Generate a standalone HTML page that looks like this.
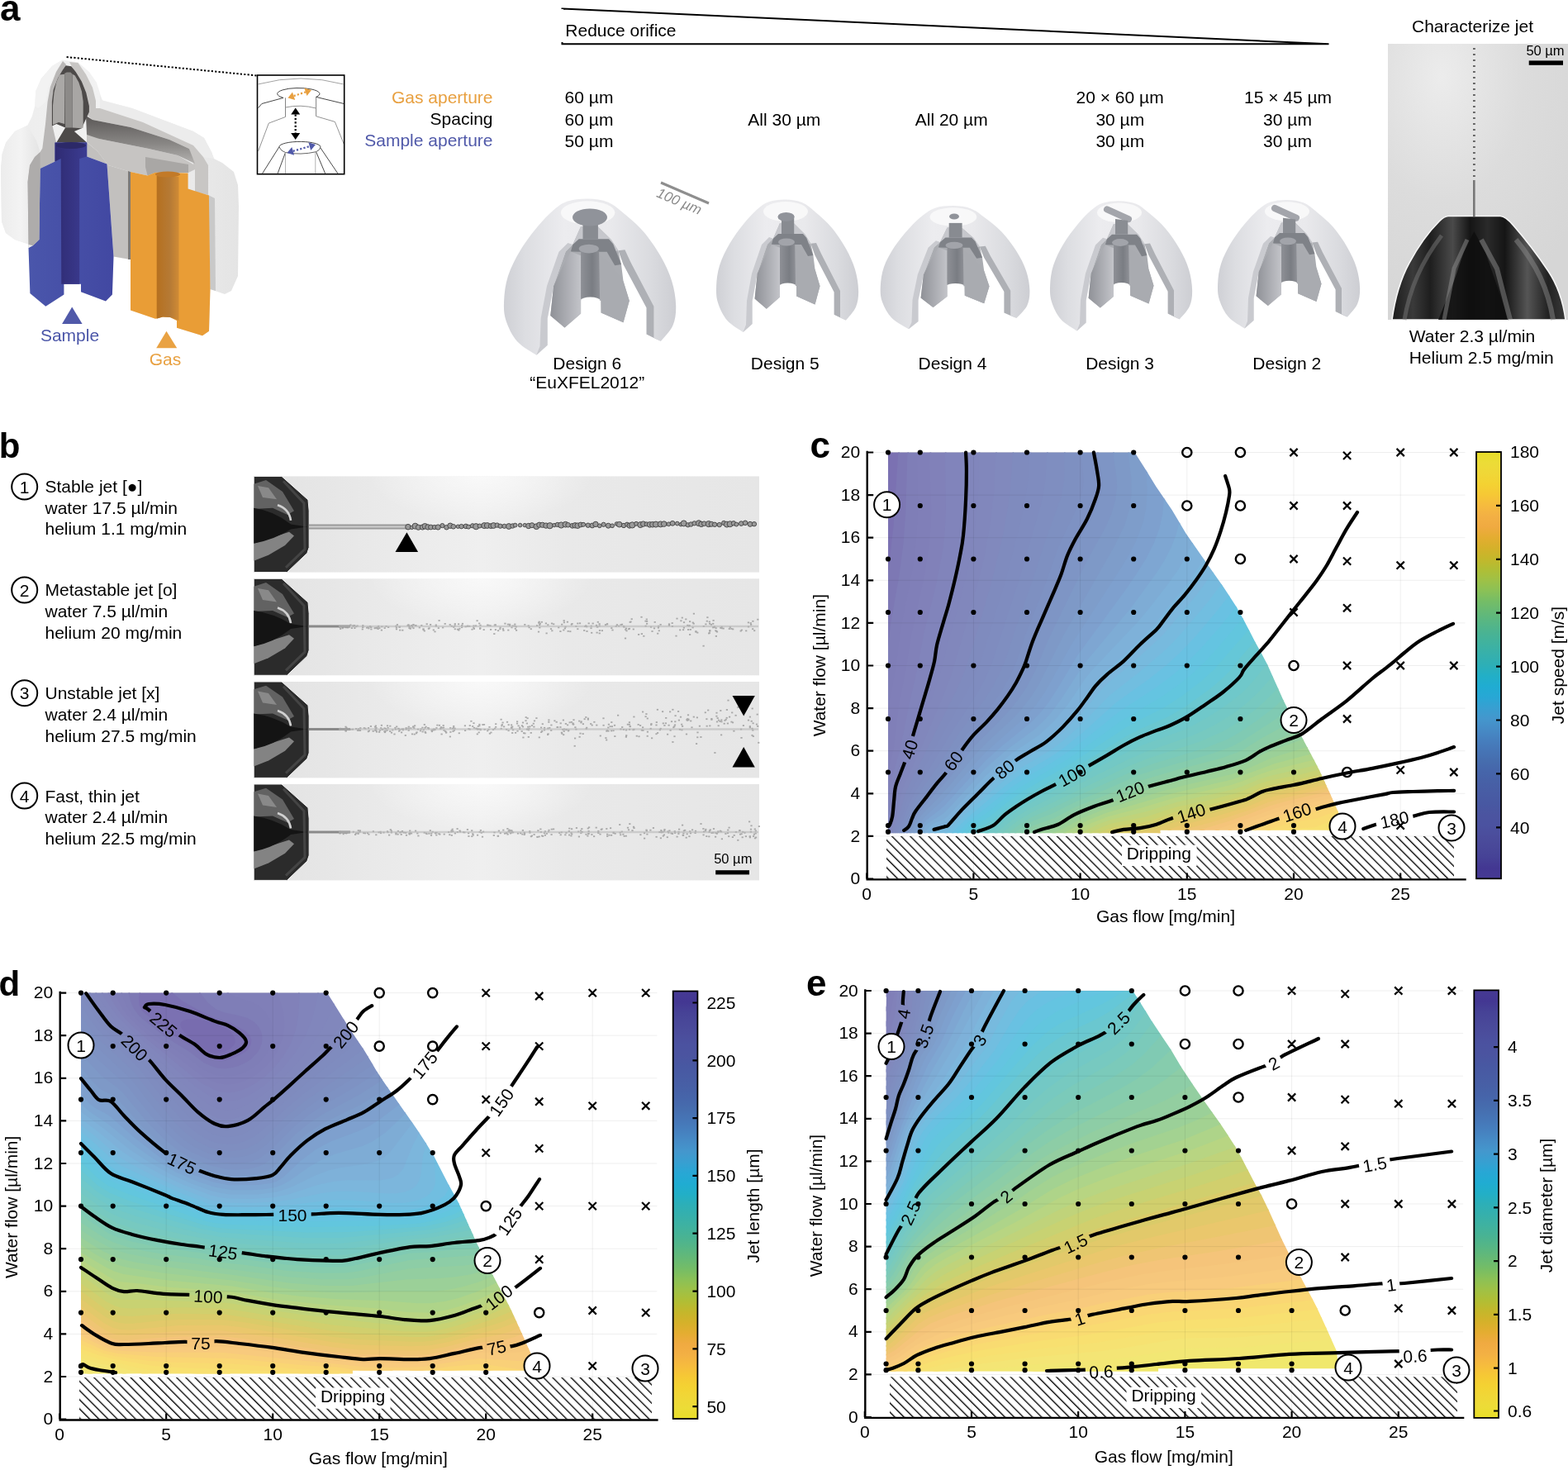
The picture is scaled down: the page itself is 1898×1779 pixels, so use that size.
<!DOCTYPE html><html><head><meta charset="utf-8"><title>Figure</title><style>html,body{margin:0;padding:0;background:#fff;overflow:hidden}svg{display:block}</style></head><body><svg width="1898" height="1779" viewBox="0 0 1898 1779"><defs>
<pattern id="hatch" patternUnits="userSpaceOnUse" width="7.85" height="20" patternTransform="rotate(-45)">
<rect x="0" y="0" width="1.35" height="20" fill="#000"/>
</pattern>
</defs>
<g style="font-family:'Liberation Sans',Arial,sans-serif;font-weight:bold"><text x="0" y="24.5" font-size="44">a</text><text x="-1.2" y="553.9" font-size="42">b</text><text x="980.6" y="554.4" font-size="44">c</text><text x="-1.5" y="1204.5" font-size="42">d</text><text x="976" y="1204.8" font-size="44">e</text></g>
<linearGradient id="shellL" x1="0" y1="0" x2="1" y2="0"><stop offset="0" stop-color="#ececec"/><stop offset="0.5" stop-color="#f3f3f3"/><stop offset="1" stop-color="#e4e4e4"/></linearGradient>
<linearGradient id="gasCav" x1="0" y1="0" x2="0" y2="1"><stop offset="0" stop-color="#5a5756"/><stop offset="0.6" stop-color="#8a8886"/><stop offset="1" stop-color="#b4b2b0"/></linearGradient>
<linearGradient id="blueCol" x1="0" y1="0" x2="1" y2="0"><stop offset="0" stop-color="#2f2b72"/><stop offset="1" stop-color="#3c3c92"/></linearGradient>
<linearGradient id="oraCol" x1="0" y1="0" x2="1" y2="0"><stop offset="0" stop-color="#b5701f"/><stop offset="0.6" stop-color="#b67a35"/><stop offset="1" stop-color="#d08b35"/></linearGradient>
<linearGradient id="blueMain" x1="0" y1="0" x2="1" y2="0"><stop offset="0" stop-color="#4a56ab"/><stop offset="1" stop-color="#4248a2"/></linearGradient>
<polygon points="75.5,72.6 63.0,80.0 50.0,95.0 43.2,110.4 42.3,128.3 38.7,141.0 33.3,151.7 18.0,159.0 7.2,172.4 2.7,186.0 1.0,204.0 2.0,268.0 7.0,282.0 18.0,290.0 36.0,296.0 36.4,355.0 55.3,370.7 77.4,356.5 77.4,343.8 98.0,343.8 98.0,353.3 128.0,364.4 135.9,356.5 137.5,310.6 155.0,314.0 158.0,314.0 158.0,375.4 188.0,385.7 197.0,383.5 206.0,384.0 214.0,388.0 214.0,396.8 245.0,406.3 253.0,400.7 254.5,350.0 272.0,356.0 280.0,352.0 288.0,334.0 289.0,250.0 288.0,224.0 283.0,208.0 269.0,197.0 259.0,192.0 256.0,184.0 247.0,167.0 234.0,159.0 160.0,131.0 124.0,121.5 121.0,121.0 121.4,114.0 117.0,100.0 108.0,87.0 94.4,75.3" fill="url(#shellL)"/>
<polygon points="121.0,114.0 124.0,121.5 160.0,131.0 234.0,159.0 247.0,167.0 256.0,184.0 259.0,192.0 246.0,190.0 234.0,176.0 173.0,148.0 121.0,131.0" fill="#ececec"/>
<polygon points="75.5,72.6 63.0,80.0 50.0,95.0 43.2,110.4 42.3,128.3 46.0,131.0 55.0,124.0 58.0,108.0 65.0,92.0" fill="#f2f2f2"/>
<polygon points="76.0,74.0 80.0,78.0 70.0,95.0 64.0,115.0 63.0,150.0 68.0,172.0 66.5,172.4 66.5,195.5 48.6,204.0 47.4,290.0 40.0,297.0 34.5,300.0 33.5,220.0 36.0,200.0 42.0,190.0 48.6,184.0 51.3,179.6 55.0,150.0 57.6,123.0 61.0,105.0 68.0,87.0" fill="#b9b7b6"/>
<polygon points="84.0,75.0 94.4,76.0 104.0,90.0 112.0,106.0 116.0,122.0 116.0,131.0 121.0,131.0 173.0,148.0 234.0,176.0 246.0,190.0 252.0,200.0 252.0,236.0 236.0,232.0 236.0,205.0 229.0,180.0 205.0,169.0 158.0,154.0 112.0,145.0 106.0,140.0 104.0,120.0 98.0,100.0 90.0,86.0" fill="#c8c6c4"/>
<polygon points="105.0,160.0 120.0,168.0 150.0,174.0 180.0,180.0 215.0,188.0 236.0,200.0 236.0,205.0 228.0,209.0 188.0,208.7 178.6,212.6 158.0,208.0 131.0,200.0 118.0,183.0 105.0,172.0" fill="#c6c4c2"/>
<polygon points="104.0,140.0 112.0,145.0 158.0,154.0 205.0,169.0 229.0,180.0 236.0,198.0 215.0,188.0 180.0,180.0 150.0,174.0 120.0,168.0 105.0,163.0" fill="url(#gasCav)"/>
<polygon points="176.0,190.0 228.0,199.0 228.0,209.0 188.0,208.7 178.6,212.6 176.0,202.0" fill="#a9a7a5"/>
<polygon points="79.5,79.3 86.3,80.2 91.7,87.0 98.9,98.7 104.3,112.2 107.9,128.3 107.9,135.5 98.9,155.3 89.9,158.9 105.2,172.4 68.3,172.4 79.1,154.4 68.3,149.9 62.9,152.6 62.9,123.0 64.7,108.6 70.1,94.2 75.5,85.2" fill="#4d4a49"/>
<polygon points="71.9,90.6 78.2,89.7 78.2,150.0 71.0,148.1 64.0,151.0 64.0,127.4 65.5,112.2 68.3,99.6" fill="#aaa8a6"/>
<polygon points="87.7,89.7 90.8,91.5 95.3,99.6 98.9,110.4 100.7,123.0 100.7,154.4 98.9,155.3 87.7,154.4" fill="#a8a6a4"/>
<polygon points="78.2,88.8 80.9,87.4 85.4,87.4 87.7,89.7 87.7,154.4 79.1,154.4" fill="#8c8a88"/>
<polygon points="105.2,172.4 118.0,183.0 131.0,200.0 158.0,208.0 158.0,314.0 137.5,310.6 129.5,198.5 105.2,189.5" fill="#c2c0be"/>
<polygon points="155.0,207.0 158.0,208.0 158.0,314.0 155.0,314.0" fill="#7d7b79"/>
<polygon points="252.0,236.0 260.0,240.0 261.0,352.0 254.5,350.0" fill="#c9c9c9"/>
<polygon points="48.6,204.0 66.5,195.5 66.5,172.4 105.2,172.4 105.2,189.5 129.5,198.5 137.5,310.6 135.9,356.5 128.0,364.4 98.0,353.3 98.0,343.8 77.4,343.8 77.4,356.5 55.3,370.7 36.4,354.9 34.5,300.0 40.0,297.0 47.4,290.0" fill="url(#blueMain)"/>
<polygon points="66.5,172.4 105.2,172.4 105.2,189.5 96.2,192.0 96.2,343.8 74.3,343.8 73.7,192.0 66.5,195.5" fill="url(#blueCol)"/>
<ellipse cx="86" cy="176" rx="18" ry="4" fill="#2c2968"/>
<polygon points="33.3,151.7 18.0,159.0 7.2,172.4 2.7,186.0 1.0,204.0 2.0,268.0 7.0,282.0 18.0,290.0 36.0,296.0 40.0,297.0 34.5,300.0 33.5,220.0 36.0,200.0 42.0,190.0 48.6,184.0 44.0,170.0 38.0,160.0" fill="url(#shellL)"/>
<polygon points="36.0,200.0 42.0,190.0 48.6,184.0 48.6,204.0 47.4,290.0 40.0,297.0 34.5,296.0 33.5,220.0" fill="#aeacab"/>
<polygon points="158.0,208.0 178.6,212.6 188.0,208.7 227.6,209.5 227.6,228.4 252.9,236.4 254.5,350.0 253.0,400.7 245.0,406.3 214.0,396.8 214.0,388.0 206.0,384.0 197.0,383.5 188.0,385.7 158.0,375.4" fill="#e99d36"/>
<polygon points="189.7,213.0 216.5,214.0 216.5,388.0 206.0,384.0 197.0,383.5 189.7,385.7" fill="url(#oraCol)"/>
<ellipse cx="203" cy="211" rx="15" ry="3.5" fill="#c27a28"/>
<polygon points="75.1,392 87.2,371.5 99.6,392" fill="#5059a9"/>
<text x="84.5" y="412.6" text-anchor="middle" style="font-family:'Liberation Sans',Arial,sans-serif;font-size:21px;fill:#4a55a8">Sample</text>
<polygon points="189.2,421.3 201.5,400.7 214.2,421.3" fill="#e9a243"/>
<text x="200" y="441.8" text-anchor="middle" style="font-family:'Liberation Sans',Arial,sans-serif;font-size:21px;fill:#e8a040">Gas</text>
<line x1="80.6" y1="69" x2="311.5" y2="91.5" stroke="#000" stroke-width="2" stroke-dasharray="2.2 2.2"/>
<g fill="none" stroke="#555" stroke-width="0.9">
<path d="M312.6 101.9Q364 88 415.5 101.9" stroke="#999"/>
<path d="M343 118.4A25.6 7 0 1 1 382.6 117.4" stroke="#333"/>
<path d="M312.6 130.6L316.9 125.5L343 118.4M382.6 117.4L416.3 125.5" stroke="#333"/>
<path d="M345.5 118.4V141.5M382.6 117.4V140.7" stroke="#777"/>
<path d="M345.5 130Q364 126 382.6 131" stroke="#888"/>
<path d="M345.5 141.5L325.3 149.1L312.6 182.9M382.6 140.7L405.4 147.4L416.3 174.4" stroke="#888"/>
<path d="M337.9 177.8A25 6.4 0 1 1 387.7 178.6" stroke="#333"/>
<path d="M337.9 177.8Q340 183 345.5 184.5Q364 188 382.6 183.7Q387 182 387.7 178.6" stroke="#555"/>
<path d="M337.9 177.8L317.7 209.8M387.7 178.6L408.8 209.8M345.5 184.5L336.2 209.8M382.6 183.7L393.6 209.8" stroke="#333"/>
<path d="M345.5 184.5V209.8M381.8 183.7V209.8" stroke="#aaa"/>
</g>
<line x1="355.6" y1="116.1" x2="369.9" y2="111.4" stroke="#e8a040" stroke-width="2.2" stroke-dasharray="2.2 2.2"/><polygon points="377.0,109.0 371.5,116.1 368.3,106.6" fill="#e8a040"/><polygon points="348.5,118.5 357.2,120.9 354.0,111.4" fill="#e8a040"/>
<line x1="357.7" y1="138.5" x2="357.7" y2="161.0" stroke="#000" stroke-width="2.2" stroke-dasharray="2.2 2.2"/><polygon points="357.7,169.0 352.2,161.0 363.2,161.0" fill="#000"/><polygon points="357.7,130.5 352.2,138.5 363.2,138.5" fill="#000"/>
<line x1="354.7" y1="182.9" x2="374.8" y2="177.1" stroke="#5059a9" stroke-width="2.2" stroke-dasharray="2.2 2.2"/><polygon points="382.0,175.0 376.2,181.9 373.4,172.3" fill="#5059a9"/><polygon points="347.5,185.0 356.1,187.7 353.3,178.1" fill="#5059a9"/>
<rect x="311.5" y="91" width="105.2" height="119.7" fill="none" stroke="#000" stroke-width="1.6"/>
<g style="font-family:'Liberation Sans',Arial,sans-serif;font-size:21px" text-anchor="end"><text x="596.5" y="124.7" fill="#e8a040">Gas aperture</text><text x="596.5" y="150.8">Spacing</text><text x="596.5" y="177" fill="#5059a9">Sample aperture</text></g>
<linearGradient id="dgShell" x1="0" y1="0" x2="1" y2="0"><stop offset="0" stop-color="#cfd0d5"/><stop offset="0.12" stop-color="#dcdde1"/><stop offset="0.35" stop-color="#ececef"/><stop offset="0.62" stop-color="#e9e9ec"/><stop offset="0.85" stop-color="#dadbdf"/><stop offset="1" stop-color="#cdced3"/></linearGradient>
<linearGradient id="dgLeg" x1="0" y1="0" x2="1" y2="0"><stop offset="0" stop-color="#8f9197"/><stop offset="1" stop-color="#c3c4c9"/></linearGradient>
<linearGradient id="dgTube" x1="0" y1="0" x2="1" y2="0"><stop offset="0" stop-color="#8e9096"/><stop offset="0.6" stop-color="#7a7d83"/><stop offset="1" stop-color="#8e9096"/></linearGradient>
<path d="M649.3 429.8C645.4 427.0 632.0 420.0 625.9 413.0C619.8 406.0 615.1 396.1 612.5 388.0C609.8 379.8 609.7 373.0 610.1 364.0C610.5 355.1 611.6 344.4 614.9 334.3C618.2 324.2 623.7 313.2 629.7 303.3C635.6 293.3 643.7 282.8 650.5 274.6C657.2 266.4 664.0 259.5 670.1 254.3C676.2 249.1 680.2 245.9 687.1 243.6C694.1 241.3 703.5 240.3 711.7 240.5C719.9 240.7 729.0 241.8 736.1 244.7C743.3 247.6 747.4 251.9 754.5 257.8C761.7 263.8 771.4 271.7 779.0 280.5C786.5 289.2 794.1 300.4 799.8 310.3C805.5 320.3 810.2 330.2 813.2 340.2C816.3 350.1 818.0 361.1 818.2 370.1C818.4 379.0 817.5 386.7 814.4 393.9C811.4 401.0 802.2 409.8 799.8 413.0L782.6 404.6L782.6 372.4L754.5 319.9L748.4 303.3L739.8 290.0L723.9 274.6L703.1 274.0L693.3 296.1L684.7 304.4L670.1 346.2L662.7 385.6L662.7 417.8Z" fill="url(#dgShell)"/>
<polygon points="649.3,429.8 662.7,417.8 662.7,385.6 670.1,346.2 684.7,304.4 693.3,296.1 687.4,294.1 676.5,304.7 662.0,346.0 654.7,384.9 653.5,419.1" fill="#c9cacf"/>
<polygon points="782.6,404.6 799.8,413.0 791.4,408.5 791.4,370.8 763.6,317.7 756.4,302.3 748.4,303.3 754.5,319.9 782.6,372.4" fill="#aeb0b5"/>
<ellipse cx="711.6" cy="257.5" rx="32.7" ry="14.2" fill="#f9f9fa" opacity="0.9"/>
<polygon points="693.3,296.1 703.1,274.0 723.9,274.6 739.8,290.0 748.4,303.3 752.0,319.9 754.5,340.2 761.8,364.0 754.5,390.3 727.6,378.4 727.3,363.7 703.1,363.7 703.1,379.6 683.5,396.4 666.3,382.0 670.1,346.2 684.7,304.4" fill="#aaacb1"/>
<polygon points="693.3,296.1 703.1,274.0 723.9,274.6 739.8,290.0 748.4,303.3 741.8,304.7 734.6,294.1 700.7,294.1" fill="#c6c7cc"/>
<polygon points="693.3,296.1 700.7,289.3 737.0,289.3 742.2,295.2 752.0,319.9 744.2,321.2 734.6,304.7 703.1,304.7 690.9,304.4" fill="#7f8288"/>
<polygon points="690.9,304.4 703.1,309.2 703.1,379.6 683.5,396.4 666.3,382.0 670.1,346.2 681.1,322.3" fill="url(#dgLeg)"/>
<polygon points="723.9,308.0 736.1,316.4 754.5,340.2 761.8,364.0 754.5,390.3 727.6,378.4 727.6,362.9" fill="#a9abb0"/>
<polygon points="703.1,304.4 725.1,304.4 726.1,361.7 703.1,361.7" fill="url(#dgTube)"/>
<ellipse cx="714.6" cy="363.1" rx="11.6" ry="3.5" fill="#fff"/>
<ellipse cx="712.8" cy="301.1" rx="12.1" ry="5.3" fill="#a2a4aa"/>
<polygon points="705.5,266.9 723.9,266.9 723.9,289.3 705.5,289.3" fill="#888b91"/>
<ellipse cx="714.0" cy="263.0" rx="21.0" ry="10.5" fill="#90939a"/>
<path d="M899.5 402.0C896.3 399.6 885.3 393.7 880.2 387.8C875.1 381.9 871.3 373.5 869.1 366.6C866.9 359.7 866.8 353.9 867.1 346.3C867.4 338.7 868.4 329.7 871.1 321.1C873.8 312.5 878.4 303.2 883.3 294.8C888.2 286.4 894.9 277.4 900.5 270.5C906.1 263.6 911.7 257.7 916.7 253.3C921.8 248.9 925.1 246.1 930.8 244.2C936.5 242.2 944.4 241.4 951.1 241.6C957.9 241.8 965.4 242.8 971.3 245.2C977.2 247.6 980.6 251.2 986.5 256.3C992.4 261.4 1000.5 268.1 1006.7 275.5C1012.9 282.9 1019.2 292.4 1023.9 300.8C1028.6 309.2 1032.5 317.7 1035.0 326.1C1037.5 334.5 1038.9 343.8 1039.1 351.4C1039.3 359.0 1038.5 365.5 1036.0 371.6C1033.5 377.7 1025.9 385.1 1023.9 387.8L1009.7 380.7L1009.7 353.4L986.5 308.9L981.4 294.8L974.3 283.6L961.2 270.5L944.0 270.0L935.9 288.7L928.8 295.8L916.7 331.2L910.6 364.6L910.6 391.9Z" fill="url(#dgShell)"/>
<polygon points="899.5,402.0 910.6,391.9 910.6,364.6 916.7,331.2 928.8,295.8 935.9,288.7 931.0,287.0 922.0,296.0 910.0,331.0 904.0,364.0 903.0,393.0" fill="#c9cacf"/>
<polygon points="1009.7,380.7 1023.9,387.8 1017.0,384.0 1017.0,352.0 994.0,307.0 988.0,294.0 981.4,294.8 986.5,308.9 1009.7,353.4" fill="#aeb0b5"/>
<ellipse cx="951.0" cy="256.0" rx="27.0" ry="12.0" fill="#f9f9fa" opacity="0.9"/>
<polygon points="935.9,288.7 944.0,270.0 961.2,270.5 974.3,283.6 981.4,294.8 984.4,308.9 986.5,326.1 992.5,346.3 986.5,368.6 964.2,358.5 964.0,346.0 944.0,346.0 944.0,359.5 927.8,373.7 913.6,361.5 916.7,331.2 928.8,295.8" fill="#aaacb1"/>
<polygon points="935.9,288.7 944.0,270.0 961.2,270.5 974.3,283.6 981.4,294.8 976.0,296.0 970.0,287.0 942.0,287.0" fill="#c6c7cc"/>
<polygon points="935.9,288.7 942.0,283.0 972.0,283.0 976.3,288.0 984.4,308.9 978.0,310.0 970.0,296.0 944.0,296.0 933.9,295.8" fill="#7f8288"/>
<polygon points="933.9,295.8 944.0,299.8 944.0,359.5 927.8,373.7 913.6,361.5 916.7,331.2 925.8,310.9" fill="url(#dgLeg)"/>
<polygon points="961.2,298.8 971.3,305.9 986.5,326.1 992.5,346.3 986.5,368.6 964.2,358.5 964.2,345.3" fill="#a9abb0"/>
<polygon points="944.0,295.8 962.2,295.8 963.0,344.3 944.0,344.3" fill="url(#dgTube)"/>
<ellipse cx="953.5" cy="345.5" rx="9.6" ry="3.0" fill="#fff"/>
<ellipse cx="952.0" cy="293.0" rx="10.0" ry="4.5" fill="#a2a4aa"/>
<polygon points="946.0,264.0 961.2,264.0 961.2,283.0 946.0,283.0" fill="#888b91"/>
<ellipse cx="951.6" cy="262.4" rx="10.1" ry="5.5" fill="#90939a"/>
<path d="M1099.8 398.3C1096.4 396.1 1084.9 390.5 1079.6 385.1C1074.2 379.6 1070.2 371.8 1067.9 365.3C1065.6 358.9 1065.5 353.5 1065.8 346.5C1066.2 339.4 1067.2 331.0 1070.0 323.0C1072.8 315.0 1077.7 306.4 1082.8 298.6C1088.0 290.7 1095.0 282.4 1100.9 276.0C1106.7 269.5 1112.6 264.0 1117.9 260.0C1123.2 255.9 1126.7 253.3 1132.7 251.5C1138.7 249.7 1146.9 248.9 1154.0 249.1C1161.1 249.2 1169.0 250.2 1175.2 252.4C1181.4 254.7 1185.0 258.1 1191.2 262.8C1197.4 267.5 1205.8 273.7 1212.4 280.6C1218.9 287.5 1225.5 296.3 1230.4 304.1C1235.4 312.0 1239.4 319.8 1242.1 327.7C1244.8 335.5 1246.2 344.1 1246.4 351.2C1246.6 358.3 1245.8 364.3 1243.2 370.0C1240.5 375.6 1232.6 382.5 1230.4 385.1L1215.5 378.5L1215.5 353.1L1191.2 311.7L1185.8 298.6L1178.4 288.1L1164.6 276.0L1146.5 275.5L1138.0 292.9L1130.6 299.5L1117.9 332.4L1111.5 363.5L1111.5 388.9Z" fill="url(#dgShell)"/>
<polygon points="1099.8,398.3 1111.5,388.9 1111.5,363.5 1117.9,332.4 1130.6,299.5 1138.0,292.9 1132.9,291.3 1123.5,299.7 1110.8,332.2 1104.5,362.9 1103.5,389.9" fill="#c9cacf"/>
<polygon points="1215.5,378.5 1230.4,385.1 1223.2,381.5 1223.2,351.8 1199.0,309.9 1192.8,297.8 1185.8,298.6 1191.2,311.7 1215.5,353.1" fill="#aeb0b5"/>
<ellipse cx="1153.9" cy="262.5" rx="28.4" ry="11.2" fill="#f9f9fa" opacity="0.9"/>
<polygon points="1138.0,292.9 1146.5,275.5 1164.6,276.0 1178.4,288.1 1185.8,298.6 1189.0,311.7 1191.2,327.7 1197.5,346.5 1191.2,367.2 1167.8,357.8 1167.5,346.2 1146.5,346.2 1146.5,358.7 1129.5,371.9 1114.6,360.6 1117.9,332.4 1130.6,299.5" fill="#aaacb1"/>
<polygon points="1138.0,292.9 1146.5,275.5 1164.6,276.0 1178.4,288.1 1185.8,298.6 1180.2,299.7 1173.8,291.3 1144.5,291.3" fill="#c6c7cc"/>
<polygon points="1138.0,292.9 1144.5,287.6 1176.0,287.6 1180.5,292.2 1189.0,311.7 1182.2,312.7 1173.8,299.7 1146.5,299.7 1135.9,299.5" fill="#7f8288"/>
<polygon points="1135.9,299.5 1146.5,303.2 1146.5,358.7 1129.5,371.9 1114.6,360.6 1117.9,332.4 1127.4,313.5" fill="url(#dgLeg)"/>
<polygon points="1164.6,302.3 1175.2,308.9 1191.2,327.7 1197.5,346.5 1191.2,367.2 1167.8,357.8 1167.8,345.5" fill="#a9abb0"/>
<polygon points="1146.5,299.5 1165.7,299.5 1166.5,344.6 1146.5,344.6" fill="url(#dgTube)"/>
<ellipse cx="1156.5" cy="345.7" rx="10.1" ry="2.8" fill="#fff"/>
<ellipse cx="1155.0" cy="296.9" rx="10.5" ry="4.2" fill="#a2a4aa"/>
<polygon points="1148.7,269.9 1164.6,269.9 1164.6,287.6 1148.7,287.6" fill="#888b91"/>
<ellipse cx="1155.0" cy="262.0" rx="6.0" ry="3.5" fill="#90939a"/>
<path d="M1303.5 400.4C1300.3 398.0 1289.3 392.2 1284.2 386.4C1279.1 380.7 1275.3 372.4 1273.1 365.7C1270.9 358.9 1270.8 353.2 1271.1 345.8C1271.4 338.3 1272.4 329.5 1275.1 321.1C1277.8 312.7 1282.4 303.6 1287.3 295.3C1292.2 287.0 1298.9 278.3 1304.5 271.5C1310.1 264.7 1315.7 258.9 1320.7 254.6C1325.8 250.3 1329.1 247.6 1334.8 245.7C1340.5 243.8 1348.3 243.0 1355.1 243.2C1361.8 243.3 1369.4 244.3 1375.3 246.7C1381.2 249.1 1384.6 252.6 1390.5 257.6C1396.4 262.5 1404.5 269.1 1410.7 276.4C1416.9 283.7 1423.2 292.9 1427.9 301.2C1432.6 309.4 1436.5 317.7 1439.0 326.0C1441.5 334.2 1442.9 343.3 1443.1 350.8C1443.3 358.2 1442.5 364.6 1440.0 370.6C1437.5 376.5 1429.9 383.8 1427.9 386.4L1413.7 379.5L1413.7 352.7L1390.5 309.1L1385.4 295.3L1378.3 284.3L1365.2 271.5L1348.0 271.0L1339.9 289.3L1332.8 296.3L1320.7 331.0L1314.6 363.7L1314.6 390.5Z" fill="url(#dgShell)"/>
<polygon points="1303.5,400.4 1314.6,390.5 1314.6,363.7 1320.7,331.0 1332.8,296.3 1339.9,289.3 1335.0,287.7 1326.0,296.5 1314.0,330.8 1308.0,363.1 1307.0,391.5" fill="#c9cacf"/>
<polygon points="1413.7,379.5 1427.9,386.4 1421.0,382.7 1421.0,351.4 1398.0,307.3 1392.0,294.5 1385.4,295.3 1390.5,309.1 1413.7,352.7" fill="#aeb0b5"/>
<ellipse cx="1355.0" cy="257.3" rx="27.0" ry="11.8" fill="#f9f9fa" opacity="0.9"/>
<polygon points="1339.9,289.3 1348.0,271.0 1365.2,271.5 1378.3,284.3 1385.4,295.3 1388.4,309.1 1390.5,326.0 1396.5,345.8 1390.5,367.6 1368.2,357.7 1368.0,345.5 1348.0,345.5 1348.0,358.7 1331.8,372.6 1317.6,360.7 1320.7,331.0 1332.8,296.3" fill="#aaacb1"/>
<polygon points="1339.9,289.3 1348.0,271.0 1365.2,271.5 1378.3,284.3 1385.4,295.3 1380.0,296.5 1374.0,287.7 1346.0,287.7" fill="#c6c7cc"/>
<polygon points="1339.9,289.3 1346.0,283.7 1376.0,283.7 1380.3,288.6 1388.4,309.1 1382.0,310.2 1374.0,296.5 1348.0,296.5 1337.9,296.3" fill="#7f8288"/>
<polygon points="1337.9,296.3 1348.0,300.2 1348.0,358.7 1331.8,372.6 1317.6,360.7 1320.7,331.0 1329.8,311.1" fill="url(#dgLeg)"/>
<polygon points="1365.2,299.2 1375.3,306.2 1390.5,326.0 1396.5,345.8 1390.5,367.6 1368.2,357.7 1368.2,344.8" fill="#a9abb0"/>
<polygon points="1348.0,296.3 1366.2,296.3 1367.0,343.8 1348.0,343.8" fill="url(#dgTube)"/>
<ellipse cx="1357.5" cy="345.0" rx="9.6" ry="2.9" fill="#fff"/>
<ellipse cx="1356.0" cy="293.5" rx="10.0" ry="4.4" fill="#a2a4aa"/>
<path d="M1340.0 253.4L1366.0 265.1" stroke="#a3a5ab" stroke-width="8.0" stroke-linecap="round"/>
<polygon points="1350.0,265.1 1365.2,267.1 1365.2,283.7 1350.0,283.7" fill="#8a8d93"/>
<path d="M1506.5 397.5C1503.3 395.2 1492.3 389.5 1487.2 383.8C1482.1 378.0 1478.3 369.9 1476.1 363.2C1473.9 356.5 1473.8 350.9 1474.1 343.5C1474.4 336.2 1475.4 327.4 1478.1 319.1C1480.8 310.7 1485.4 301.7 1490.3 293.6C1495.2 285.4 1501.9 276.7 1507.5 270.0C1513.1 263.3 1518.7 257.6 1523.7 253.3C1528.8 249.0 1532.1 246.4 1537.8 244.5C1543.5 242.6 1551.3 241.8 1558.1 242.0C1564.8 242.1 1572.4 243.1 1578.3 245.4C1584.2 247.8 1587.6 251.3 1593.5 256.2C1599.4 261.1 1607.5 267.6 1613.7 274.8C1619.9 282.0 1626.2 291.2 1630.9 299.4C1635.6 307.6 1639.5 315.7 1642.0 323.9C1644.5 332.1 1645.9 341.1 1646.1 348.5C1646.3 355.8 1645.5 362.2 1643.0 368.1C1640.5 373.9 1632.9 381.1 1630.9 383.8L1616.7 376.9L1616.7 350.4L1593.5 307.2L1588.4 293.6L1581.3 282.7L1568.2 270.0L1551.0 269.5L1542.9 287.6L1535.8 294.5L1523.7 328.9L1517.6 361.3L1517.6 387.7Z" fill="url(#dgShell)"/>
<polygon points="1506.5,397.5 1517.6,387.7 1517.6,361.3 1523.7,328.9 1535.8,294.5 1542.9,287.6 1538.0,286.0 1529.0,294.7 1517.0,328.7 1511.0,360.7 1510.0,388.8" fill="#c9cacf"/>
<polygon points="1616.7,376.9 1630.9,383.8 1624.0,380.1 1624.0,349.0 1601.0,305.4 1595.0,292.8 1588.4,293.6 1593.5,307.2 1616.7,350.4" fill="#aeb0b5"/>
<ellipse cx="1558.0" cy="255.9" rx="27.0" ry="11.6" fill="#f9f9fa" opacity="0.9"/>
<polygon points="1542.9,287.6 1551.0,269.5 1568.2,270.0 1581.3,282.7 1588.4,293.6 1591.4,307.2 1593.5,323.9 1599.5,343.5 1593.5,365.1 1571.2,355.3 1571.0,343.2 1551.0,343.2 1551.0,356.3 1534.8,370.1 1520.6,358.3 1523.7,328.9 1535.8,294.5" fill="#aaacb1"/>
<polygon points="1542.9,287.6 1551.0,269.5 1568.2,270.0 1581.3,282.7 1588.4,293.6 1583.0,294.7 1577.0,286.0 1549.0,286.0" fill="#c6c7cc"/>
<polygon points="1542.9,287.6 1549.0,282.1 1579.0,282.1 1583.3,287.0 1591.4,307.2 1585.0,308.3 1577.0,294.7 1551.0,294.7 1540.9,294.5" fill="#7f8288"/>
<polygon points="1540.9,294.5 1551.0,298.4 1551.0,356.3 1534.8,370.1 1520.6,358.3 1523.7,328.9 1532.8,309.2" fill="url(#dgLeg)"/>
<polygon points="1568.2,297.4 1578.3,304.3 1593.5,323.9 1599.5,343.5 1593.5,365.1 1571.2,355.3 1571.2,342.5" fill="#a9abb0"/>
<polygon points="1551.0,294.5 1569.2,294.5 1570.0,341.6 1551.0,341.6" fill="url(#dgTube)"/>
<ellipse cx="1560.5" cy="342.7" rx="9.6" ry="2.9" fill="#fff"/>
<ellipse cx="1559.0" cy="291.8" rx="10.0" ry="4.4" fill="#a2a4aa"/>
<path d="M1543.0 252.0L1569.0 263.7" stroke="#a3a5ab" stroke-width="8.0" stroke-linecap="round"/>
<polygon points="1553.0,263.7 1568.2,265.6 1568.2,282.1 1553.0,282.1" fill="#8a8d93"/>
<line x1="800" y1="221" x2="858" y2="246" stroke="#8e8e8e" stroke-width="3"/>
<text transform="translate(820,249) rotate(23)" text-anchor="middle" style="font-family:'Liberation Sans',Arial,sans-serif;font-size:17px;font-style:italic;fill:#8a8a8a">100 µm</text>
<polygon points="680.5,10.5 1608.5,53.3 680.5,53.3" fill="none" stroke="#000" stroke-width="2"/>
<rect x="679" y="11" width="3" height="40" fill="#fff"/>
<g style="font-family:'Liberation Sans',Arial,sans-serif;font-size:21px"><text x="684.3" y="43.8" text-anchor="start">Reduce orifice</text><text x="683.6" y="125.4" text-anchor="start">60 µm</text><text x="683.6" y="151.7" text-anchor="start">60 µm</text><text x="683.6" y="177.7" text-anchor="start">50 µm</text><text x="949.3" y="151.7" text-anchor="middle">All 30 µm</text><text x="1151.7" y="151.7" text-anchor="middle">All 20 µm</text><text x="1355.6" y="124.8" text-anchor="middle">20 × 60 µm</text><text x="1355.8" y="151.5" text-anchor="middle">30 µm</text><text x="1355.8" y="177.5" text-anchor="middle">30 µm</text><text x="1559" y="124.8" text-anchor="middle">15 × 45 µm</text><text x="1558.5" y="151.5" text-anchor="middle">30 µm</text><text x="1558.5" y="177.5" text-anchor="middle">30 µm</text><text x="710.8" y="446.7" text-anchor="middle">Design 6</text><text x="710.7" y="470.3" text-anchor="middle">“EuXFEL2012”</text><text x="950.3" y="446.7" text-anchor="middle">Design 5</text><text x="1153" y="446.7" text-anchor="middle">Design 4</text><text x="1355.6" y="446.7" text-anchor="middle">Design 3</text><text x="1557.8" y="446.7" text-anchor="middle">Design 2</text><text x="1782.5" y="38.8" text-anchor="middle">Characterize jet</text><text x="1705.7" y="414.3" text-anchor="start">Water 2.3 µl/min</text><text x="1705.7" y="439.7" text-anchor="start">Helium 2.5 mg/min</text></g>
<radialGradient id="jbg" cx="0.3" cy="0.12" r="0.9"><stop offset="0" stop-color="#ececec"/><stop offset="0.5" stop-color="#dcdcdc"/><stop offset="1" stop-color="#d6d6d6"/></radialGradient>
<linearGradient id="jnoz" x1="0" y1="0" x2="1" y2="0"><stop offset="0" stop-color="#1c1c1c"/><stop offset="0.12" stop-color="#3a3a3a"/><stop offset="0.22" stop-color="#1e1e1e"/><stop offset="0.35" stop-color="#4a4a4a"/><stop offset="0.45" stop-color="#151515"/><stop offset="0.55" stop-color="#2a2a2a"/><stop offset="0.65" stop-color="#151515"/><stop offset="0.78" stop-color="#555"/><stop offset="0.9" stop-color="#222"/><stop offset="1" stop-color="#3a3a3a"/></linearGradient>
<rect x="1680" y="53" width="218" height="334" fill="url(#jbg)"/>
<path d="M1685 387 C1688 365 1694 340 1706 318 C1718 296 1732 278 1742 268 C1746 264 1749 261.5 1753 261.5 L1816 261.5 C1821 261.5 1826 266 1832 273 C1846 289 1862 310 1874 328 C1886 346 1892 364 1895 387 Z" fill="url(#jnoz)" stroke="#f6f6f6" stroke-width="1.6"/>
<path d="M1784.3 280 L1772 305 L1760 340 L1741 387 L1826 387 L1810 340 L1798 305 Z" fill="#0e0e0e" opacity="0.85"/>
<path d="M1776 290 L1760 325 L1748 387" stroke="#9a9a9a" stroke-width="5" fill="none" opacity="0.45"/>
<path d="M1793 290 L1812 325 L1828 387" stroke="#9a9a9a" stroke-width="6" fill="none" opacity="0.45"/>
<path d="M1700 387 C1706 350 1722 315 1745 285" stroke="#777" stroke-width="5" fill="none" opacity="0.5"/>
<path d="M1880 387 C1874 350 1860 320 1835 290" stroke="#8a8a8a" stroke-width="6" fill="none" opacity="0.5"/>
<rect x="1783" y="218" width="2.6" height="44" fill="#777"/>
<rect x="1783" y="58" width="2.8" height="2" fill="#666"/><rect x="1783" y="65" width="2.8" height="2" fill="#666"/><rect x="1783" y="72" width="2.8" height="2" fill="#666"/><rect x="1783" y="79" width="2.8" height="2" fill="#666"/><rect x="1783" y="86" width="2.8" height="2" fill="#666"/><rect x="1783" y="93" width="2.8" height="2" fill="#666"/><rect x="1783" y="100" width="2.8" height="2" fill="#666"/><rect x="1783" y="107" width="2.8" height="2" fill="#666"/><rect x="1783" y="114" width="2.8" height="2" fill="#666"/><rect x="1783" y="121" width="2.8" height="2" fill="#666"/><rect x="1783" y="128" width="2.8" height="2" fill="#666"/><rect x="1783" y="135" width="2.8" height="2" fill="#666"/><rect x="1783" y="142" width="2.8" height="2" fill="#666"/><rect x="1783" y="149" width="2.8" height="2" fill="#666"/><rect x="1783" y="156" width="2.8" height="2" fill="#666"/><rect x="1783" y="163" width="2.8" height="2" fill="#666"/><rect x="1783" y="170" width="2.8" height="2" fill="#666"/><rect x="1783" y="177" width="2.8" height="2" fill="#666"/><rect x="1783" y="184" width="2.8" height="2" fill="#666"/><rect x="1783" y="191" width="2.8" height="2" fill="#666"/><rect x="1783" y="198" width="2.8" height="2" fill="#666"/><rect x="1783" y="205" width="2.8" height="2" fill="#666"/><rect x="1783" y="212" width="2.8" height="2" fill="#666"/>
<rect x="1850.7" y="73.4" width="41.3" height="5.4" fill="#000"/>
<text x="1870.5" y="67.3" text-anchor="middle" style="font-family:'Liberation Sans',Arial,sans-serif;font-size:16.5px">50 µm</text>
<linearGradient id="sbgL" x1="0" y1="0" x2="1" y2="0"><stop offset="0" stop-color="#e2e2e2"/><stop offset="0.3" stop-color="#ebebeb"/><stop offset="0.45" stop-color="#efefef"/><stop offset="0.62" stop-color="#e9e9e9"/><stop offset="1" stop-color="#e6e6e6"/></linearGradient>
<radialGradient id="sbgR" cx="0.45" cy="0.0" r="0.22" gradientTransform="translate(0.45,0) scale(1,2.2) translate(-0.45,0)"><stop offset="0" stop-color="#fafafa" stop-opacity="0.9"/><stop offset="1" stop-color="#fafafa" stop-opacity="0"/></radialGradient>
<linearGradient id="snoz" x1="0" y1="0" x2="1" y2="0"><stop offset="0" stop-color="#2a2a2a"/><stop offset="0.4" stop-color="#3c3c3c"/><stop offset="0.7" stop-color="#252525"/><stop offset="1" stop-color="#4a4a4a"/></linearGradient>
<rect x="307.2" y="576.4" width="611.8" height="116.2" fill="url(#sbgL)"/>
<rect x="307.2" y="576.4" width="611.8" height="116.2" fill="url(#sbgR)"/>
<polygon points="307.2,576.4 341.0,576.4 373.0,604.9 374.2,618.2 374.2,662.4 371.9,669.4 347.5,692.6 307.2,692.6" fill="#2b2b2b" stroke="#f4f4f4" stroke-width="1"/>
<polygon points="307.2,585.7 322.0,581.0 342.0,595.0 356.0,618.2 348.0,622.9 330.0,614.7 307.2,615.9" fill="#6c6c6c" opacity="0.85"/>
<polygon points="312.0,588.0 325.0,590.3 335.0,604.3 318.0,602.0" fill="#9a9a9a" opacity="0.7"/>
<path d="M336 611.3 Q350 615.9 352 629.9" stroke="#d0d0d0" stroke-width="2.6" fill="none"/>
<polygon points="307.2,657.7 328.0,650.8 350.0,643.8 356.0,648.4 345.0,660.1 325.0,671.7 307.2,678.7" fill="#8d8d8d" opacity="0.9"/>
<path d="M307.2 614.7 Q332 618.2 352 634.5 L372 637.5 L352 640.5 Q332 653.1 307.2 657.7 Z" fill="#141414"/>
<path d="M343 582.2 L368 608.9 L369 664.7 L346 686.8" stroke="#555" stroke-width="3" fill="none" opacity="0.6"/>
<rect x="374" y="634.5" width="120" height="6" fill="#9a9a9a"/>
<rect x="374" y="636.5" width="120" height="2" fill="#cfcfcf"/>
<g fill="#9a9a9a" stroke="#4a4a4a" stroke-width="1"><circle cx="494.0" cy="637.7" r="3.3"/><circle cx="498.5" cy="638.4" r="2.2"/><circle cx="502.6" cy="636.7" r="3.5"/><circle cx="506.4" cy="638.2" r="3.1"/><circle cx="511.4" cy="638.0" r="3.1"/><circle cx="514.4" cy="636.8" r="3.3"/><circle cx="518.0" cy="637.9" r="3.2"/><circle cx="521.5" cy="638.0" r="2.9"/><circle cx="525.9" cy="638.0" r="2.6"/><circle cx="530.2" cy="638.0" r="3.1"/><circle cx="535.4" cy="636.1" r="2.6"/><circle cx="540.5" cy="638.2" r="2.8"/><circle cx="545.0" cy="636.2" r="3.2"/><circle cx="548.8" cy="637.3" r="2.8"/><circle cx="554.4" cy="637.2" r="2.2"/><circle cx="558.5" cy="637.1" r="2.7"/><circle cx="563.9" cy="636.9" r="2.8"/><circle cx="567.1" cy="637.6" r="2.5"/><circle cx="572.0" cy="636.3" r="2.6"/><circle cx="576.2" cy="637.2" r="3.6"/><circle cx="580.6" cy="636.5" r="2.5"/><circle cx="586.2" cy="636.1" r="3.5"/><circle cx="589.8" cy="636.0" r="3.4"/><circle cx="594.3" cy="636.6" r="3.0"/><circle cx="597.4" cy="636.0" r="3.4"/><circle cx="601.8" cy="635.6" r="2.7"/><circle cx="605.6" cy="636.7" r="2.6"/><circle cx="610.5" cy="636.8" r="2.6"/><circle cx="615.9" cy="637.0" r="3.4"/><circle cx="620.4" cy="636.5" r="2.7"/><circle cx="623.6" cy="635.6" r="2.4"/><circle cx="629.6" cy="635.6" r="2.3"/><circle cx="635.2" cy="635.6" r="2.2"/><circle cx="639.8" cy="636.5" r="3.2"/><circle cx="643.9" cy="635.7" r="3.0"/><circle cx="649.3" cy="637.2" r="3.4"/><circle cx="652.8" cy="635.2" r="3.1"/><circle cx="656.6" cy="635.3" r="3.1"/><circle cx="660.9" cy="636.1" r="3.2"/><circle cx="665.6" cy="636.2" r="3.6"/><circle cx="670.9" cy="635.6" r="2.2"/><circle cx="674.8" cy="634.9" r="2.6"/><circle cx="679.3" cy="635.5" r="3.6"/><circle cx="684.5" cy="634.7" r="3.4"/><circle cx="687.6" cy="635.3" r="2.8"/><circle cx="692.9" cy="636.3" r="2.9"/><circle cx="696.1" cy="635.8" r="3.2"/><circle cx="699.2" cy="636.2" r="3.3"/><circle cx="702.9" cy="635.0" r="2.9"/><circle cx="706.1" cy="634.8" r="2.5"/><circle cx="711.8" cy="635.7" r="2.7"/><circle cx="716.9" cy="636.0" r="2.9"/><circle cx="721.0" cy="634.4" r="3.2"/><circle cx="725.8" cy="636.3" r="2.4"/><circle cx="730.6" cy="634.8" r="2.6"/><circle cx="736.3" cy="636.2" r="3.0"/><circle cx="741.1" cy="636.3" r="2.4"/><circle cx="746.5" cy="634.0" r="2.3"/><circle cx="749.7" cy="634.7" r="3.3"/><circle cx="755.0" cy="636.0" r="2.7"/><circle cx="759.0" cy="634.6" r="2.5"/><circle cx="762.1" cy="636.1" r="3.1"/><circle cx="765.3" cy="635.4" r="3.6"/><circle cx="770.1" cy="633.8" r="2.5"/><circle cx="775.2" cy="635.1" r="3.5"/><circle cx="778.7" cy="634.1" r="3.2"/><circle cx="782.6" cy="634.3" r="2.5"/><circle cx="786.5" cy="634.9" r="3.3"/><circle cx="789.9" cy="634.8" r="3.3"/><circle cx="793.9" cy="634.6" r="3.5"/><circle cx="799.6" cy="634.4" r="3.5"/><circle cx="803.7" cy="634.1" r="3.3"/><circle cx="809.4" cy="634.3" r="2.4"/><circle cx="814.1" cy="633.3" r="2.9"/><circle cx="819.8" cy="633.6" r="2.4"/><circle cx="824.2" cy="634.7" r="2.2"/><circle cx="827.7" cy="633.4" r="3.5"/><circle cx="832.7" cy="635.3" r="2.6"/><circle cx="836.4" cy="634.5" r="2.7"/><circle cx="840.5" cy="633.3" r="2.6"/><circle cx="845.8" cy="633.2" r="3.5"/><circle cx="848.9" cy="634.4" r="3.2"/><circle cx="852.3" cy="633.7" r="2.8"/><circle cx="857.8" cy="634.1" r="3.6"/><circle cx="861.2" cy="634.3" r="3.0"/><circle cx="865.1" cy="634.8" r="2.7"/><circle cx="870.8" cy="635.1" r="2.7"/><circle cx="876.2" cy="632.9" r="2.6"/><circle cx="879.9" cy="634.6" r="3.5"/><circle cx="883.7" cy="634.2" r="3.5"/><circle cx="888.0" cy="633.3" r="2.7"/><circle cx="891.4" cy="634.6" r="2.4"/><circle cx="897.2" cy="633.6" r="2.8"/><circle cx="902.1" cy="632.8" r="2.8"/><circle cx="908.0" cy="634.3" r="3.0"/><circle cx="912.9" cy="634.2" r="2.7"/></g>
<rect x="307.2" y="700.3" width="611.8" height="117.0" fill="url(#sbgL)"/>
<rect x="307.2" y="700.3" width="611.8" height="117.0" fill="url(#sbgR)"/>
<polygon points="307.2,700.3 341.0,700.3 373.0,729.0 374.2,742.4 374.2,786.9 371.9,793.9 347.5,817.3 307.2,817.3" fill="#2b2b2b" stroke="#f4f4f4" stroke-width="1"/>
<polygon points="307.2,709.7 322.0,705.0 342.0,719.0 356.0,742.4 348.0,747.1 330.0,738.9 307.2,740.1" fill="#6c6c6c" opacity="0.85"/>
<polygon points="312.0,712.0 325.0,714.3 335.0,728.4 318.0,726.0" fill="#9a9a9a" opacity="0.7"/>
<path d="M336 735.4 Q350 740.1 352 754.1" stroke="#d0d0d0" stroke-width="2.6" fill="none"/>
<polygon points="307.2,782.2 328.0,775.2 350.0,768.2 356.0,772.8 345.0,784.5 325.0,796.2 307.2,803.3" fill="#8d8d8d" opacity="0.9"/>
<path d="M307.2 738.9 Q332 742.4 352 755.0 L372 758.0 L352 761.0 Q332 777.5 307.2 782.2 Z" fill="#141414"/>
<path d="M343 706.1 L368 733.1 L369 789.2 L346 811.4" stroke="#555" stroke-width="3" fill="none" opacity="0.6"/>
<rect x="374" y="756.5" width="50" height="3" fill="#8a8a8a"/>
<g fill="#8e8e8e" opacity="0.7"><rect x="494.4" y="759.2" width="2.2" height="1.8"/><rect x="834.0" y="767.1" width="2.2" height="1.8"/><rect x="722.2" y="757.8" width="2.2" height="1.8"/><rect x="837.5" y="758.6" width="2.2" height="1.8"/><rect x="454.9" y="758.7" width="2.2" height="1.8"/><rect x="580.0" y="760.0" width="2.2" height="1.8"/><rect x="831.2" y="755.9" width="2.2" height="1.8"/><rect x="721.5" y="764.7" width="2.2" height="1.8"/><rect x="574.9" y="756.4" width="2.2" height="1.8"/><rect x="455.4" y="759.5" width="2.2" height="1.8"/><rect x="677.3" y="763.2" width="2.2" height="1.8"/><rect x="834.7" y="761.0" width="2.2" height="1.8"/><rect x="857.7" y="751.6" width="2.2" height="1.8"/><rect x="649.0" y="756.2" width="2.2" height="1.8"/><rect x="714.4" y="759.3" width="2.2" height="1.8"/><rect x="853.3" y="754.5" width="2.2" height="1.8"/><rect x="854.7" y="750.8" width="2.2" height="1.8"/><rect x="624.0" y="761.9" width="2.2" height="1.8"/><rect x="765.7" y="760.6" width="2.2" height="1.8"/><rect x="589.0" y="755.6" width="2.2" height="1.8"/><rect x="700.9" y="753.4" width="2.2" height="1.8"/><rect x="659.8" y="753.5" width="2.2" height="1.8"/><rect x="493.3" y="755.3" width="2.2" height="1.8"/><rect x="502.4" y="756.2" width="2.2" height="1.8"/><rect x="486.2" y="761.8" width="2.2" height="1.8"/><rect x="638.6" y="756.4" width="2.2" height="1.8"/><rect x="411.0" y="760.1" width="2.2" height="1.8"/><rect x="865.3" y="762.3" width="2.2" height="1.8"/><rect x="545.7" y="756.8" width="2.2" height="1.8"/><rect x="681.8" y="752.4" width="2.2" height="1.8"/><rect x="904.8" y="752.5" width="2.2" height="1.8"/><rect x="782.0" y="751.0" width="2.2" height="1.8"/><rect x="795.8" y="758.8" width="2.2" height="1.8"/><rect x="511.4" y="760.3" width="2.2" height="1.8"/><rect x="884.3" y="760.0" width="2.2" height="1.8"/><rect x="428.1" y="756.0" width="2.2" height="1.8"/><rect x="823.3" y="750.4" width="2.2" height="1.8"/><rect x="740.4" y="761.6" width="2.2" height="1.8"/><rect x="445.2" y="759.5" width="2.2" height="1.8"/><rect x="494.7" y="757.3" width="2.2" height="1.8"/><rect x="592.4" y="756.3" width="2.2" height="1.8"/><rect x="418.8" y="758.4" width="2.2" height="1.8"/><rect x="616.0" y="754.8" width="2.2" height="1.8"/><rect x="423.4" y="755.5" width="2.2" height="1.8"/><rect x="837.7" y="752.6" width="2.2" height="1.8"/><rect x="478.9" y="760.5" width="2.2" height="1.8"/><rect x="549.7" y="754.2" width="2.2" height="1.8"/><rect x="866.9" y="763.7" width="2.2" height="1.8"/><rect x="593.0" y="761.0" width="2.2" height="1.8"/><rect x="716.6" y="753.6" width="2.2" height="1.8"/><rect x="660.5" y="765.5" width="2.2" height="1.8"/><rect x="530.5" y="750.1" width="2.2" height="1.8"/><rect x="795.1" y="765.8" width="2.2" height="1.8"/><rect x="537.6" y="754.0" width="2.2" height="1.8"/><rect x="683.5" y="757.8" width="2.2" height="1.8"/><rect x="458.3" y="759.2" width="2.2" height="1.8"/><rect x="667.2" y="762.4" width="2.2" height="1.8"/><rect x="529.7" y="759.2" width="2.2" height="1.8"/><rect x="607.9" y="760.2" width="2.2" height="1.8"/><rect x="841.4" y="763.9" width="2.2" height="1.8"/><rect x="707.2" y="757.2" width="2.2" height="1.8"/><rect x="763.6" y="748.3" width="2.2" height="1.8"/><rect x="426.4" y="756.2" width="2.2" height="1.8"/><rect x="798.5" y="755.0" width="2.2" height="1.8"/><rect x="448.2" y="758.1" width="2.2" height="1.8"/><rect x="762.4" y="751.6" width="2.2" height="1.8"/><rect x="650.9" y="763.7" width="2.2" height="1.8"/><rect x="622.1" y="756.6" width="2.2" height="1.8"/><rect x="452.5" y="759.4" width="2.2" height="1.8"/><rect x="662.2" y="755.3" width="2.2" height="1.8"/><rect x="857.0" y="765.6" width="2.2" height="1.8"/><rect x="426.3" y="756.9" width="2.2" height="1.8"/><rect x="744.6" y="757.0" width="2.2" height="1.8"/><rect x="780.5" y="756.7" width="2.2" height="1.8"/><rect x="608.3" y="762.1" width="2.2" height="1.8"/><rect x="410.0" y="757.8" width="2.2" height="1.8"/><rect x="907.6" y="753.1" width="2.2" height="1.8"/><rect x="822.1" y="761.5" width="2.2" height="1.8"/><rect x="523.7" y="761.5" width="2.2" height="1.8"/><rect x="724.6" y="765.5" width="2.2" height="1.8"/><rect x="751.9" y="754.8" width="2.2" height="1.8"/><rect x="865.5" y="759.2" width="2.2" height="1.8"/><rect x="461.2" y="757.5" width="2.2" height="1.8"/><rect x="641.7" y="760.3" width="2.2" height="1.8"/><rect x="858.0" y="753.9" width="2.2" height="1.8"/><rect x="910.3" y="750.9" width="2.2" height="1.8"/><rect x="469.0" y="758.2" width="2.2" height="1.8"/><rect x="615.9" y="756.2" width="2.2" height="1.8"/><rect x="517.8" y="759.9" width="2.2" height="1.8"/><rect x="724.9" y="762.1" width="2.2" height="1.8"/><rect x="881.7" y="760.1" width="2.2" height="1.8"/><rect x="841.3" y="763.2" width="2.2" height="1.8"/><rect x="761.6" y="752.0" width="2.2" height="1.8"/><rect x="838.8" y="741.8" width="2.2" height="1.8"/><rect x="902.1" y="762.5" width="2.2" height="1.8"/><rect x="447.0" y="757.0" width="2.2" height="1.8"/><rect x="604.2" y="760.3" width="2.2" height="1.8"/><rect x="509.2" y="756.0" width="2.2" height="1.8"/><rect x="438.2" y="756.1" width="2.2" height="1.8"/><rect x="496.9" y="756.1" width="2.2" height="1.8"/><rect x="709.4" y="763.1" width="2.2" height="1.8"/><rect x="526.7" y="756.8" width="2.2" height="1.8"/><rect x="754.3" y="757.9" width="2.2" height="1.8"/><rect x="721.5" y="757.4" width="2.2" height="1.8"/><rect x="579.1" y="753.6" width="2.2" height="1.8"/><rect x="427.3" y="756.8" width="2.2" height="1.8"/><rect x="709.1" y="757.5" width="2.2" height="1.8"/><rect x="654.7" y="751.9" width="2.2" height="1.8"/><rect x="580.4" y="755.8" width="2.2" height="1.8"/><rect x="720.8" y="755.9" width="2.2" height="1.8"/><rect x="652.2" y="758.6" width="2.2" height="1.8"/><rect x="478.8" y="758.5" width="2.2" height="1.8"/><rect x="759.9" y="760.4" width="2.2" height="1.8"/><rect x="447.6" y="758.2" width="2.2" height="1.8"/><rect x="502.0" y="756.1" width="2.2" height="1.8"/><rect x="698.2" y="760.3" width="2.2" height="1.8"/><rect x="639.5" y="758.4" width="2.2" height="1.8"/><rect x="482.7" y="757.7" width="2.2" height="1.8"/><rect x="570.4" y="760.8" width="2.2" height="1.8"/><rect x="622.7" y="760.0" width="2.2" height="1.8"/><rect x="652.1" y="755.2" width="2.2" height="1.8"/><rect x="669.1" y="754.4" width="2.2" height="1.8"/><rect x="492.5" y="756.1" width="2.2" height="1.8"/><rect x="602.0" y="762.3" width="2.2" height="1.8"/><rect x="682.8" y="759.6" width="2.2" height="1.8"/><rect x="910.1" y="760.3" width="2.2" height="1.8"/><rect x="424.8" y="759.2" width="2.2" height="1.8"/><rect x="666.9" y="753.6" width="2.2" height="1.8"/><rect x="499.4" y="759.3" width="2.2" height="1.8"/><rect x="558.0" y="758.3" width="2.2" height="1.8"/><rect x="724.6" y="756.4" width="2.2" height="1.8"/><rect x="580.2" y="759.2" width="2.2" height="1.8"/><rect x="916.2" y="748.8" width="2.2" height="1.8"/><rect x="781.7" y="748.6" width="2.2" height="1.8"/><rect x="543.6" y="755.1" width="2.2" height="1.8"/><rect x="453.3" y="759.1" width="2.2" height="1.8"/><rect x="778.2" y="768.9" width="2.2" height="1.8"/><rect x="706.1" y="762.1" width="2.2" height="1.8"/><rect x="518.5" y="759.3" width="2.2" height="1.8"/><rect x="818.4" y="747.7" width="2.2" height="1.8"/><rect x="438.2" y="757.7" width="2.2" height="1.8"/><rect x="858.2" y="762.1" width="2.2" height="1.8"/><rect x="696.2" y="757.1" width="2.2" height="1.8"/><rect x="558.1" y="756.0" width="2.2" height="1.8"/><rect x="782.0" y="753.9" width="2.2" height="1.8"/><rect x="598.8" y="755.4" width="2.2" height="1.8"/><rect x="838.6" y="753.8" width="2.2" height="1.8"/><rect x="460.8" y="761.7" width="2.2" height="1.8"/><rect x="414.0" y="758.6" width="2.2" height="1.8"/><rect x="597.2" y="766.2" width="2.2" height="1.8"/><rect x="826.8" y="758.8" width="2.2" height="1.8"/><rect x="895.6" y="762.7" width="2.2" height="1.8"/><rect x="772.0" y="767.0" width="2.2" height="1.8"/><rect x="679.1" y="754.8" width="2.2" height="1.8"/><rect x="622.2" y="754.6" width="2.2" height="1.8"/><rect x="829.2" y="748.5" width="2.2" height="1.8"/><rect x="430.1" y="757.4" width="2.2" height="1.8"/><rect x="610.3" y="753.7" width="2.2" height="1.8"/><rect x="812.6" y="753.2" width="2.2" height="1.8"/><rect x="882.7" y="758.1" width="2.2" height="1.8"/><rect x="444.5" y="758.1" width="2.2" height="1.8"/><rect x="482.4" y="758.1" width="2.2" height="1.8"/><rect x="512.7" y="762.6" width="2.2" height="1.8"/><rect x="681.2" y="761.6" width="2.2" height="1.8"/><rect x="526.7" y="755.5" width="2.2" height="1.8"/><rect x="652.7" y="753.8" width="2.2" height="1.8"/><rect x="576.5" y="750.3" width="2.2" height="1.8"/><rect x="756.2" y="761.1" width="2.2" height="1.8"/><rect x="872.5" y="757.8" width="2.2" height="1.8"/><rect x="826.0" y="761.3" width="2.2" height="1.8"/><rect x="858.1" y="762.9" width="2.2" height="1.8"/><rect x="691.4" y="754.0" width="2.2" height="1.8"/><rect x="466.4" y="757.0" width="2.2" height="1.8"/><rect x="549.5" y="756.3" width="2.2" height="1.8"/><rect x="850.7" y="757.0" width="2.2" height="1.8"/><rect x="483.1" y="761.7" width="2.2" height="1.8"/><rect x="724.5" y="754.2" width="2.2" height="1.8"/><rect x="413.5" y="759.4" width="2.2" height="1.8"/><rect x="788.4" y="763.1" width="2.2" height="1.8"/><rect x="775.8" y="766.2" width="2.2" height="1.8"/><rect x="456.7" y="757.9" width="2.2" height="1.8"/><rect x="786.9" y="757.9" width="2.2" height="1.8"/><rect x="796.1" y="756.9" width="2.2" height="1.8"/><rect x="431.5" y="756.5" width="2.2" height="1.8"/><rect x="714.6" y="756.7" width="2.2" height="1.8"/><rect x="886.1" y="760.5" width="2.2" height="1.8"/><rect x="756.8" y="759.6" width="2.2" height="1.8"/><rect x="871.2" y="759.0" width="2.2" height="1.8"/><rect x="722.7" y="751.9" width="2.2" height="1.8"/><rect x="874.6" y="759.7" width="2.2" height="1.8"/><rect x="750.5" y="755.2" width="2.2" height="1.8"/><rect x="497.5" y="756.3" width="2.2" height="1.8"/><rect x="896.7" y="761.6" width="2.2" height="1.8"/><rect x="565.1" y="756.7" width="2.2" height="1.8"/><rect x="634.2" y="755.0" width="2.2" height="1.8"/><rect x="420.1" y="758.6" width="2.2" height="1.8"/><rect x="748.0" y="756.7" width="2.2" height="1.8"/><rect x="437.7" y="760.6" width="2.2" height="1.8"/><rect x="733.9" y="754.2" width="2.2" height="1.8"/><rect x="520.0" y="755.0" width="2.2" height="1.8"/><rect x="572.2" y="758.7" width="2.2" height="1.8"/><rect x="698.2" y="753.6" width="2.2" height="1.8"/><rect x="497.9" y="757.7" width="2.2" height="1.8"/><rect x="834.0" y="751.3" width="2.2" height="1.8"/><rect x="859.8" y="754.9" width="2.2" height="1.8"/><rect x="554.2" y="761.7" width="2.2" height="1.8"/><rect x="857.7" y="765.2" width="2.2" height="1.8"/><rect x="863.2" y="758.2" width="2.2" height="1.8"/><rect x="708.1" y="756.4" width="2.2" height="1.8"/><rect x="572.8" y="760.0" width="2.2" height="1.8"/><rect x="554.0" y="754.4" width="2.2" height="1.8"/><rect x="675.1" y="758.5" width="2.2" height="1.8"/><rect x="558.8" y="753.9" width="2.2" height="1.8"/><rect x="494.1" y="756.8" width="2.2" height="1.8"/><rect x="457.1" y="756.9" width="2.2" height="1.8"/><rect x="572.4" y="756.5" width="2.2" height="1.8"/><rect x="760.8" y="759.9" width="2.2" height="1.8"/><rect x="584.6" y="761.2" width="2.2" height="1.8"/><rect x="796.7" y="762.4" width="2.2" height="1.8"/><rect x="619.6" y="756.5" width="2.2" height="1.8"/><rect x="438.0" y="758.2" width="2.2" height="1.8"/><rect x="549.7" y="760.4" width="2.2" height="1.8"/><rect x="553.9" y="761.2" width="2.2" height="1.8"/><rect x="739.2" y="759.2" width="2.2" height="1.8"/><rect x="499.2" y="755.2" width="2.2" height="1.8"/><rect x="681.6" y="750.2" width="2.2" height="1.8"/><rect x="651.6" y="751.7" width="2.2" height="1.8"/><rect x="731.9" y="755.2" width="2.2" height="1.8"/><rect x="506.7" y="758.6" width="2.2" height="1.8"/><rect x="912.1" y="762.3" width="2.2" height="1.8"/><rect x="757.4" y="762.5" width="2.2" height="1.8"/><rect x="479.8" y="755.1" width="2.2" height="1.8"/><rect x="817.4" y="768.7" width="2.2" height="1.8"/><rect x="850.5" y="780.8" width="2.2" height="1.8"/><rect x="689.2" y="763.3" width="2.2" height="1.8"/><rect x="511.5" y="761.3" width="2.2" height="1.8"/><rect x="843.2" y="764.7" width="2.2" height="1.8"/><rect x="567.1" y="756.9" width="2.2" height="1.8"/><rect x="862.5" y="750.0" width="2.2" height="1.8"/><rect x="618.4" y="758.5" width="2.2" height="1.8"/><rect x="495.6" y="759.7" width="2.2" height="1.8"/><rect x="464.6" y="759.2" width="2.2" height="1.8"/><rect x="562.5" y="757.5" width="2.2" height="1.8"/><rect x="855.3" y="746.3" width="2.2" height="1.8"/><rect x="775.4" y="745.9" width="2.2" height="1.8"/><rect x="832.8" y="756.6" width="2.2" height="1.8"/><rect x="665.9" y="760.2" width="2.2" height="1.8"/><rect x="495.6" y="759.6" width="2.2" height="1.8"/><rect x="448.3" y="760.6" width="2.2" height="1.8"/><rect x="833.6" y="756.2" width="2.2" height="1.8"/><rect x="711.6" y="753.5" width="2.2" height="1.8"/><rect x="493.8" y="756.1" width="2.2" height="1.8"/><rect x="872.7" y="759.4" width="2.2" height="1.8"/><rect x="791.6" y="752.0" width="2.2" height="1.8"/><rect x="790.9" y="759.5" width="2.2" height="1.8"/><rect x="499.5" y="755.4" width="2.2" height="1.8"/><rect x="598.8" y="761.2" width="2.2" height="1.8"/><rect x="443.0" y="758.8" width="2.2" height="1.8"/><rect x="613.8" y="754.7" width="2.2" height="1.8"/><rect x="745.8" y="755.3" width="2.2" height="1.8"/><rect x="623.7" y="757.7" width="2.2" height="1.8"/><rect x="733.9" y="754.6" width="2.2" height="1.8"/><rect x="604.5" y="758.6" width="2.2" height="1.8"/><rect x="515.6" y="754.3" width="2.2" height="1.8"/><rect x="456.6" y="760.2" width="2.2" height="1.8"/><rect x="826.9" y="752.3" width="2.2" height="1.8"/><rect x="590.4" y="755.8" width="2.2" height="1.8"/><rect x="753.9" y="757.0" width="2.2" height="1.8"/><rect x="866.2" y="763.1" width="2.2" height="1.8"/><rect x="808.9" y="755.9" width="2.2" height="1.8"/><rect x="832.0" y="761.1" width="2.2" height="1.8"/><rect x="863.8" y="757.5" width="2.2" height="1.8"/><rect x="552.8" y="760.7" width="2.2" height="1.8"/><rect x="651.1" y="752.9" width="2.2" height="1.8"/><rect x="478.3" y="756.8" width="2.2" height="1.8"/><rect x="597.8" y="755.5" width="2.2" height="1.8"/><rect x="812.8" y="757.2" width="2.2" height="1.8"/><rect x="428.3" y="759.2" width="2.2" height="1.8"/><rect x="755.9" y="771.6" width="2.2" height="1.8"/><rect x="614.2" y="761.7" width="2.2" height="1.8"/><rect x="862.1" y="753.9" width="2.2" height="1.8"/><rect x="780.4" y="750.8" width="2.2" height="1.8"/><rect x="904.9" y="757.6" width="2.2" height="1.8"/><rect x="727.8" y="762.3" width="2.2" height="1.8"/><rect x="808.9" y="754.4" width="2.2" height="1.8"/><rect x="685.8" y="751.8" width="2.2" height="1.8"/><rect x="865.8" y="769.0" width="2.2" height="1.8"/><rect x="686.6" y="763.0" width="2.2" height="1.8"/><rect x="862.1" y="758.5" width="2.2" height="1.8"/><rect x="535.0" y="758.6" width="2.2" height="1.8"/><rect x="548.1" y="758.0" width="2.2" height="1.8"/><rect x="690.7" y="754.9" width="2.2" height="1.8"/><rect x="715.1" y="764.9" width="2.2" height="1.8"/><rect x="708.2" y="757.2" width="2.2" height="1.8"/><rect x="555.3" y="759.8" width="2.2" height="1.8"/><rect x="525.4" y="763.5" width="2.2" height="1.8"/><rect x="417.3" y="758.4" width="2.2" height="1.8"/><rect x="908.0" y="755.0" width="2.2" height="1.8"/><rect x="824.7" y="746.7" width="2.2" height="1.8"/><rect x="564.7" y="756.9" width="2.2" height="1.8"/></g>
<rect x="410" y="756.8" width="508" height="2.4" fill="#b8b8b8" opacity="0.6"/>
<rect x="307.2" y="825.0" width="611.8" height="116.4" fill="url(#sbgL)"/>
<rect x="307.2" y="825.0" width="611.8" height="116.4" fill="url(#sbgR)"/>
<polygon points="307.2,825.0 341.0,825.0 373.0,853.5 374.2,866.9 374.2,911.1 371.9,918.1 347.5,941.4 307.2,941.4" fill="#2b2b2b" stroke="#f4f4f4" stroke-width="1"/>
<polygon points="307.2,834.3 322.0,829.7 342.0,843.6 356.0,866.9 348.0,871.6 330.0,863.4 307.2,864.6" fill="#6c6c6c" opacity="0.85"/>
<polygon points="312.0,836.6 325.0,839.0 335.0,852.9 318.0,850.6" fill="#9a9a9a" opacity="0.7"/>
<path d="M336 859.9 Q350 864.6 352 878.5" stroke="#d0d0d0" stroke-width="2.6" fill="none"/>
<polygon points="307.2,906.5 328.0,899.5 350.0,892.5 356.0,897.2 345.0,908.8 325.0,920.4 307.2,927.4" fill="#8d8d8d" opacity="0.9"/>
<path d="M307.2 863.4 Q332 866.9 352 879.5 L372 882.5 L352 885.5 Q332 901.8 307.2 906.5 Z" fill="#141414"/>
<path d="M343 830.8 L368 857.6 L369 913.5 L346 935.6" stroke="#555" stroke-width="3" fill="none" opacity="0.6"/>
<rect x="374" y="881.0" width="50" height="3" fill="#8a8a8a"/>
<g fill="#8e8e8e" opacity="0.7"><rect x="547.4" y="884.2" width="2.2" height="1.8"/><rect x="815.9" y="876.5" width="2.2" height="1.8"/><rect x="467.5" y="882.9" width="2.2" height="1.8"/><rect x="714.1" y="875.1" width="2.2" height="1.8"/><rect x="815.4" y="890.3" width="2.2" height="1.8"/><rect x="708.6" y="880.9" width="2.2" height="1.8"/><rect x="804.8" y="874.4" width="2.2" height="1.8"/><rect x="561.8" y="877.4" width="2.2" height="1.8"/><rect x="914.9" y="875.7" width="2.2" height="1.8"/><rect x="444.8" y="884.4" width="2.2" height="1.8"/><rect x="517.1" y="880.0" width="2.2" height="1.8"/><rect x="634.3" y="886.6" width="2.2" height="1.8"/><rect x="417.1" y="881.2" width="2.2" height="1.8"/><rect x="454.2" y="883.2" width="2.2" height="1.8"/><rect x="567.6" y="881.7" width="2.2" height="1.8"/><rect x="877.6" y="869.9" width="2.2" height="1.8"/><rect x="805.1" y="868.0" width="2.2" height="1.8"/><rect x="454.4" y="880.0" width="2.2" height="1.8"/><rect x="831.9" y="864.4" width="2.2" height="1.8"/><rect x="485.3" y="881.6" width="2.2" height="1.8"/><rect x="619.1" y="878.6" width="2.2" height="1.8"/><rect x="872.3" y="872.5" width="2.2" height="1.8"/><rect x="741.4" y="883.3" width="2.2" height="1.8"/><rect x="856.1" y="858.6" width="2.2" height="1.8"/><rect x="829.9" y="887.6" width="2.2" height="1.8"/><rect x="605.6" y="880.8" width="2.2" height="1.8"/><rect x="836.4" y="879.4" width="2.2" height="1.8"/><rect x="549.5" y="880.7" width="2.2" height="1.8"/><rect x="838.7" y="866.7" width="2.2" height="1.8"/><rect x="576.3" y="880.8" width="2.2" height="1.8"/><rect x="593.3" y="885.6" width="2.2" height="1.8"/><rect x="885.9" y="873.5" width="2.2" height="1.8"/><rect x="782.8" y="884.8" width="2.2" height="1.8"/><rect x="482.1" y="883.9" width="2.2" height="1.8"/><rect x="872.2" y="870.5" width="2.2" height="1.8"/><rect x="739.0" y="883.5" width="2.2" height="1.8"/><rect x="729.4" y="868.4" width="2.2" height="1.8"/><rect x="447.8" y="878.1" width="2.2" height="1.8"/><rect x="854.3" y="869.3" width="2.2" height="1.8"/><rect x="486.9" y="881.3" width="2.2" height="1.8"/><rect x="793.7" y="873.2" width="2.2" height="1.8"/><rect x="514.5" y="878.7" width="2.2" height="1.8"/><rect x="434.7" y="883.2" width="2.2" height="1.8"/><rect x="885.1" y="861.5" width="2.2" height="1.8"/><rect x="532.1" y="880.9" width="2.2" height="1.8"/><rect x="618.0" y="879.5" width="2.2" height="1.8"/><rect x="625.0" y="872.4" width="2.2" height="1.8"/><rect x="638.7" y="891.0" width="2.2" height="1.8"/><rect x="884.4" y="872.7" width="2.2" height="1.8"/><rect x="787.3" y="875.1" width="2.2" height="1.8"/><rect x="517.9" y="880.9" width="2.2" height="1.8"/><rect x="813.3" y="857.9" width="2.2" height="1.8"/><rect x="696.3" y="881.7" width="2.2" height="1.8"/><rect x="580.3" y="881.6" width="2.2" height="1.8"/><rect x="464.9" y="885.3" width="2.2" height="1.8"/><rect x="781.3" y="863.2" width="2.2" height="1.8"/><rect x="795.0" y="886.1" width="2.2" height="1.8"/><rect x="843.4" y="885.5" width="2.2" height="1.8"/><rect x="906.8" y="866.7" width="2.2" height="1.8"/><rect x="721.2" y="876.7" width="2.2" height="1.8"/><rect x="597.9" y="880.7" width="2.2" height="1.8"/><rect x="504.9" y="881.7" width="2.2" height="1.8"/><rect x="906.8" y="878.2" width="2.2" height="1.8"/><rect x="554.7" y="886.4" width="2.2" height="1.8"/><rect x="700.1" y="871.7" width="2.2" height="1.8"/><rect x="876.4" y="871.0" width="2.2" height="1.8"/><rect x="432.9" y="881.3" width="2.2" height="1.8"/><rect x="417.1" y="882.1" width="2.2" height="1.8"/><rect x="824.3" y="882.5" width="2.2" height="1.8"/><rect x="609.0" y="878.5" width="2.2" height="1.8"/><rect x="513.4" y="880.0" width="2.2" height="1.8"/><rect x="798.6" y="880.9" width="2.2" height="1.8"/><rect x="655.7" y="875.3" width="2.2" height="1.8"/><rect x="825.0" y="878.0" width="2.2" height="1.8"/><rect x="774.0" y="877.1" width="2.2" height="1.8"/><rect x="816.5" y="865.3" width="2.2" height="1.8"/><rect x="820.8" y="870.7" width="2.2" height="1.8"/><rect x="578.6" y="885.5" width="2.2" height="1.8"/><rect x="821.8" y="881.9" width="2.2" height="1.8"/><rect x="474.2" y="882.6" width="2.2" height="1.8"/><rect x="648.3" y="868.2" width="2.2" height="1.8"/><rect x="842.8" y="867.5" width="2.2" height="1.8"/><rect x="677.3" y="879.1" width="2.2" height="1.8"/><rect x="513.6" y="884.9" width="2.2" height="1.8"/><rect x="868.9" y="870.7" width="2.2" height="1.8"/><rect x="606.7" y="876.1" width="2.2" height="1.8"/><rect x="860.3" y="869.0" width="2.2" height="1.8"/><rect x="662.2" y="880.5" width="2.2" height="1.8"/><rect x="431.9" y="882.8" width="2.2" height="1.8"/><rect x="760.8" y="875.8" width="2.2" height="1.8"/><rect x="417.4" y="878.7" width="2.2" height="1.8"/><rect x="471.2" y="877.8" width="2.2" height="1.8"/><rect x="866.3" y="865.8" width="2.2" height="1.8"/><rect x="815.2" y="878.3" width="2.2" height="1.8"/><rect x="618.4" y="880.4" width="2.2" height="1.8"/><rect x="467.9" y="877.4" width="2.2" height="1.8"/><rect x="808.5" y="876.8" width="2.2" height="1.8"/><rect x="761.6" y="878.2" width="2.2" height="1.8"/><rect x="631.9" y="878.6" width="2.2" height="1.8"/><rect x="787.1" y="876.3" width="2.2" height="1.8"/><rect x="710.8" y="868.6" width="2.2" height="1.8"/><rect x="569.3" y="871.9" width="2.2" height="1.8"/><rect x="733.8" y="883.1" width="2.2" height="1.8"/><rect x="585.6" y="881.9" width="2.2" height="1.8"/><rect x="606.3" y="877.5" width="2.2" height="1.8"/><rect x="735.8" y="875.8" width="2.2" height="1.8"/><rect x="680.1" y="882.1" width="2.2" height="1.8"/><rect x="645.9" y="871.5" width="2.2" height="1.8"/><rect x="522.5" y="882.7" width="2.2" height="1.8"/><rect x="684.4" y="881.9" width="2.2" height="1.8"/><rect x="704.6" y="887.2" width="2.2" height="1.8"/><rect x="618.0" y="876.5" width="2.2" height="1.8"/><rect x="681.8" y="881.6" width="2.2" height="1.8"/><rect x="769.7" y="889.8" width="2.2" height="1.8"/><rect x="674.0" y="879.2" width="2.2" height="1.8"/><rect x="624.9" y="874.7" width="2.2" height="1.8"/><rect x="575.2" y="880.7" width="2.2" height="1.8"/><rect x="631.9" y="873.6" width="2.2" height="1.8"/><rect x="417.6" y="883.9" width="2.2" height="1.8"/><rect x="536.4" y="883.0" width="2.2" height="1.8"/><rect x="658.0" y="879.9" width="2.2" height="1.8"/><rect x="434.9" y="882.7" width="2.2" height="1.8"/><rect x="830.4" y="870.1" width="2.2" height="1.8"/><rect x="700.5" y="890.9" width="2.2" height="1.8"/><rect x="814.2" y="879.4" width="2.2" height="1.8"/><rect x="761.7" y="878.4" width="2.2" height="1.8"/><rect x="521.8" y="884.3" width="2.2" height="1.8"/><rect x="889.5" y="864.9" width="2.2" height="1.8"/><rect x="872.0" y="888.5" width="2.2" height="1.8"/><rect x="864.3" y="910.1" width="2.2" height="1.8"/><rect x="576.7" y="887.5" width="2.2" height="1.8"/><rect x="538.0" y="884.2" width="2.2" height="1.8"/><rect x="525.0" y="882.4" width="2.2" height="1.8"/><rect x="572.4" y="874.3" width="2.2" height="1.8"/><rect x="579.2" y="877.4" width="2.2" height="1.8"/><rect x="489.7" y="889.1" width="2.2" height="1.8"/><rect x="655.1" y="884.0" width="2.2" height="1.8"/><rect x="614.5" y="883.3" width="2.2" height="1.8"/><rect x="642.9" y="877.1" width="2.2" height="1.8"/><rect x="694.6" y="901.9" width="2.2" height="1.8"/><rect x="688.6" y="873.4" width="2.2" height="1.8"/><rect x="410.6" y="880.9" width="2.2" height="1.8"/><rect x="614.6" y="876.3" width="2.2" height="1.8"/><rect x="628.1" y="881.3" width="2.2" height="1.8"/><rect x="757.1" y="889.2" width="2.2" height="1.8"/><rect x="766.3" y="866.6" width="2.2" height="1.8"/><rect x="481.7" y="880.9" width="2.2" height="1.8"/><rect x="813.3" y="897.1" width="2.2" height="1.8"/><rect x="771.6" y="876.0" width="2.2" height="1.8"/><rect x="577.1" y="881.8" width="2.2" height="1.8"/><rect x="635.4" y="871.3" width="2.2" height="1.8"/><rect x="517.4" y="880.1" width="2.2" height="1.8"/><rect x="910.5" y="874.4" width="2.2" height="1.8"/><rect x="832.2" y="869.5" width="2.2" height="1.8"/><rect x="810.5" y="882.9" width="2.2" height="1.8"/><rect x="605.5" y="869.8" width="2.2" height="1.8"/><rect x="706.6" y="869.3" width="2.2" height="1.8"/><rect x="462.2" y="881.7" width="2.2" height="1.8"/><rect x="718.3" y="872.9" width="2.2" height="1.8"/><rect x="417.3" y="882.3" width="2.2" height="1.8"/><rect x="684.4" y="882.4" width="2.2" height="1.8"/><rect x="580.6" y="882.4" width="2.2" height="1.8"/><rect x="662.4" y="887.3" width="2.2" height="1.8"/><rect x="591.4" y="879.0" width="2.2" height="1.8"/><rect x="508.5" y="881.5" width="2.2" height="1.8"/><rect x="583.3" y="876.1" width="2.2" height="1.8"/><rect x="566.3" y="881.1" width="2.2" height="1.8"/><rect x="510.5" y="884.6" width="2.2" height="1.8"/><rect x="793.4" y="876.6" width="2.2" height="1.8"/><rect x="567.7" y="877.2" width="2.2" height="1.8"/><rect x="464.5" y="880.4" width="2.2" height="1.8"/><rect x="775.8" y="882.8" width="2.2" height="1.8"/><rect x="591.8" y="886.8" width="2.2" height="1.8"/><rect x="866.4" y="861.8" width="2.2" height="1.8"/><rect x="645.3" y="878.7" width="2.2" height="1.8"/><rect x="527.3" y="880.1" width="2.2" height="1.8"/><rect x="507.8" y="883.5" width="2.2" height="1.8"/><rect x="620.0" y="882.5" width="2.2" height="1.8"/><rect x="623.0" y="885.9" width="2.2" height="1.8"/><rect x="490.5" y="881.7" width="2.2" height="1.8"/><rect x="860.3" y="870.0" width="2.2" height="1.8"/><rect x="708.2" y="867.1" width="2.2" height="1.8"/><rect x="906.8" y="879.6" width="2.2" height="1.8"/><rect x="525.4" y="881.9" width="2.2" height="1.8"/><rect x="752.1" y="879.1" width="2.2" height="1.8"/><rect x="777.0" y="879.4" width="2.2" height="1.8"/><rect x="916.1" y="878.0" width="2.2" height="1.8"/><rect x="590.3" y="881.9" width="2.2" height="1.8"/><rect x="786.6" y="880.9" width="2.2" height="1.8"/><rect x="843.2" y="891.4" width="2.2" height="1.8"/><rect x="672.6" y="872.9" width="2.2" height="1.8"/><rect x="782.6" y="889.9" width="2.2" height="1.8"/><rect x="867.6" y="868.2" width="2.2" height="1.8"/><rect x="704.8" y="875.3" width="2.2" height="1.8"/><rect x="735.2" y="879.6" width="2.2" height="1.8"/><rect x="743.2" y="890.2" width="2.2" height="1.8"/><rect x="514.1" y="886.0" width="2.2" height="1.8"/><rect x="485.0" y="885.5" width="2.2" height="1.8"/><rect x="875.6" y="874.8" width="2.2" height="1.8"/><rect x="737.6" y="878.3" width="2.2" height="1.8"/><rect x="654.0" y="879.6" width="2.2" height="1.8"/><rect x="635.6" y="867.2" width="2.2" height="1.8"/><rect x="822.9" y="866.8" width="2.2" height="1.8"/><rect x="579.3" y="875.9" width="2.2" height="1.8"/><rect x="465.7" y="881.0" width="2.2" height="1.8"/><rect x="636.8" y="874.6" width="2.2" height="1.8"/><rect x="410.1" y="882.3" width="2.2" height="1.8"/><rect x="441.2" y="880.7" width="2.2" height="1.8"/><rect x="589.1" y="883.5" width="2.2" height="1.8"/><rect x="501.0" y="877.4" width="2.2" height="1.8"/><rect x="453.2" y="883.0" width="2.2" height="1.8"/><rect x="750.3" y="881.5" width="2.2" height="1.8"/><rect x="909.4" y="880.8" width="2.2" height="1.8"/><rect x="638.1" y="878.8" width="2.2" height="1.8"/><rect x="847.3" y="891.1" width="2.2" height="1.8"/><rect x="472.9" y="885.8" width="2.2" height="1.8"/><rect x="500.2" y="880.2" width="2.2" height="1.8"/><rect x="909.6" y="856.6" width="2.2" height="1.8"/><rect x="493.7" y="880.7" width="2.2" height="1.8"/><rect x="681.1" y="888.3" width="2.2" height="1.8"/><rect x="410.9" y="880.9" width="2.2" height="1.8"/><rect x="595.9" y="882.2" width="2.2" height="1.8"/><rect x="880.4" y="846.7" width="2.2" height="1.8"/><rect x="766.3" y="881.9" width="2.2" height="1.8"/><rect x="692.5" y="874.5" width="2.2" height="1.8"/><rect x="780.5" y="866.3" width="2.2" height="1.8"/><rect x="496.2" y="880.3" width="2.2" height="1.8"/><rect x="824.1" y="875.8" width="2.2" height="1.8"/><rect x="807.0" y="887.8" width="2.2" height="1.8"/><rect x="835.1" y="871.6" width="2.2" height="1.8"/><rect x="423.4" y="881.9" width="2.2" height="1.8"/><rect x="465.5" y="883.9" width="2.2" height="1.8"/><rect x="679.2" y="886.9" width="2.2" height="1.8"/><rect x="715.6" y="876.7" width="2.2" height="1.8"/><rect x="695.0" y="892.6" width="2.2" height="1.8"/><rect x="733.1" y="894.6" width="2.2" height="1.8"/><rect x="453.8" y="877.6" width="2.2" height="1.8"/><rect x="852.7" y="861.4" width="2.2" height="1.8"/><rect x="732.3" y="892.2" width="2.2" height="1.8"/><rect x="607.5" y="873.6" width="2.2" height="1.8"/><rect x="735.4" y="883.8" width="2.2" height="1.8"/><rect x="894.1" y="846.6" width="2.2" height="1.8"/><rect x="445.8" y="883.5" width="2.2" height="1.8"/><rect x="898.8" y="877.2" width="2.2" height="1.8"/><rect x="641.7" y="886.0" width="2.2" height="1.8"/><rect x="599.1" y="878.9" width="2.2" height="1.8"/><rect x="739.8" y="878.3" width="2.2" height="1.8"/><rect x="644.7" y="874.8" width="2.2" height="1.8"/><rect x="858.2" y="877.5" width="2.2" height="1.8"/><rect x="797.8" y="882.4" width="2.2" height="1.8"/><rect x="458.7" y="883.0" width="2.2" height="1.8"/><rect x="511.7" y="882.4" width="2.2" height="1.8"/><rect x="444.9" y="880.1" width="2.2" height="1.8"/><rect x="651.7" y="891.5" width="2.2" height="1.8"/><rect x="915.6" y="863.7" width="2.2" height="1.8"/><rect x="532.8" y="879.2" width="2.2" height="1.8"/><rect x="742.9" y="876.9" width="2.2" height="1.8"/><rect x="882.0" y="866.7" width="2.2" height="1.8"/><rect x="733.3" y="883.9" width="2.2" height="1.8"/><rect x="546.8" y="880.7" width="2.2" height="1.8"/><rect x="628.1" y="879.6" width="2.2" height="1.8"/><rect x="493.7" y="878.7" width="2.2" height="1.8"/><rect x="729.5" y="876.9" width="2.2" height="1.8"/><rect x="693.1" y="875.8" width="2.2" height="1.8"/><rect x="477.3" y="879.9" width="2.2" height="1.8"/><rect x="425.9" y="881.8" width="2.2" height="1.8"/><rect x="683.8" y="875.0" width="2.2" height="1.8"/><rect x="535.9" y="879.7" width="2.2" height="1.8"/><rect x="503.5" y="885.4" width="2.2" height="1.8"/><rect x="548.0" y="879.8" width="2.2" height="1.8"/><rect x="686.0" y="876.5" width="2.2" height="1.8"/><rect x="548.7" y="883.0" width="2.2" height="1.8"/><rect x="638.8" y="882.5" width="2.2" height="1.8"/><rect x="854.6" y="877.8" width="2.2" height="1.8"/><rect x="765.4" y="882.4" width="2.2" height="1.8"/><rect x="673.4" y="879.2" width="2.2" height="1.8"/><rect x="500.6" y="887.7" width="2.2" height="1.8"/><rect x="486.9" y="882.5" width="2.2" height="1.8"/><rect x="640.3" y="878.4" width="2.2" height="1.8"/><rect x="572.8" y="879.9" width="2.2" height="1.8"/><rect x="626.5" y="877.5" width="2.2" height="1.8"/><rect x="632.3" y="891.6" width="2.2" height="1.8"/><rect x="524.2" y="881.5" width="2.2" height="1.8"/><rect x="528.3" y="876.7" width="2.2" height="1.8"/><rect x="678.8" y="885.7" width="2.2" height="1.8"/><rect x="904.9" y="870.7" width="2.2" height="1.8"/><rect x="794.8" y="857.9" width="2.2" height="1.8"/><rect x="702.3" y="873.6" width="2.2" height="1.8"/><rect x="439.7" y="880.2" width="2.2" height="1.8"/><rect x="680.8" y="870.6" width="2.2" height="1.8"/><rect x="747.0" y="864.8" width="2.2" height="1.8"/><rect x="866.9" y="872.6" width="2.2" height="1.8"/><rect x="521.5" y="883.0" width="2.2" height="1.8"/><rect x="782.7" y="868.6" width="2.2" height="1.8"/><rect x="612.1" y="881.9" width="2.2" height="1.8"/><rect x="619.1" y="886.1" width="2.2" height="1.8"/><rect x="801.0" y="860.3" width="2.2" height="1.8"/><rect x="657.9" y="882.6" width="2.2" height="1.8"/><rect x="633.0" y="886.3" width="2.2" height="1.8"/><rect x="523.3" y="882.5" width="2.2" height="1.8"/><rect x="497.9" y="887.5" width="2.2" height="1.8"/><rect x="584.9" y="876.0" width="2.2" height="1.8"/><rect x="701.4" y="886.7" width="2.2" height="1.8"/><rect x="477.8" y="881.6" width="2.2" height="1.8"/><rect x="842.0" y="899.2" width="2.2" height="1.8"/><rect x="777.3" y="883.0" width="2.2" height="1.8"/><rect x="756.9" y="882.6" width="2.2" height="1.8"/><rect x="702.5" y="872.4" width="2.2" height="1.8"/><rect x="761.0" y="881.9" width="2.2" height="1.8"/><rect x="871.2" y="859.1" width="2.2" height="1.8"/><rect x="502.8" y="886.5" width="2.2" height="1.8"/><rect x="510.3" y="879.7" width="2.2" height="1.8"/><rect x="760.8" y="873.3" width="2.2" height="1.8"/><rect x="666.3" y="876.6" width="2.2" height="1.8"/><rect x="868.6" y="877.4" width="2.2" height="1.8"/><rect x="637.6" y="881.5" width="2.2" height="1.8"/><rect x="830.8" y="870.9" width="2.2" height="1.8"/><rect x="533.5" y="887.6" width="2.2" height="1.8"/><rect x="793.4" y="887.3" width="2.2" height="1.8"/><rect x="910.7" y="890.2" width="2.2" height="1.8"/><rect x="471.1" y="884.2" width="2.2" height="1.8"/><rect x="468.5" y="879.9" width="2.2" height="1.8"/><rect x="788.0" y="892.4" width="2.2" height="1.8"/><rect x="636.8" y="881.7" width="2.2" height="1.8"/><rect x="476.4" y="887.6" width="2.2" height="1.8"/><rect x="811.9" y="872.3" width="2.2" height="1.8"/><rect x="681.6" y="884.1" width="2.2" height="1.8"/><rect x="677.6" y="874.4" width="2.2" height="1.8"/><rect x="739.2" y="873.2" width="2.2" height="1.8"/><rect x="887.3" y="883.8" width="2.2" height="1.8"/><rect x="692.5" y="875.4" width="2.2" height="1.8"/><rect x="870.5" y="872.1" width="2.2" height="1.8"/><rect x="816.2" y="872.4" width="2.2" height="1.8"/><rect x="458.0" y="885.0" width="2.2" height="1.8"/><rect x="599.1" y="875.3" width="2.2" height="1.8"/><rect x="578.3" y="881.4" width="2.2" height="1.8"/><rect x="710.8" y="869.8" width="2.2" height="1.8"/><rect x="482.8" y="882.5" width="2.2" height="1.8"/><rect x="725.7" y="889.6" width="2.2" height="1.8"/><rect x="810.0" y="860.5" width="2.2" height="1.8"/><rect x="499.3" y="878.4" width="2.2" height="1.8"/><rect x="663.3" y="870.5" width="2.2" height="1.8"/><rect x="612.9" y="872.9" width="2.2" height="1.8"/><rect x="832.3" y="870.5" width="2.2" height="1.8"/><rect x="435.2" y="880.2" width="2.2" height="1.8"/><rect x="410.9" y="881.8" width="2.2" height="1.8"/><rect x="709.1" y="879.8" width="2.2" height="1.8"/><rect x="460.1" y="880.2" width="2.2" height="1.8"/><rect x="756.8" y="890.9" width="2.2" height="1.8"/><rect x="695.3" y="879.3" width="2.2" height="1.8"/><rect x="512.7" y="876.0" width="2.2" height="1.8"/><rect x="910.2" y="882.8" width="2.2" height="1.8"/><rect x="479.1" y="878.5" width="2.2" height="1.8"/><rect x="758.8" y="875.8" width="2.2" height="1.8"/><rect x="801.7" y="874.5" width="2.2" height="1.8"/><rect x="753.8" y="882.0" width="2.2" height="1.8"/><rect x="571.1" y="878.1" width="2.2" height="1.8"/><rect x="664.2" y="880.0" width="2.2" height="1.8"/><rect x="417.5" y="883.1" width="2.2" height="1.8"/><rect x="534.3" y="879.9" width="2.2" height="1.8"/><rect x="548.1" y="878.0" width="2.2" height="1.8"/><rect x="535.6" y="877.1" width="2.2" height="1.8"/><rect x="830.9" y="869.3" width="2.2" height="1.8"/><rect x="625.4" y="883.8" width="2.2" height="1.8"/><rect x="539.0" y="885.8" width="2.2" height="1.8"/><rect x="772.4" y="890.4" width="2.2" height="1.8"/><rect x="803.3" y="877.1" width="2.2" height="1.8"/><rect x="630.6" y="884.2" width="2.2" height="1.8"/><rect x="530.8" y="876.9" width="2.2" height="1.8"/><rect x="493.6" y="883.0" width="2.2" height="1.8"/><rect x="430.0" y="881.0" width="2.2" height="1.8"/><rect x="543.8" y="890.6" width="2.2" height="1.8"/><rect x="878.6" y="867.9" width="2.2" height="1.8"/><rect x="666.1" y="883.0" width="2.2" height="1.8"/><rect x="544.3" y="885.0" width="2.2" height="1.8"/><rect x="538.9" y="885.2" width="2.2" height="1.8"/><rect x="617.9" y="879.9" width="2.2" height="1.8"/><rect x="686.9" y="883.6" width="2.2" height="1.8"/><rect x="892.3" y="855.1" width="2.2" height="1.8"/><rect x="917.2" y="897.9" width="2.2" height="1.8"/><rect x="908.6" y="871.9" width="2.2" height="1.8"/><rect x="893.2" y="853.0" width="2.2" height="1.8"/><rect x="909.4" y="889.0" width="2.2" height="1.8"/><rect x="433.8" y="883.0" width="2.2" height="1.8"/><rect x="577.7" y="878.0" width="2.2" height="1.8"/><rect x="450.6" y="884.0" width="2.2" height="1.8"/><rect x="630.8" y="877.3" width="2.2" height="1.8"/><rect x="490.4" y="880.3" width="2.2" height="1.8"/><rect x="687.3" y="882.6" width="2.2" height="1.8"/><rect x="878.8" y="858.1" width="2.2" height="1.8"/><rect x="693.4" y="870.3" width="2.2" height="1.8"/><rect x="820.0" y="860.1" width="2.2" height="1.8"/><rect x="491.3" y="880.6" width="2.2" height="1.8"/><rect x="662.0" y="888.2" width="2.2" height="1.8"/><rect x="461.4" y="882.2" width="2.2" height="1.8"/><rect x="654.1" y="885.2" width="2.2" height="1.8"/><rect x="460.8" y="876.9" width="2.2" height="1.8"/><rect x="454.9" y="884.8" width="2.2" height="1.8"/><rect x="845.8" y="877.8" width="2.2" height="1.8"/><rect x="420.5" y="881.0" width="2.2" height="1.8"/><rect x="896.4" y="892.0" width="2.2" height="1.8"/><rect x="499.0" y="878.9" width="2.2" height="1.8"/><rect x="898.5" y="855.1" width="2.2" height="1.8"/><rect x="639.4" y="880.7" width="2.2" height="1.8"/><rect x="663.2" y="872.9" width="2.2" height="1.8"/><rect x="453.0" y="878.8" width="2.2" height="1.8"/><rect x="418.3" y="879.8" width="2.2" height="1.8"/><rect x="480.9" y="880.9" width="2.2" height="1.8"/><rect x="670.3" y="871.4" width="2.2" height="1.8"/><rect x="432.2" y="883.0" width="2.2" height="1.8"/><rect x="879.8" y="874.6" width="2.2" height="1.8"/><rect x="532.4" y="880.6" width="2.2" height="1.8"/><rect x="562.0" y="883.2" width="2.2" height="1.8"/><rect x="896.0" y="881.7" width="2.2" height="1.8"/><rect x="464.4" y="884.3" width="2.2" height="1.8"/><rect x="690.7" y="873.0" width="2.2" height="1.8"/><rect x="637.5" y="868.3" width="2.2" height="1.8"/><rect x="777.0" y="860.6" width="2.2" height="1.8"/><rect x="544.1" y="880.1" width="2.2" height="1.8"/><rect x="453.6" y="881.2" width="2.2" height="1.8"/></g>
<rect x="410" y="881.3" width="508" height="2.4" fill="#b8b8b8" opacity="0.6"/>
<rect x="307.2" y="949.0" width="611.8" height="116.4" fill="url(#sbgL)"/>
<rect x="307.2" y="949.0" width="611.8" height="116.4" fill="url(#sbgR)"/>
<polygon points="307.2,949.0 341.0,949.0 373.0,977.5 374.2,990.9 374.2,1035.1 371.9,1042.1 347.5,1065.4 307.2,1065.4" fill="#2b2b2b" stroke="#f4f4f4" stroke-width="1"/>
<polygon points="307.2,958.3 322.0,953.7 342.0,967.6 356.0,990.9 348.0,995.6 330.0,987.4 307.2,988.6" fill="#6c6c6c" opacity="0.85"/>
<polygon points="312.0,960.6 325.0,963.0 335.0,976.9 318.0,974.6" fill="#9a9a9a" opacity="0.7"/>
<path d="M336 983.9 Q350 988.6 352 1002.5" stroke="#d0d0d0" stroke-width="2.6" fill="none"/>
<polygon points="307.2,1030.5 328.0,1023.5 350.0,1016.5 356.0,1021.2 345.0,1032.8 325.0,1044.4 307.2,1051.4" fill="#8d8d8d" opacity="0.9"/>
<path d="M307.2 987.4 Q332 990.9 352 1004.0 L372 1007.0 L352 1010.0 Q332 1025.8 307.2 1030.5 Z" fill="#141414"/>
<path d="M343 954.8 L368 981.6 L369 1037.5 L346 1059.6" stroke="#555" stroke-width="3" fill="none" opacity="0.6"/>
<rect x="374" y="1005.5" width="50" height="3" fill="#8a8a8a"/>
<g fill="#8e8e8e" opacity="0.7"><rect x="580.8" y="1004.0" width="2.2" height="1.8"/><rect x="545.7" y="1010.0" width="2.2" height="1.8"/><rect x="546.6" y="1002.7" width="2.2" height="1.8"/><rect x="911.8" y="1008.8" width="2.2" height="1.8"/><rect x="416.7" y="1007.2" width="2.2" height="1.8"/><rect x="604.7" y="1007.4" width="2.2" height="1.8"/><rect x="521.1" y="1007.8" width="2.2" height="1.8"/><rect x="826.0" y="1010.1" width="2.2" height="1.8"/><rect x="736.4" y="1009.8" width="2.2" height="1.8"/><rect x="530.3" y="1008.2" width="2.2" height="1.8"/><rect x="691.0" y="1002.3" width="2.2" height="1.8"/><rect x="571.6" y="1009.7" width="2.2" height="1.8"/><rect x="870.9" y="1004.7" width="2.2" height="1.8"/><rect x="439.2" y="1007.3" width="2.2" height="1.8"/><rect x="690.3" y="1010.6" width="2.2" height="1.8"/><rect x="432.5" y="1008.1" width="2.2" height="1.8"/><rect x="754.6" y="1011.0" width="2.2" height="1.8"/><rect x="865.0" y="1011.8" width="2.2" height="1.8"/><rect x="687.7" y="1005.0" width="2.2" height="1.8"/><rect x="608.2" y="1003.7" width="2.2" height="1.8"/><rect x="801.7" y="1010.8" width="2.2" height="1.8"/><rect x="811.5" y="1007.6" width="2.2" height="1.8"/><rect x="596.7" y="1010.1" width="2.2" height="1.8"/><rect x="545.6" y="1004.2" width="2.2" height="1.8"/><rect x="799.7" y="1006.5" width="2.2" height="1.8"/><rect x="798.8" y="1013.4" width="2.2" height="1.8"/><rect x="906.0" y="993.5" width="2.2" height="1.8"/><rect x="629.1" y="1007.5" width="2.2" height="1.8"/><rect x="818.5" y="1011.7" width="2.2" height="1.8"/><rect x="649.4" y="1012.0" width="2.2" height="1.8"/><rect x="825.6" y="1009.8" width="2.2" height="1.8"/><rect x="454.2" y="1009.4" width="2.2" height="1.8"/><rect x="896.5" y="1008.3" width="2.2" height="1.8"/><rect x="720.6" y="1000.7" width="2.2" height="1.8"/><rect x="801.4" y="1006.0" width="2.2" height="1.8"/><rect x="483.3" y="1006.7" width="2.2" height="1.8"/><rect x="531.2" y="1008.8" width="2.2" height="1.8"/><rect x="826.3" y="1007.6" width="2.2" height="1.8"/><rect x="914.0" y="1012.6" width="2.2" height="1.8"/><rect x="750.1" y="1009.4" width="2.2" height="1.8"/><rect x="858.7" y="1003.4" width="2.2" height="1.8"/><rect x="611.9" y="1007.4" width="2.2" height="1.8"/><rect x="830.6" y="1008.4" width="2.2" height="1.8"/><rect x="663.4" y="1003.8" width="2.2" height="1.8"/><rect x="683.2" y="1009.4" width="2.2" height="1.8"/><rect x="505.3" y="1010.6" width="2.2" height="1.8"/><rect x="566.3" y="1011.1" width="2.2" height="1.8"/><rect x="656.0" y="1011.0" width="2.2" height="1.8"/><rect x="655.0" y="1010.6" width="2.2" height="1.8"/><rect x="463.4" y="1006.6" width="2.2" height="1.8"/><rect x="549.8" y="1007.6" width="2.2" height="1.8"/><rect x="840.5" y="1007.2" width="2.2" height="1.8"/><rect x="602.8" y="1004.6" width="2.2" height="1.8"/><rect x="570.2" y="1011.3" width="2.2" height="1.8"/><rect x="834.1" y="1005.2" width="2.2" height="1.8"/><rect x="912.9" y="1013.5" width="2.2" height="1.8"/><rect x="781.4" y="1003.6" width="2.2" height="1.8"/><rect x="662.9" y="1005.5" width="2.2" height="1.8"/><rect x="829.6" y="1012.8" width="2.2" height="1.8"/><rect x="789.8" y="1001.1" width="2.2" height="1.8"/><rect x="741.6" y="1007.3" width="2.2" height="1.8"/><rect x="653.8" y="1006.0" width="2.2" height="1.8"/><rect x="640.3" y="1006.8" width="2.2" height="1.8"/><rect x="723.0" y="1006.4" width="2.2" height="1.8"/><rect x="612.3" y="1007.2" width="2.2" height="1.8"/><rect x="850.5" y="1009.5" width="2.2" height="1.8"/><rect x="702.2" y="1007.3" width="2.2" height="1.8"/><rect x="660.7" y="1008.0" width="2.2" height="1.8"/><rect x="734.1" y="1011.1" width="2.2" height="1.8"/><rect x="429.0" y="1009.1" width="2.2" height="1.8"/><rect x="825.0" y="997.7" width="2.2" height="1.8"/><rect x="734.0" y="1008.8" width="2.2" height="1.8"/><rect x="913.6" y="1007.6" width="2.2" height="1.8"/><rect x="518.3" y="1007.9" width="2.2" height="1.8"/><rect x="543.2" y="1009.3" width="2.2" height="1.8"/><rect x="862.3" y="1006.9" width="2.2" height="1.8"/><rect x="443.8" y="1007.3" width="2.2" height="1.8"/><rect x="472.7" y="1004.7" width="2.2" height="1.8"/><rect x="815.7" y="1005.2" width="2.2" height="1.8"/><rect x="765.9" y="999.8" width="2.2" height="1.8"/><rect x="860.5" y="1007.1" width="2.2" height="1.8"/><rect x="809.3" y="1004.4" width="2.2" height="1.8"/><rect x="894.3" y="1004.4" width="2.2" height="1.8"/><rect x="410.5" y="1005.7" width="2.2" height="1.8"/><rect x="480.5" y="1008.8" width="2.2" height="1.8"/><rect x="912.7" y="1002.5" width="2.2" height="1.8"/><rect x="495.1" y="1004.5" width="2.2" height="1.8"/><rect x="753.3" y="1008.8" width="2.2" height="1.8"/><rect x="445.3" y="1008.8" width="2.2" height="1.8"/><rect x="807.4" y="1005.4" width="2.2" height="1.8"/><rect x="781.7" y="1004.6" width="2.2" height="1.8"/><rect x="649.6" y="1011.9" width="2.2" height="1.8"/><rect x="733.2" y="1002.1" width="2.2" height="1.8"/><rect x="564.8" y="1003.0" width="2.2" height="1.8"/><rect x="470.0" y="1009.7" width="2.2" height="1.8"/><rect x="520.9" y="1010.1" width="2.2" height="1.8"/><rect x="892.2" y="1015.9" width="2.2" height="1.8"/><rect x="566.0" y="1007.5" width="2.2" height="1.8"/><rect x="618.2" y="1004.2" width="2.2" height="1.8"/><rect x="615.3" y="1003.5" width="2.2" height="1.8"/><rect x="723.3" y="1007.2" width="2.2" height="1.8"/><rect x="471.7" y="1003.2" width="2.2" height="1.8"/><rect x="618.1" y="1006.8" width="2.2" height="1.8"/><rect x="430.0" y="1007.6" width="2.2" height="1.8"/><rect x="906.7" y="1011.2" width="2.2" height="1.8"/><rect x="816.0" y="1007.1" width="2.2" height="1.8"/><rect x="485.9" y="1005.0" width="2.2" height="1.8"/><rect x="613.5" y="1008.8" width="2.2" height="1.8"/><rect x="710.7" y="1001.6" width="2.2" height="1.8"/><rect x="666.7" y="1002.7" width="2.2" height="1.8"/><rect x="526.1" y="1007.6" width="2.2" height="1.8"/><rect x="897.6" y="1012.4" width="2.2" height="1.8"/><rect x="862.9" y="1002.1" width="2.2" height="1.8"/><rect x="799.2" y="1004.1" width="2.2" height="1.8"/><rect x="865.4" y="1007.1" width="2.2" height="1.8"/><rect x="519.7" y="1004.2" width="2.2" height="1.8"/><rect x="641.8" y="1011.4" width="2.2" height="1.8"/><rect x="676.1" y="1007.1" width="2.2" height="1.8"/><rect x="847.4" y="996.1" width="2.2" height="1.8"/><rect x="467.9" y="1005.3" width="2.2" height="1.8"/><rect x="778.9" y="1007.4" width="2.2" height="1.8"/><rect x="468.4" y="1006.3" width="2.2" height="1.8"/><rect x="582.9" y="1011.8" width="2.2" height="1.8"/><rect x="866.7" y="1007.9" width="2.2" height="1.8"/><rect x="601.9" y="1010.8" width="2.2" height="1.8"/><rect x="718.0" y="1011.3" width="2.2" height="1.8"/><rect x="803.4" y="1003.0" width="2.2" height="1.8"/><rect x="691.1" y="1008.6" width="2.2" height="1.8"/><rect x="857.5" y="1006.1" width="2.2" height="1.8"/><rect x="616.5" y="1004.2" width="2.2" height="1.8"/><rect x="833.3" y="1011.3" width="2.2" height="1.8"/><rect x="711.1" y="1008.4" width="2.2" height="1.8"/><rect x="877.3" y="1008.1" width="2.2" height="1.8"/><rect x="432.7" y="1004.2" width="2.2" height="1.8"/><rect x="710.3" y="1010.7" width="2.2" height="1.8"/><rect x="758.9" y="1000.8" width="2.2" height="1.8"/><rect x="708.4" y="1008.9" width="2.2" height="1.8"/><rect x="601.7" y="1010.9" width="2.2" height="1.8"/><rect x="512.6" y="1006.8" width="2.2" height="1.8"/><rect x="907.8" y="1005.8" width="2.2" height="1.8"/><rect x="868.3" y="1005.3" width="2.2" height="1.8"/><rect x="887.6" y="1010.0" width="2.2" height="1.8"/><rect x="459.9" y="1007.3" width="2.2" height="1.8"/><rect x="450.8" y="1005.3" width="2.2" height="1.8"/><rect x="494.4" y="1008.0" width="2.2" height="1.8"/><rect x="826.8" y="1004.5" width="2.2" height="1.8"/><rect x="631.8" y="1004.0" width="2.2" height="1.8"/><rect x="743.5" y="1007.9" width="2.2" height="1.8"/><rect x="690.4" y="1007.0" width="2.2" height="1.8"/><rect x="459.5" y="1005.8" width="2.2" height="1.8"/><rect x="440.8" y="1007.5" width="2.2" height="1.8"/><rect x="712.0" y="1000.4" width="2.2" height="1.8"/><rect x="726.7" y="1003.0" width="2.2" height="1.8"/><rect x="547.1" y="1005.0" width="2.2" height="1.8"/><rect x="908.4" y="998.4" width="2.2" height="1.8"/><rect x="514.7" y="1007.5" width="2.2" height="1.8"/><rect x="522.6" y="1005.8" width="2.2" height="1.8"/><rect x="669.0" y="1002.5" width="2.2" height="1.8"/><rect x="457.5" y="1006.4" width="2.2" height="1.8"/><rect x="480.8" y="1004.9" width="2.2" height="1.8"/><rect x="749.6" y="1006.9" width="2.2" height="1.8"/><rect x="871.9" y="1005.5" width="2.2" height="1.8"/><rect x="618.8" y="1005.6" width="2.2" height="1.8"/><rect x="774.3" y="1009.3" width="2.2" height="1.8"/><rect x="799.9" y="1005.4" width="2.2" height="1.8"/><rect x="751.7" y="1005.6" width="2.2" height="1.8"/><rect x="851.0" y="1005.6" width="2.2" height="1.8"/><rect x="738.0" y="1001.3" width="2.2" height="1.8"/><rect x="418.0" y="1007.6" width="2.2" height="1.8"/><rect x="786.3" y="1003.8" width="2.2" height="1.8"/><rect x="761.2" y="996.2" width="2.2" height="1.8"/><rect x="696.8" y="1001.1" width="2.2" height="1.8"/><rect x="808.2" y="1006.8" width="2.2" height="1.8"/><rect x="597.4" y="1006.6" width="2.2" height="1.8"/><rect x="577.0" y="1009.8" width="2.2" height="1.8"/><rect x="837.0" y="1003.4" width="2.2" height="1.8"/><rect x="658.8" y="1009.9" width="2.2" height="1.8"/><rect x="739.0" y="1009.9" width="2.2" height="1.8"/><rect x="749.1" y="997.1" width="2.2" height="1.8"/><rect x="820.3" y="1008.1" width="2.2" height="1.8"/><rect x="723.2" y="1004.9" width="2.2" height="1.8"/><rect x="579.6" y="1006.0" width="2.2" height="1.8"/><rect x="615.5" y="1005.9" width="2.2" height="1.8"/><rect x="782.3" y="1008.7" width="2.2" height="1.8"/><rect x="502.0" y="1004.6" width="2.2" height="1.8"/><rect x="657.9" y="1007.4" width="2.2" height="1.8"/><rect x="872.8" y="1014.4" width="2.2" height="1.8"/><rect x="485.7" y="1005.9" width="2.2" height="1.8"/><rect x="581.7" y="1006.9" width="2.2" height="1.8"/><rect x="658.8" y="1005.3" width="2.2" height="1.8"/><rect x="797.3" y="1006.2" width="2.2" height="1.8"/><rect x="432.3" y="1007.1" width="2.2" height="1.8"/><rect x="494.7" y="1008.7" width="2.2" height="1.8"/><rect x="828.1" y="1003.9" width="2.2" height="1.8"/><rect x="725.4" y="1008.7" width="2.2" height="1.8"/><rect x="625.9" y="1007.8" width="2.2" height="1.8"/><rect x="917.8" y="999.2" width="2.2" height="1.8"/><rect x="703.2" y="1002.2" width="2.2" height="1.8"/><rect x="803.1" y="1004.6" width="2.2" height="1.8"/><rect x="911.0" y="1011.1" width="2.2" height="1.8"/><rect x="711.5" y="1007.7" width="2.2" height="1.8"/><rect x="766.4" y="1001.2" width="2.2" height="1.8"/><rect x="840.9" y="1004.8" width="2.2" height="1.8"/><rect x="688.2" y="1001.7" width="2.2" height="1.8"/><rect x="419.6" y="1006.7" width="2.2" height="1.8"/><rect x="555.5" y="1004.5" width="2.2" height="1.8"/><rect x="584.0" y="1005.7" width="2.2" height="1.8"/><rect x="483.6" y="1006.0" width="2.2" height="1.8"/><rect x="741.6" y="1006.6" width="2.2" height="1.8"/><rect x="495.3" y="1007.2" width="2.2" height="1.8"/><rect x="684.3" y="1007.0" width="2.2" height="1.8"/><rect x="881.5" y="1000.7" width="2.2" height="1.8"/><rect x="812.9" y="1008.1" width="2.2" height="1.8"/><rect x="472.8" y="1006.6" width="2.2" height="1.8"/><rect x="616.9" y="1007.6" width="2.2" height="1.8"/><rect x="702.0" y="1004.5" width="2.2" height="1.8"/><rect x="834.9" y="1007.5" width="2.2" height="1.8"/><rect x="677.6" y="1009.4" width="2.2" height="1.8"/><rect x="764.4" y="1004.2" width="2.2" height="1.8"/><rect x="857.2" y="1011.5" width="2.2" height="1.8"/><rect x="727.5" y="1002.4" width="2.2" height="1.8"/><rect x="570.1" y="1004.3" width="2.2" height="1.8"/><rect x="645.5" y="1009.1" width="2.2" height="1.8"/><rect x="633.6" y="1009.2" width="2.2" height="1.8"/><rect x="793.5" y="1011.9" width="2.2" height="1.8"/><rect x="525.8" y="1007.1" width="2.2" height="1.8"/><rect x="651.6" y="1011.6" width="2.2" height="1.8"/><rect x="894.3" y="1004.1" width="2.2" height="1.8"/><rect x="633.6" y="1006.8" width="2.2" height="1.8"/><rect x="857.9" y="1004.5" width="2.2" height="1.8"/><rect x="854.2" y="1011.2" width="2.2" height="1.8"/><rect x="614.5" y="1004.9" width="2.2" height="1.8"/><rect x="906.8" y="1012.5" width="2.2" height="1.8"/><rect x="504.2" y="1007.6" width="2.2" height="1.8"/><rect x="868.1" y="1006.3" width="2.2" height="1.8"/><rect x="434.4" y="1005.9" width="2.2" height="1.8"/><rect x="879.8" y="1007.3" width="2.2" height="1.8"/><rect x="410.5" y="1007.7" width="2.2" height="1.8"/><rect x="901.8" y="1011.3" width="2.2" height="1.8"/><rect x="852.9" y="1004.4" width="2.2" height="1.8"/><rect x="895.0" y="1008.8" width="2.2" height="1.8"/><rect x="889.8" y="1006.0" width="2.2" height="1.8"/><rect x="571.2" y="1008.3" width="2.2" height="1.8"/><rect x="536.6" y="1008.7" width="2.2" height="1.8"/><rect x="678.7" y="1006.4" width="2.2" height="1.8"/><rect x="703.6" y="1005.9" width="2.2" height="1.8"/><rect x="653.3" y="1002.5" width="2.2" height="1.8"/><rect x="759.9" y="1003.4" width="2.2" height="1.8"/><rect x="666.5" y="1009.1" width="2.2" height="1.8"/><rect x="797.7" y="1006.1" width="2.2" height="1.8"/><rect x="542.0" y="1006.2" width="2.2" height="1.8"/><rect x="640.1" y="1005.2" width="2.2" height="1.8"/><rect x="552.7" y="1006.1" width="2.2" height="1.8"/><rect x="618.7" y="1006.0" width="2.2" height="1.8"/><rect x="907.9" y="1002.7" width="2.2" height="1.8"/><rect x="650.3" y="1004.3" width="2.2" height="1.8"/><rect x="634.0" y="1007.8" width="2.2" height="1.8"/><rect x="478.3" y="1007.2" width="2.2" height="1.8"/><rect x="711.5" y="1005.0" width="2.2" height="1.8"/><rect x="559.9" y="1006.3" width="2.2" height="1.8"/><rect x="620.0" y="1006.5" width="2.2" height="1.8"/><rect x="613.3" y="1002.0" width="2.2" height="1.8"/><rect x="490.1" y="1007.0" width="2.2" height="1.8"/><rect x="496.9" y="1007.7" width="2.2" height="1.8"/><rect x="490.9" y="1009.9" width="2.2" height="1.8"/><rect x="561.2" y="1006.5" width="2.2" height="1.8"/><rect x="756.7" y="1010.8" width="2.2" height="1.8"/><rect x="881.1" y="1011.3" width="2.2" height="1.8"/><rect x="779.0" y="1013.7" width="2.2" height="1.8"/><rect x="885.8" y="1012.2" width="2.2" height="1.8"/><rect x="545.2" y="1005.6" width="2.2" height="1.8"/><rect x="631.2" y="1008.7" width="2.2" height="1.8"/><rect x="527.2" y="1009.7" width="2.2" height="1.8"/><rect x="414.6" y="1008.4" width="2.2" height="1.8"/><rect x="820.5" y="1005.9" width="2.2" height="1.8"/><rect x="806.7" y="1012.3" width="2.2" height="1.8"/><rect x="802.8" y="1009.5" width="2.2" height="1.8"/><rect x="853.2" y="1002.9" width="2.2" height="1.8"/><rect x="556.0" y="1005.6" width="2.2" height="1.8"/><rect x="478.3" y="1008.6" width="2.2" height="1.8"/><rect x="417.4" y="1006.6" width="2.2" height="1.8"/><rect x="552.5" y="1002.1" width="2.2" height="1.8"/><rect x="610.0" y="1007.8" width="2.2" height="1.8"/><rect x="900.4" y="1006.9" width="2.2" height="1.8"/><rect x="821.0" y="1002.7" width="2.2" height="1.8"/><rect x="913.7" y="1004.5" width="2.2" height="1.8"/><rect x="527.4" y="1006.9" width="2.2" height="1.8"/><rect x="880.1" y="1003.6" width="2.2" height="1.8"/><rect x="426.7" y="1005.8" width="2.2" height="1.8"/><rect x="642.8" y="1010.6" width="2.2" height="1.8"/><rect x="699.8" y="1011.6" width="2.2" height="1.8"/><rect x="699.1" y="1005.5" width="2.2" height="1.8"/><rect x="487.8" y="1006.7" width="2.2" height="1.8"/><rect x="434.8" y="1004.4" width="2.2" height="1.8"/><rect x="898.1" y="1005.9" width="2.2" height="1.8"/><rect x="515.5" y="1008.3" width="2.2" height="1.8"/><rect x="484.6" y="1009.0" width="2.2" height="1.8"/><rect x="715.3" y="1009.1" width="2.2" height="1.8"/><rect x="850.3" y="1002.1" width="2.2" height="1.8"/><rect x="688.0" y="1009.6" width="2.2" height="1.8"/></g>
<rect x="410" y="1005.8" width="508" height="2.4" fill="#b8b8b8" opacity="0.6"/>
<polygon points="478.5,668 492.4,644.2 506.1,668" fill="#000"/>
<polygon points="886.5,842 913.8,842 900.2,866.5" fill="#000"/>
<polygon points="886.5,928.4 913.8,928.4 900.2,904" fill="#000"/>
<rect x="866.2" y="1053.2" width="40.8" height="5.2" fill="#000"/>
<text x="887.3" y="1044.7" text-anchor="middle" style="font-family:'Liberation Sans',Arial,sans-serif;font-size:16.5px">50 µm</text>
<circle cx="29.7" cy="589.1" r="15.5" fill="#fff" stroke="#000" stroke-width="2"/><text x="29.7" y="596.6" text-anchor="middle" style="font-family:'Liberation Sans',Arial,sans-serif;font-size:21px">1</text>
<text x="54.5" y="595.6" style="font-family:'Liberation Sans',Arial,sans-serif;font-size:21px">Stable jet [●]</text>
<text x="54.5" y="621.5" style="font-family:'Liberation Sans',Arial,sans-serif;font-size:21px">water 17.5 µl/min</text>
<text x="54.5" y="647.4" style="font-family:'Liberation Sans',Arial,sans-serif;font-size:21px">helium 1.1 mg/min</text>
<circle cx="29.7" cy="714.0" r="15.5" fill="#fff" stroke="#000" stroke-width="2"/><text x="29.7" y="721.5" text-anchor="middle" style="font-family:'Liberation Sans',Arial,sans-serif;font-size:21px">2</text>
<text x="54.5" y="721.4" style="font-family:'Liberation Sans',Arial,sans-serif;font-size:21px">Metastable jet [o]</text>
<text x="54.5" y="747.3" style="font-family:'Liberation Sans',Arial,sans-serif;font-size:21px">water 7.5 µl/min</text>
<text x="54.5" y="773.2" style="font-family:'Liberation Sans',Arial,sans-serif;font-size:21px">helium 20 mg/min</text>
<circle cx="29.7" cy="838.8" r="15.5" fill="#fff" stroke="#000" stroke-width="2"/><text x="29.7" y="846.3" text-anchor="middle" style="font-family:'Liberation Sans',Arial,sans-serif;font-size:21px">3</text>
<text x="54.5" y="845.7" style="font-family:'Liberation Sans',Arial,sans-serif;font-size:21px">Unstable jet [x]</text>
<text x="54.5" y="871.6" style="font-family:'Liberation Sans',Arial,sans-serif;font-size:21px">water 2.4 µl/min</text>
<text x="54.5" y="897.5" style="font-family:'Liberation Sans',Arial,sans-serif;font-size:21px">helium 27.5 mg/min</text>
<circle cx="29.7" cy="963.0" r="15.5" fill="#fff" stroke="#000" stroke-width="2"/><text x="29.7" y="970.5" text-anchor="middle" style="font-family:'Liberation Sans',Arial,sans-serif;font-size:21px">4</text>
<text x="54.5" y="970.5" style="font-family:'Liberation Sans',Arial,sans-serif;font-size:21px">Fast, thin jet</text>
<text x="54.5" y="996.4" style="font-family:'Liberation Sans',Arial,sans-serif;font-size:21px">water 2.4 µl/min</text>
<text x="54.5" y="1022.3" style="font-family:'Liberation Sans',Arial,sans-serif;font-size:21px">helium 22.5 mg/min</text>
<g><path fill="#786caf" d="M1078.1 547.5 1075.4 570.9 1075.0 570.9 1075.0 547.5 1078.1 547.5Z"/>
<path fill="#7b71b2" d="M1088.9 547.5 1082.5 643.0 1079.1 676.6 1075.0 704.8 1075.0 559.8 1076.5 547.5 1088.9 547.5Z"/>
<path fill="#7d78b4" d="M1100.0 547.5 1097.9 619.8 1095.0 658.5 1090.3 694.7 1079.8 754.0 1075.0 793.9 1075.0 695.6 1081.4 637.7 1087.3 547.5 1100.0 547.5Z"/>
<path fill="#7f7eb7" d="M1112.1 547.5 1112.7 614.6 1110.4 655.9 1105.0 694.7 1092.3 759.2 1085.5 808.2 1078.7 849.5 1077.7 859.7 1076.8 890.7 1075.0 906.3 1075.0 782.6 1078.3 753.8 1088.8 694.4 1093.7 655.8 1096.3 619.7 1098.5 547.5 1112.1 547.5Z"/>
<path fill="#807fb8" d="M1127.2 547.5 1128.8 619.8 1127.8 643.0 1125.4 666.3 1119.2 702.5 1105.0 766.9 1098.3 808.2 1089.3 854.6 1083.2 906.2 1075.0 942.5 1075.0 893.6 1076.8 851.8 1084.0 808.0 1091.2 756.3 1104.8 686.7 1109.3 650.6 1111.2 614.6 1110.2 560.4 1110.6 547.5 1127.2 547.5Z"/>
<path fill="#8181b9" d="M1145.5 547.5 1146.6 596.5 1146.4 619.8 1145.1 645.6 1141.8 671.5 1134.1 710.2 1119.2 769.5 1112.2 808.2 1101.5 854.7 1091.2 906.3 1079.0 950.1 1076.9 983.6 1075.0 992.4 1075.0 936.0 1081.7 906.0 1087.7 854.4 1096.8 807.9 1103.4 766.7 1118.8 697.0 1124.9 658.4 1126.6 637.8 1127.3 617.2 1125.2 560.4 1125.6 547.5 1145.5 547.5Z"/>
<path fill="#8184bb" d="M1165.7 547.5 1166.4 573.3 1165.8 606.9 1163.0 648.2 1158.9 674.1 1146.5 728.3 1132.6 777.3 1128.7 800.5 1124.2 818.6 1096.3 916.7 1084.4 950.2 1080.5 986.2 1075.0 1002.3 1075.0 985.8 1077.5 949.8 1090.3 903.4 1100.0 854.4 1110.7 807.9 1117.7 769.2 1133.2 707.3 1141.1 666.1 1143.8 642.9 1145.0 617.1 1143.9 547.5 1165.7 547.5Z"/>
<path fill="#8186bc" d="M1186.4 547.5 1185.5 596.6 1181.6 640.5 1177.2 668.9 1169.7 702.5 1160.9 736.1 1148.7 777.3 1142.8 803.1 1138.4 818.6 1103.8 916.7 1089.3 952.8 1083.3 988.9 1078.7 1001.8 1077.7 1008.3 1075.0 1008.3 1075.0 997.7 1078.9 986.0 1082.2 952.4 1094.8 916.2 1122.7 818.2 1127.2 800.2 1131.1 776.9 1145.0 727.9 1157.4 673.8 1161.5 648.0 1164.2 606.8 1164.8 570.7 1164.2 547.5 1186.4 547.5Z"/>
<path fill="#8187bc" d="M1206.8 547.5 1204.4 599.2 1198.4 645.7 1190.0 687.0 1176.3 738.6 1156.8 805.7 1150.6 823.8 1113.6 911.6 1095.0 952.8 1091.9 963.1 1086.4 988.9 1081.7 1001.8 1080.2 1008.3 1076.1 1008.3 1077.2 1001.4 1082.4 986.0 1087.8 952.3 1102.4 916.2 1136.1 820.7 1141.3 802.7 1147.3 776.9 1160.1 733.1 1169.4 697.0 1176.6 663.5 1180.6 635.1 1184.2 591.3 1184.8 547.5 1206.8 547.5Z"/>
<path fill="#8189bd" d="M1227.2 547.5 1225.4 581.1 1223.3 601.8 1219.3 627.6 1213.7 656.0 1199.6 712.8 1175.0 795.4 1167.7 816.1 1158.8 836.8 1099.6 955.4 1095.1 968.3 1089.5 988.9 1084.3 1001.8 1082.6 1008.3 1078.7 1008.3 1080.2 1001.3 1084.9 988.5 1090.4 962.7 1093.5 952.3 1113.3 908.4 1142.0 841.3 1151.0 818.1 1179.2 722.7 1191.4 673.8 1198.5 635.1 1203.3 593.9 1205.3 547.5 1227.2 547.5Z"/>
<path fill="#7f8bbe" d="M1247.8 547.5 1246.3 575.9 1244.2 594.0 1240.6 614.7 1235.4 638.0 1217.8 705.1 1196.9 774.8 1188.3 800.6 1179.9 821.3 1170.9 839.4 1146.8 880.7 1104.2 957.7 1099.0 969.5 1092.7 988.9 1086.9 1001.9 1084.9 1008.3 1081.0 1008.3 1082.9 1001.3 1088.0 988.4 1093.6 967.8 1098.2 954.8 1158.6 833.6 1167.3 813.0 1176.0 787.2 1200.2 704.7 1213.3 650.5 1218.7 622.2 1222.1 599.0 1224.3 575.8 1225.7 547.5 1247.8 547.5Z"/>
<path fill="#7f8cbf" d="M1268.7 547.5 1268.0 570.8 1266.4 586.3 1260.5 614.8 1234.1 705.1 1208.6 785.1 1201.2 805.8 1193.0 823.9 1183.0 842.0 1155.8 882.8 1109.3 958.7 1101.6 973.9 1094.9 991.6 1089.4 1001.9 1087.2 1008.3 1083.4 1008.3 1085.4 1001.3 1091.2 988.4 1097.6 969.0 1102.8 957.0 1145.5 879.9 1170.9 836.1 1179.6 818.1 1187.8 797.5 1217.1 702.1 1235.1 632.5 1243.0 591.3 1244.9 573.2 1246.3 547.5 1268.7 547.5Z"/>
<path fill="#7f8ec0" d="M1092.1 1002.0 1089.6 1008.3 1085.7 1008.3 1088.0 1001.2 1093.5 991.0 1100.2 973.2 1108.0 958.0 1154.5 881.9 1181.7 841.2 1191.6 823.2 1200.7 802.6 1233.4 702.1 1259.7 611.8 1263.2 596.4 1265.5 581.0 1267.1 547.5 1289.6 547.5 1290.2 568.1 1289.7 581.1 1288.3 591.5 1285.2 604.5 1266.4 656.1 1250.6 705.1 1214.7 808.4 1205.9 826.5 1195.1 844.6 1186.0 857.6 1163.5 886.5 1139.0 924.6 1114.5 960.1 1104.2 977.4 1097.2 994.2 1092.1 1002.0Z"/>
<path fill="#7e90c1" d="M1094.4 996.0 1102.8 976.7 1113.1 959.2 1137.7 923.8 1162.3 885.6 1192.1 846.3 1201.7 830.9 1209.8 815.5 1218.3 794.9 1230.0 758.8 1250.9 699.5 1264.1 658.2 1283.7 604.0 1286.7 591.2 1288.1 581.0 1288.6 568.1 1288.0 547.5 1310.0 547.5 1313.3 581.0 1312.4 591.5 1309.7 601.9 1302.7 620.1 1282.1 663.9 1268.7 702.6 1243.4 767.1 1231.2 803.2 1225.5 816.2 1215.5 834.3 1203.3 852.4 1190.9 867.9 1171.3 890.0 1143.8 929.8 1129.9 947.5 1111.9 972.8 1106.3 981.3 1099.6 996.8 1093.8 1003.9 1092.1 1008.3 1088.0 1008.3 1089.9 1002.8 1094.4 996.0Z"/>
<path fill="#7e92c3" d="M1329.7 547.5 1333.9 570.6 1335.7 586.2 1334.8 594.1 1331.2 607.1 1321.3 630.4 1306.4 656.2 1297.4 674.2 1288.0 700.0 1256.2 772.3 1244.1 805.8 1235.4 823.9 1224.2 842.1 1212.6 857.6 1196.6 875.7 1179.0 893.4 1166.1 909.9 1148.4 935.0 1111.8 980.0 1107.8 986.5 1101.5 1000.2 1096.3 1005.4 1095.0 1008.3 1090.5 1008.3 1092.5 1003.0 1098.2 996.0 1105.4 979.7 1115.7 964.5 1142.6 928.9 1170.0 889.1 1189.7 866.9 1202.0 851.5 1212.6 836.0 1221.5 820.6 1230.7 800.1 1241.0 769.1 1267.3 702.0 1280.6 663.3 1301.3 619.4 1308.2 601.4 1310.8 591.2 1311.8 581.0 1308.4 547.5 1329.7 547.5Z"/>
<path fill="#7e95c5" d="M1348.8 547.5 1353.0 575.8 1353.6 591.4 1351.5 607.0 1346.8 622.6 1339.3 639.5 1317.1 679.4 1276.5 762.0 1267.0 782.4 1255.1 811.0 1247.4 826.5 1237.7 842.1 1225.8 857.6 1211.6 873.1 1181.6 902.9 1152.4 940.2 1114.4 983.5 1104.1 1001.9 1098.8 1008.3 1093.3 1008.3 1095.1 1004.5 1100.7 998.6 1106.4 985.7 1110.6 979.0 1147.1 934.0 1164.9 909.0 1177.8 892.4 1195.5 874.6 1211.4 856.6 1222.9 841.2 1232.7 825.8 1241.6 807.8 1253.7 774.2 1286.6 699.4 1296.6 672.4 1305.0 655.5 1319.9 629.7 1330.1 605.5 1333.3 593.8 1334.2 586.2 1332.4 570.8 1328.2 547.5 1348.8 547.5Z"/>
<path fill="#7e99c7" d="M1119.6 984.1 1114.4 990.4 1107.8 1002.0 1103.2 1008.3 1097.0 1008.3 1102.8 1001.1 1109.3 988.3 1113.2 982.5 1151.2 939.2 1180.4 901.9 1210.5 872.0 1222.4 859.2 1232.8 846.3 1243.1 830.9 1252.6 812.9 1266.6 779.4 1275.9 759.7 1315.7 678.7 1337.9 638.8 1345.3 622.0 1350.5 604.1 1352.1 588.8 1351.4 576.0 1347.2 547.5 1367.1 547.5 1370.9 578.4 1371.4 596.6 1369.1 614.7 1363.0 635.5 1350.6 661.4 1287.6 771.6 1259.0 829.1 1247.3 847.2 1234.7 862.8 1221.9 875.7 1186.7 908.6 1151.7 950.5 1135.2 968.6 1119.6 984.1Z"/>
<path fill="#7e9dca" d="M1389.1 572.0 1390.3 596.5 1388.6 617.3 1384.4 635.4 1376.3 656.2 1368.2 671.7 1357.3 689.8 1297.9 781.5 1263.9 842.0 1254.6 855.0 1243.2 868.0 1194.4 911.3 1181.6 924.9 1143.5 968.6 1119.5 990.5 1107.5 1008.3 1101.3 1008.3 1115.8 986.0 1134.1 967.5 1150.5 949.5 1183.0 910.4 1193.4 899.7 1223.5 872.0 1235.8 859.2 1247.9 843.8 1257.6 828.3 1286.2 770.9 1349.3 660.6 1361.6 634.9 1367.6 614.4 1369.8 596.5 1369.4 578.5 1365.5 547.5 1373.5 547.5 1389.1 572.0Z"/>
<path fill="#7ea0ce" d="M1410.4 605.0 1408.3 625.0 1403.8 643.2 1397.9 658.8 1388.6 676.9 1377.4 695.0 1363.2 715.6 1306.3 793.0 1278.3 839.5 1267.6 855.0 1259.0 865.4 1248.7 875.9 1212.5 905.0 1194.4 921.3 1145.4 975.2 1138.3 981.5 1122.1 993.8 1111.6 1008.3 1105.6 1008.3 1118.4 989.4 1142.3 967.5 1180.4 923.9 1193.4 910.2 1242.1 866.9 1253.4 854.0 1264.3 838.6 1296.6 780.7 1357.6 686.4 1368.3 668.4 1376.0 653.0 1383.6 632.4 1387.4 614.5 1388.8 593.9 1387.2 568.9 1399.3 588.8 1410.4 605.0Z"/>
<path fill="#7ea6d2" d="M1428.8 634.2 1423.0 653.6 1417.5 666.5 1409.1 682.1 1399.0 697.6 1370.4 736.3 1314.3 803.4 1305.3 816.2 1285.8 847.2 1272.0 865.3 1262.4 875.7 1253.9 883.5 1220.2 908.2 1199.6 925.8 1189.3 936.0 1145.3 983.5 1140.1 987.6 1124.7 997.1 1115.9 1008.3 1109.8 1008.3 1121.0 992.7 1137.3 980.3 1144.3 974.1 1193.4 920.2 1211.5 903.9 1247.8 874.6 1257.9 864.3 1268.3 851.5 1278.5 836.1 1304.4 793.0 1361.9 714.8 1376.1 694.1 1387.3 676.1 1396.5 658.1 1403.2 640.2 1407.2 622.2 1409.0 602.9 1418.7 617.2 1428.8 634.2Z"/>
<path fill="#7eacd5" d="M1444.3 658.3 1435.6 676.9 1426.1 692.4 1390.9 738.9 1377.7 754.4 1321.1 814.3 1313.4 824.4 1294.7 852.4 1277.2 873.7 1259.0 890.7 1223.7 914.5 1199.6 934.8 1145.3 991.6 1128.3 999.6 1124.7 1002.7 1120.4 1008.3 1114.1 1008.3 1118.9 1001.1 1123.6 995.9 1140.5 985.5 1146.8 979.9 1188.2 934.9 1198.5 924.7 1219.3 907.0 1252.9 882.3 1263.8 872.0 1273.0 861.8 1284.5 846.3 1312.1 803.7 1369.2 735.4 1399.5 694.1 1409.3 678.7 1417.3 663.3 1423.4 647.9 1427.6 632.3 1435.5 645.5 1444.3 658.3Z"/>
<path fill="#7eb1d9" d="M1321.8 831.8 1299.1 862.8 1284.9 878.8 1266.8 895.4 1227.9 919.9 1202.9 940.2 1166.0 977.3 1147.8 997.3 1142.5 999.9 1132.2 1002.7 1128.9 1004.7 1125.6 1008.3 1118.6 1008.3 1126.2 999.2 1131.6 996.0 1141.9 992.0 1146.9 988.2 1190.8 941.3 1203.7 929.1 1224.5 912.0 1258.0 889.5 1276.6 872.1 1293.4 851.5 1312.1 823.5 1319.9 813.3 1376.5 753.4 1391.7 735.4 1415.6 704.4 1426.5 689.0 1435.6 673.6 1443.3 656.7 1457.8 677.6 1445.2 698.1 1432.0 715.7 1416.5 733.7 1396.3 759.6 1377.9 776.9 1357.2 798.0 1336.6 815.6 1321.8 831.8Z"/>
<path fill="#7cb6dc" d="M1469.2 693.8 1449.7 720.8 1408.9 769.4 1369.1 806.1 1346.9 823.7 1336.6 833.0 1309.4 865.4 1289.5 886.1 1269.3 903.0 1233.1 924.8 1207.3 944.8 1168.6 981.7 1150.4 1001.2 1145.1 1004.2 1133.3 1008.3 1123.7 1008.3 1127.8 1003.6 1131.6 1001.2 1142.0 998.4 1147.1 995.8 1164.9 976.2 1201.9 939.1 1227.0 918.7 1264.5 895.2 1283.8 877.7 1302.2 856.6 1325.1 825.2 1338.1 812.0 1358.5 794.6 1397.5 756.0 1415.3 732.8 1428.6 717.3 1440.6 701.8 1450.9 686.4 1456.8 676.2 1469.2 693.8Z"/>
<path fill="#77bade" d="M1479.4 708.2 1455.7 738.9 1419.3 780.4 1387.5 808.7 1344.3 842.5 1312.1 875.7 1292.6 893.8 1274.4 908.0 1237.8 930.0 1215.1 946.6 1173.8 983.4 1155.7 1002.1 1150.4 1006.3 1146.8 1008.3 1130.6 1008.3 1134.1 1006.1 1144.5 1002.8 1149.5 1000.0 1167.5 980.7 1206.3 943.6 1232.2 923.6 1268.4 901.7 1289.0 884.4 1308.3 864.3 1335.5 831.9 1345.9 822.5 1368.1 804.9 1407.8 768.3 1448.5 719.9 1468.3 692.5 1479.4 708.2Z"/>
<path fill="#71bee0" d="M1488.6 722.1 1467.1 749.2 1442.4 777.6 1427.0 793.4 1408.9 809.4 1389.9 824.2 1352.0 851.4 1310.6 888.6 1288.2 906.7 1273.0 917.1 1238.3 937.5 1217.6 952.3 1173.7 989.4 1154.4 1008.3 1143.3 1008.3 1149.6 1005.0 1154.6 1001.0 1170.1 984.6 1214.1 945.4 1236.9 928.7 1271.6 908.1 1288.5 895.2 1308.4 877.2 1343.3 841.4 1380.2 812.6 1407.4 789.4 1420.8 776.6 1434.7 761.1 1462.0 728.8 1478.5 706.8 1488.6 722.1Z"/>
<path fill="#69c1e2" d="M1497.3 735.5 1473.6 764.6 1452.9 788.1 1434.7 805.9 1416.6 821.2 1398.4 834.5 1354.6 863.4 1313.8 896.4 1293.0 911.9 1277.0 922.4 1243.4 941.8 1225.4 954.0 1191.8 981.4 1176.3 992.9 1160.4 1008.3 1151.9 1008.3 1172.7 988.3 1216.7 951.1 1237.4 936.2 1272.2 915.8 1287.3 905.5 1309.6 887.5 1351.0 850.2 1392.5 820.4 1413.0 803.9 1428.9 789.5 1446.0 771.4 1470.2 743.1 1487.7 720.7 1497.3 735.5Z"/>
<path fill="#64c4e1" d="M1505.1 749.4 1476.1 783.9 1460.7 800.9 1444.3 816.4 1424.3 832.5 1403.6 846.6 1359.7 872.5 1316.3 904.2 1293.8 919.7 1248.6 946.0 1233.1 955.8 1217.6 967.0 1194.4 986.1 1178.9 996.2 1165.9 1008.3 1158.1 1008.3 1175.3 991.7 1190.8 980.1 1224.5 952.8 1242.6 940.5 1276.2 921.1 1292.1 910.6 1312.8 895.2 1353.7 862.1 1400.2 831.4 1420.8 815.9 1438.9 800.0 1454.2 784.3 1476.7 758.6 1496.4 734.1 1505.1 749.4Z"/>
<path fill="#62c6de" d="M1198.6 980.8 1216.7 965.8 1234.8 952.8 1292.9 918.4 1315.4 902.9 1356.3 872.9 1405.4 843.7 1426.0 829.3 1443.3 815.2 1459.6 799.8 1475.9 781.8 1504.3 747.9 1512.4 763.4 1473.5 808.6 1459.8 821.6 1440.6 837.1 1416.5 853.7 1364.8 881.0 1298.1 924.8 1240.8 957.8 1220.2 972.0 1199.2 989.3 1178.9 1001.3 1171.3 1008.3 1163.7 1008.3 1176.8 995.8 1198.6 980.8Z"/>
<path fill="#65c7d8" d="M1519.6 777.4 1502.0 797.4 1489.1 813.7 1478.7 824.1 1462.9 837.1 1434.0 857.7 1413.9 869.2 1377.7 885.1 1359.7 894.8 1302.5 930.0 1240.8 964.6 1217.6 980.6 1199.5 995.9 1184.0 1002.9 1177.0 1008.3 1169.1 1008.3 1177.9 1000.1 1198.3 988.1 1219.3 970.8 1240.0 956.5 1297.3 923.5 1361.5 881.2 1377.0 872.4 1408.8 856.4 1431.2 842.1 1452.7 825.5 1469.8 810.1 1511.6 761.9 1519.6 777.4Z"/>
<path fill="#6ac7d0" d="M1527.1 790.9 1509.8 810.8 1502.9 821.5 1499.3 825.1 1479.4 842.2 1439.8 868.8 1419.0 879.5 1382.8 893.4 1359.7 904.8 1311.5 932.6 1243.4 969.6 1218.1 986.7 1202.0 1000.7 1183.8 1008.3 1174.8 1008.3 1183.2 1001.5 1200.8 993.2 1216.7 979.4 1245.2 960.1 1297.3 931.3 1364.1 890.5 1379.6 882.5 1413.2 867.8 1433.8 856.1 1465.3 833.3 1480.2 820.5 1487.9 812.7 1500.8 796.4 1518.8 775.9 1527.1 790.9Z"/>
<path fill="#6fc8ca" d="M1534.5 805.1 1512.3 831.7 1501.3 842.2 1483.8 855.8 1455.9 873.3 1430.1 886.2 1385.4 902.5 1362.2 913.2 1246.0 974.4 1226.7 986.7 1208.2 1002.2 1202.0 1006.0 1196.4 1008.3 1181.3 1008.3 1185.8 1005.3 1202.9 998.4 1219.3 983.9 1245.2 966.7 1282.9 946.7 1361.5 902.1 1382.2 891.9 1418.4 878.1 1440.2 866.8 1478.5 841.0 1498.3 824.0 1501.6 820.5 1510.4 807.6 1526.3 789.5 1534.5 805.1Z"/>
<path fill="#73c8c5" d="M1541.2 820.0 1523.6 839.6 1509.5 852.5 1491.5 866.1 1470.8 878.8 1456.2 886.2 1439.7 893.3 1388.0 911.1 1364.8 921.1 1246.0 980.5 1230.5 990.1 1207.3 1008.3 1192.1 1008.3 1201.3 1004.6 1206.4 1001.6 1224.5 986.4 1245.2 973.1 1361.5 911.8 1384.8 901.1 1431.3 884.0 1445.8 877.1 1463.9 866.8 1485.4 852.7 1503.5 838.2 1513.3 828.2 1533.8 803.5 1541.2 820.0Z"/>
<path fill="#77c9c0" d="M1547.6 834.3 1529.1 852.5 1513.3 865.5 1494.9 878.4 1478.5 887.8 1450.0 899.9 1393.1 918.3 1372.5 926.2 1248.5 985.0 1233.1 994.3 1215.2 1008.3 1204.1 1008.3 1211.4 1003.5 1229.6 988.9 1245.2 979.2 1364.1 919.7 1387.4 909.7 1441.7 890.8 1457.1 884.0 1472.6 876.0 1491.6 864.2 1508.7 851.2 1522.5 838.5 1540.5 818.5 1547.6 834.3Z"/>
<path fill="#7bcaba" d="M1553.7 847.9 1536.5 862.9 1518.9 875.8 1499.6 888.7 1485.4 896.5 1458.9 906.9 1395.7 926.0 1375.1 933.4 1305.3 964.3 1274.3 979.5 1248.5 990.8 1235.7 998.4 1222.8 1008.3 1212.6 1008.3 1232.2 993.1 1247.8 983.7 1366.7 927.1 1390.0 917.7 1451.7 897.7 1480.4 885.1 1498.0 874.5 1515.7 861.7 1530.9 848.8 1546.9 832.8 1553.7 847.9Z"/>
<path fill="#80cab3" d="M1560.0 860.6 1543.0 873.2 1507.0 896.4 1488.8 906.0 1465.4 914.2 1398.3 933.2 1380.2 939.1 1341.8 955.9 1307.9 969.5 1274.3 986.0 1251.1 995.1 1240.8 1000.8 1230.4 1008.3 1220.3 1008.3 1234.8 997.2 1247.8 989.4 1273.7 978.1 1304.7 962.9 1371.9 933.0 1395.2 924.5 1458.4 905.4 1485.6 894.7 1501.0 886.0 1521.6 871.9 1538.7 859.1 1553.0 846.4 1560.0 860.6Z"/>
<path fill="#86ccad" d="M1566.2 872.9 1527.6 894.9 1504.4 909.3 1496.5 912.9 1476.4 919.8 1429.3 932.1 1382.8 945.5 1345.8 961.0 1302.7 977.8 1276.9 991.4 1251.1 1000.6 1238.5 1008.3 1227.9 1008.3 1240.0 999.5 1250.4 993.7 1273.7 984.6 1302.1 970.3 1341.2 954.4 1377.1 938.6 1397.8 931.7 1467.6 911.9 1490.7 903.5 1503.6 896.7 1538.2 874.5 1559.3 859.2 1566.2 872.9Z"/>
<path fill="#8dcda6" d="M1572.3 885.1 1532.8 902.7 1504.3 919.1 1480.9 926.8 1429.2 939.4 1385.4 951.6 1349.0 966.2 1323.4 975.1 1302.7 983.6 1278.3 997.1 1256.2 1004.0 1247.5 1008.3 1235.9 1008.3 1250.4 999.2 1276.3 989.9 1302.1 976.4 1345.2 959.6 1379.7 945.0 1426.3 931.3 1476.0 918.3 1498.0 910.6 1506.2 906.4 1526.9 893.5 1555.3 878.1 1565.5 871.5 1572.3 885.1Z"/>
<path fill="#93cea0" d="M1578.0 896.0 1537.9 910.4 1527.6 915.1 1512.1 923.8 1504.2 927.0 1483.5 933.6 1431.8 945.7 1387.9 957.7 1323.4 980.7 1302.8 989.5 1279.4 1002.5 1260.3 1008.3 1244.6 1008.3 1255.6 1002.5 1278.9 995.3 1299.5 983.4 1320.2 974.7 1348.4 964.7 1384.9 950.1 1428.8 937.9 1480.5 925.3 1503.7 917.7 1532.1 901.4 1571.6 883.7 1578.0 896.0Z"/>
<path fill="#9bd098" d="M1540.4 918.5 1506.8 933.1 1488.7 939.2 1431.8 952.4 1403.4 960.0 1333.7 982.3 1307.9 992.9 1287.3 1004.4 1278.2 1008.3 1255.8 1008.3 1281.4 1000.0 1302.1 988.1 1322.8 979.2 1384.9 957.1 1431.4 944.2 1490.8 929.8 1508.9 923.7 1526.9 913.7 1537.3 908.9 1577.3 894.7 1583.0 905.5 1540.4 918.5Z"/>
<path fill="#a3d291" d="M1508.9 930.7 1539.9 917.0 1582.3 904.1 1587.4 913.8 1537.8 927.3 1504.3 940.7 1489.5 945.6 1418.9 962.0 1341.4 984.8 1316.3 994.5 1290.5 1008.3 1273.3 1008.3 1285.7 1003.5 1309.3 990.6 1333.2 980.8 1403.0 958.5 1431.4 950.9 1490.8 936.9 1508.9 930.7Z"/>
<path fill="#aed489" d="M1591.3 921.0 1535.2 935.0 1501.7 948.0 1488.7 952.0 1424.1 966.7 1382.2 979.1 1344.0 988.9 1323.4 996.7 1300.8 1008.3 1287.1 1008.3 1315.0 993.4 1338.4 984.1 1418.5 960.5 1490.8 943.6 1542.5 924.2 1586.7 912.4 1591.3 921.0Z"/>
<path fill="#b8d582" d="M1594.7 927.4 1532.6 941.9 1503.9 953.3 1488.7 958.0 1424.1 972.6 1385.9 984.3 1346.6 993.1 1331.2 998.5 1311.2 1008.3 1297.7 1008.3 1320.2 996.4 1341.0 988.3 1382.3 977.5 1421.1 965.8 1490.9 949.8 1503.7 945.6 1527.0 936.2 1540.0 932.0 1590.5 919.6 1594.7 927.4Z"/>
<path fill="#c0d37a" d="M1597.4 933.1 1573.9 938.9 1532.6 947.4 1523.2 950.7 1506.9 958.1 1496.4 961.6 1460.2 970.8 1424.1 978.3 1390.5 989.2 1346.6 998.0 1334.4 1002.3 1321.8 1008.3 1307.9 1008.3 1327.7 998.3 1343.6 992.3 1385.5 982.8 1423.7 971.1 1490.9 955.8 1503.7 951.7 1524.4 943.0 1537.4 939.0 1593.9 926.0 1597.4 933.1Z"/>
<path fill="#c8d272" d="M1599.8 938.2 1573.9 944.5 1532.6 952.7 1525.0 955.3 1509.4 962.8 1499.6 966.2 1460.2 976.5 1424.1 984.0 1393.3 994.6 1380.1 997.5 1351.7 1001.7 1341.5 1004.6 1333.0 1008.3 1318.5 1008.3 1333.8 1000.9 1346.1 996.5 1387.5 988.4 1423.7 976.8 1459.9 969.2 1493.4 960.8 1503.7 957.6 1524.4 948.6 1534.8 945.3 1573.6 937.4 1596.8 931.6 1599.8 938.2Z"/>
<path fill="#d1cf6d" d="M1601.9 942.8 1576.5 949.0 1532.6 957.8 1527.5 959.5 1512.0 967.2 1501.6 970.9 1460.2 982.1 1424.1 989.7 1398.2 999.4 1380.1 1003.3 1359.4 1005.3 1346.3 1008.3 1329.4 1008.3 1340.3 1003.4 1348.8 1000.8 1359.2 998.5 1379.8 996.0 1392.7 993.1 1423.7 982.5 1459.9 975.0 1498.6 964.9 1508.9 961.4 1527.0 952.9 1534.8 950.6 1573.6 943.0 1599.1 936.7 1601.9 942.8Z"/>
<path fill="#dacb69" d="M1603.9 947.1 1535.2 962.3 1512.0 972.3 1501.6 975.9 1462.8 986.9 1426.7 995.1 1403.4 1003.6 1395.6 1005.7 1383.1 1008.3 1341.5 1008.3 1359.1 1003.8 1379.8 1001.7 1397.8 997.9 1423.7 988.3 1459.9 980.6 1501.2 969.4 1511.4 965.8 1526.9 958.1 1534.8 955.7 1576.2 947.5 1601.2 941.4 1603.9 947.1Z"/>
<path fill="#e2c96a" d="M1373.7 1008.0 1397.9 1003.6 1426.2 993.7 1462.4 985.4 1498.6 975.2 1511.4 970.8 1529.5 962.5 1537.4 960.1 1603.2 945.6 1605.7 951.1 1537.8 966.6 1506.8 979.0 1468.0 990.8 1431.8 999.8 1416.9 1004.7 1404.5 1004.7 1404.5 1008.3 1373.7 1008.0Z"/>
<path fill="#eac76c" d="M1607.5 955.1 1543.0 970.0 1496.5 987.3 1465.4 996.9 1435.8 1004.7 1412.4 1004.7 1428.8 999.0 1465.0 990.1 1501.2 979.3 1514.0 974.7 1532.1 966.8 1542.6 963.7 1605.1 949.7 1607.5 955.1ZM1404.5 1007.3 1404.5 1008.3 1401.4 1008.3 1404.5 1007.3Z"/>
<path fill="#efc573" d="M1609.3 959.0 1545.6 974.1 1501.7 990.5 1457.1 1004.7 1430.1 1004.7 1465.0 995.4 1490.8 987.5 1511.5 980.5 1534.7 971.0 1547.7 967.2 1606.9 953.7 1609.3 959.0Z"/>
<path fill="#f5c47a" d="M1611.1 963.0 1566.2 973.2 1548.1 978.3 1475.1 1004.7 1451.3 1004.7 1488.2 993.4 1511.5 985.3 1537.3 975.2 1555.2 969.9 1608.7 957.6 1611.1 963.0Z"/>
<path fill="#f6c77c" d="M1613.0 967.2 1571.3 976.7 1553.5 981.7 1490.5 1004.7 1470.1 1004.7 1506.3 992.1 1539.9 979.4 1563.0 972.5 1610.5 961.6 1613.0 967.2Z"/>
<path fill="#f8ca7d" d="M1615.0 971.6 1562.6 984.3 1546.4 989.4 1504.5 1004.7 1485.9 1004.7 1542.5 983.7 1568.4 975.8 1612.3 965.7 1615.0 971.6Z"/>
<path fill="#f9d078" d="M1617.2 976.6 1592.0 984.0 1566.2 989.3 1519.4 1004.7 1500.3 1004.7 1545.1 988.2 1562.2 982.8 1614.3 970.2 1617.2 976.6Z"/>
<path fill="#fad673" d="M1619.8 982.5 1592.0 992.5 1563.6 997.1 1536.8 1004.7 1514.9 1004.7 1547.7 993.2 1565.3 987.9 1591.7 982.5 1616.6 975.2 1619.8 982.5Z"/>
<path fill="#f9db71" d="M1621.0 989.7 1599.9 1000.3 1589.3 1003.3 1564.3 1004.7 1531.8 1004.7 1563.2 995.6 1594.2 990.3 1619.2 981.1 1620.3 983.5 1621.0 989.7Z"/>
<path fill="#f8e070" d="M1622.0 997.8 1610.4 1004.7 1555.6 1004.6 1568.5 1002.6 1591.7 1001.3 1604.4 996.6 1620.8 988.1 1622.0 997.8Z"/>
<path fill="#f6e272" d="M1606.8 1004.7 1617.3 999.2 1621.8 996.1 1622.8 1004.7 1606.8 1004.7Z"/>
<path fill="#f4e575" d="M1622.7 1003.8 1622.8 1004.7 1621.4 1004.7 1622.7 1003.8Z"/></g>
<path d="M1178.4 1063.5V547.5M1307.6 1063.5V547.5M1436.8 1063.5V547.5M1566.0 1063.5V547.5M1695.2 1063.5V547.5M1049.2 1011.9H1773.5M1049.2 960.3H1773.5M1049.2 908.7H1773.5M1049.2 857.1H1773.5M1049.2 805.5H1773.5M1049.2 753.9H1773.5M1049.2 702.3H1773.5M1049.2 650.7H1773.5M1049.2 599.1H1773.5M1049.2 547.5H1773.5" stroke="#000" stroke-opacity="0.065" stroke-width="1" fill="none"/>
<rect x="1073" y="1012" width="687" height="51.5" fill="url(#hatch)"/>
<rect x="1358" y="1022.7" width="90.6" height="25.3" fill="#fff"/>
<text x="1402.8" y="1039.8" text-anchor="middle" style="font-family:'Liberation Sans',Arial,sans-serif;font-size:21px">Dripping</text>
<mask id="mc" maskUnits="userSpaceOnUse" x="0" y="0" width="1898" height="1779"><rect x="0" y="0" width="1898" height="1779" fill="#fff"/><rect x="-16.5" y="-10" width="33.0" height="20" fill="#000" transform="translate(1101,907) rotate(-73)"/><rect x="-16.5" y="-10" width="33.0" height="20" fill="#000" transform="translate(1154,921) rotate(-55)"/><rect x="-16.5" y="-10" width="33.0" height="20" fill="#000" transform="translate(1216,931) rotate(-39)"/><rect x="-22.8" y="-10" width="45.5" height="20" fill="#000" transform="translate(1298,938) rotate(-29)"/><rect x="-22.8" y="-10" width="45.5" height="20" fill="#000" transform="translate(1368,958) rotate(-22)"/><rect x="-22.8" y="-10" width="45.5" height="20" fill="#000" transform="translate(1442,984) rotate(-18)"/><rect x="-22.8" y="-10" width="45.5" height="20" fill="#000" transform="translate(1570,983) rotate(-18)"/><rect x="-22.8" y="-10" width="45.5" height="20" fill="#000" transform="translate(1688,992) rotate(-12)"/></mask>
<g mask="url(#mc)" fill="none" stroke="#000" stroke-width="4.2" stroke-linejoin="round" stroke-linecap="round"><path d="M1169.1 547.5C1169.2 551.2 1169.9 560.5 1169.9 569.9C1169.9 579.4 1169.7 591.0 1169.1 604.0C1168.5 617.0 1167.2 636.8 1166.0 648.1C1164.8 659.5 1163.8 663.5 1162.1 672.1C1160.5 680.8 1158.5 690.0 1156.2 700.0C1153.9 710.0 1150.5 723.3 1148.2 732.0C1145.8 740.7 1144.5 744.1 1142.2 752.1C1139.9 760.1 1136.1 772.0 1134.2 780.0C1132.4 788.0 1132.5 793.4 1131.1 800.1C1129.7 806.7 1127.8 813.3 1125.9 819.9C1124.1 826.6 1122.0 833.4 1120.0 840.1C1118.0 846.7 1116.0 853.3 1114.1 859.9C1112.1 866.6 1109.8 874.4 1108.1 880.1C1106.4 885.7 1106.0 887.3 1104.0 894.0C1102.0 900.7 1098.3 913.0 1096.0 920.1C1093.6 927.1 1092.0 930.7 1090.0 936.0C1088.0 941.4 1085.4 946.4 1084.1 952.0C1082.7 957.7 1082.7 964.1 1082.0 970.1C1081.4 976.1 1081.0 983.3 1080.2 987.9C1079.4 992.5 1078.0 995.9 1077.1 998.0C1076.2 1000.0 1075.4 999.7 1075.0 1000.0"/><path d="M1323.9 547.5C1324.6 551.2 1327.0 563.2 1328.0 569.9C1329.0 576.7 1330.4 582.3 1330.1 588.0C1329.7 593.7 1328.3 597.3 1325.9 604.0C1323.6 610.7 1319.9 620.0 1315.9 628.0C1311.9 636.0 1305.9 644.6 1301.9 652.0C1298.0 659.3 1295.1 664.8 1292.1 672.1C1289.1 679.5 1287.1 688.1 1284.1 696.1C1281.1 704.1 1278.0 710.8 1274.0 720.1C1270.0 729.4 1264.1 742.8 1260.1 752.1C1256.0 761.4 1253.0 768.1 1250.0 776.1C1247.0 784.1 1243.9 794.4 1242.0 800.1C1240.0 805.7 1240.1 805.6 1238.1 809.9C1236.1 814.2 1233.1 820.5 1230.1 825.9C1227.1 831.2 1223.7 836.5 1220.0 841.9C1216.3 847.2 1212.4 852.5 1208.1 857.9C1203.8 863.2 1199.2 868.5 1194.2 873.9C1189.2 879.2 1183.1 884.2 1178.1 889.9C1173.1 895.5 1169.5 900.6 1164.2 907.9C1158.8 915.3 1151.1 927.3 1146.1 934.0C1141.1 940.6 1138.5 942.6 1134.2 947.9C1129.9 953.2 1124.6 960.3 1120.3 966.0C1115.9 971.7 1110.8 978.0 1108.1 982.0C1105.4 986.0 1105.6 987.0 1104.2 990.0C1102.9 993.0 1101.8 997.5 1100.1 1000.0C1098.4 1002.5 1095.2 1004.1 1094.2 1004.9"/><path d="M1483.1 575.9C1483.9 578.5 1487.1 587.6 1488.0 591.6C1488.8 595.6 1488.6 595.2 1488.0 599.9C1487.3 604.6 1485.8 612.7 1484.1 619.7C1482.4 626.7 1480.3 634.6 1477.9 641.9C1475.5 649.3 1472.9 656.8 1469.9 663.9C1466.9 670.9 1463.5 677.6 1459.8 684.0C1456.1 690.3 1452.2 696.0 1447.9 702.0C1443.6 708.1 1438.7 714.4 1434.0 720.1C1429.3 725.8 1424.1 730.8 1419.7 736.1C1415.4 741.4 1410.9 747.8 1407.6 752.1C1404.3 756.4 1404.5 757.3 1399.8 761.9C1395.2 766.5 1386.6 773.6 1380.0 780.0C1373.3 786.3 1366.7 794.1 1360.1 800.1C1353.4 806.1 1345.8 811.1 1340.2 816.1C1334.5 821.1 1330.2 825.4 1326.2 830.0C1322.2 834.7 1319.8 839.0 1316.1 843.9C1312.5 848.9 1309.2 853.9 1304.2 859.9C1299.2 866.0 1292.5 873.7 1286.2 880.1C1279.8 886.4 1272.9 892.9 1266.3 897.9C1259.6 902.9 1252.4 906.1 1246.1 910.0C1239.8 913.9 1235.5 915.8 1228.3 921.1C1221.0 926.4 1209.8 935.5 1202.4 942.0C1195.1 948.5 1190.7 953.7 1184.3 960.0C1178.0 966.4 1170.4 973.6 1164.4 979.9C1158.5 986.2 1151.7 994.6 1148.4 998.0C1145.1 1001.3 1147.5 999.0 1144.5 1000.0C1141.6 1001.0 1132.9 1003.3 1130.6 1003.9"/><path d="M1643.0 620.0C1640.8 623.3 1634.3 632.9 1630.1 639.9C1625.9 646.9 1621.9 654.7 1617.9 662.1C1613.9 669.4 1610.0 677.3 1606.1 684.0C1602.1 690.6 1598.5 696.0 1594.2 702.0C1589.9 708.1 1584.9 714.1 1580.2 720.1C1575.5 726.1 1570.7 731.9 1566.0 737.9C1561.3 743.9 1556.8 749.6 1551.8 756.0C1546.8 762.3 1541.3 769.8 1536.0 776.1C1530.7 782.4 1525.0 788.3 1520.0 793.9C1515.0 799.5 1509.4 805.5 1506.1 809.9C1502.7 814.2 1504.5 815.3 1500.1 819.9C1495.8 824.6 1486.6 832.7 1480.0 838.0C1473.3 843.3 1467.4 847.0 1460.1 851.9C1452.7 856.9 1443.3 863.6 1436.0 867.9C1428.7 872.3 1422.1 875.3 1416.1 878.0C1410.1 880.7 1406.1 881.6 1400.1 883.9C1394.1 886.3 1386.6 888.9 1380.0 891.9C1373.3 894.9 1366.7 898.3 1360.1 902.0C1353.4 905.7 1347.9 909.4 1339.9 914.1C1331.9 918.8 1321.9 924.5 1312.0 930.1C1302.0 935.7 1288.8 943.3 1280.2 947.9C1271.6 952.6 1266.3 954.8 1260.3 958.0C1254.3 961.2 1249.3 964.0 1244.3 967.0C1239.3 970.0 1234.8 972.9 1230.1 976.0C1225.4 979.2 1220.8 982.3 1216.1 986.1C1211.5 989.9 1207.5 995.7 1202.2 999.0C1196.8 1002.3 1187.1 1004.8 1184.1 1006.0"/><path d="M1759.0 754.9C1755.8 756.4 1746.8 760.4 1739.9 764.0C1733.1 767.5 1724.6 771.7 1717.9 776.1C1711.3 780.4 1705.2 785.7 1699.9 790.0C1694.5 794.3 1689.9 798.6 1685.9 801.9C1681.9 805.2 1680.1 806.5 1675.8 809.9C1671.5 813.2 1667.7 815.6 1660.1 822.0C1652.4 828.4 1640.1 840.1 1630.1 848.1C1620.1 856.1 1609.1 863.3 1600.1 870.0C1591.1 876.7 1583.4 883.7 1576.1 888.1C1568.8 892.4 1562.9 893.4 1556.2 896.1C1549.5 898.7 1541.4 901.7 1536.0 904.1C1530.7 906.4 1528.8 907.3 1524.1 910.0C1519.5 912.7 1514.8 917.0 1508.1 920.1C1501.4 923.1 1492.1 925.7 1484.1 928.0C1476.1 930.4 1469.1 931.8 1460.1 934.0C1451.1 936.1 1436.8 939.3 1430.1 941.0C1423.3 942.6 1426.9 942.0 1419.5 944.0C1412.1 946.1 1397.8 949.1 1385.9 953.1C1374.0 957.1 1358.2 964.2 1347.9 968.0C1337.6 971.9 1332.1 973.0 1324.1 976.0C1316.2 979.0 1307.4 982.4 1300.1 986.1C1292.8 989.8 1286.9 995.0 1280.2 998.0C1273.5 1000.9 1264.7 1002.4 1260.1 1003.9C1255.4 1005.4 1253.4 1006.5 1252.0 1007.0"/><path d="M1760.1 904.1C1756.7 905.2 1746.8 908.9 1740.2 911.0C1733.5 913.2 1728.4 914.8 1720.0 917.0C1711.7 919.1 1700.0 921.7 1690.0 923.9C1680.0 926.1 1670.0 928.2 1660.1 930.1C1650.1 932.0 1640.1 933.6 1630.1 935.5C1620.1 937.5 1609.1 939.9 1600.1 942.0C1591.1 944.0 1582.8 946.4 1576.1 947.9C1569.4 949.4 1566.0 949.9 1560.1 951.0C1554.1 952.2 1545.5 953.7 1540.2 954.9C1534.8 956.0 1532.7 956.1 1528.0 958.0C1523.3 959.8 1516.6 964.0 1512.0 966.0C1507.3 968.0 1508.8 967.6 1500.1 970.1C1491.5 972.6 1472.8 977.9 1460.1 980.9C1447.4 984.0 1433.9 985.6 1423.9 988.4C1413.8 991.2 1407.2 995.4 1399.8 997.7C1392.5 1000.0 1386.6 1001.1 1380.0 1002.1C1373.3 1003.1 1365.7 1003.1 1360.1 1003.9C1354.4 1004.7 1348.4 1006.5 1346.1 1007.0"/><path d="M1760.1 956.9C1756.7 957.0 1748.5 957.0 1740.2 957.2C1731.8 957.4 1719.2 957.7 1710.2 958.0C1701.2 958.3 1691.8 958.5 1686.2 959.0C1680.5 959.5 1682.1 959.9 1676.1 961.1C1670.1 962.2 1659.5 964.2 1650.2 966.0C1640.9 967.8 1628.6 970.1 1620.3 971.9C1611.9 973.8 1605.1 975.7 1600.1 977.1C1595.1 978.4 1595.1 978.8 1590.3 979.9C1585.5 981.0 1577.9 981.8 1571.2 983.5C1564.4 985.2 1556.8 987.7 1550.0 990.0C1543.1 992.2 1537.1 994.4 1530.1 996.9C1523.1 999.4 1511.8 1003.6 1508.1 1004.9"/><path d="M1760.1 982.5C1755.1 982.6 1738.4 982.1 1730.1 983.0C1721.8 983.9 1717.3 986.4 1710.2 987.9C1703.1 989.5 1694.5 990.8 1687.4 992.3C1680.4 993.8 1674.3 995.1 1668.1 996.9C1661.9 998.7 1653.2 1002.1 1650.2 1003.1"/></g>
<g style="font-family:'Liberation Sans',Arial,sans-serif;font-size:21px"><text transform="translate(1101,907) rotate(-73)" y="7.5" text-anchor="middle">40</text><text transform="translate(1154,921) rotate(-55)" y="7.5" text-anchor="middle">60</text><text transform="translate(1216,931) rotate(-39)" y="7.5" text-anchor="middle">80</text><text transform="translate(1298,938) rotate(-29)" y="7.5" text-anchor="middle">100</text><text transform="translate(1368,958) rotate(-22)" y="7.5" text-anchor="middle">120</text><text transform="translate(1442,984) rotate(-18)" y="7.5" text-anchor="middle">140</text><text transform="translate(1570,983) rotate(-18)" y="7.5" text-anchor="middle">160</text><text transform="translate(1688,992) rotate(-12)" y="7.5" text-anchor="middle">180</text></g>
<g fill="#000"><circle cx="1075.0" cy="547.5" r="3.1"/><circle cx="1113.8" cy="547.5" r="3.1"/><circle cx="1178.4" cy="547.5" r="3.1"/><circle cx="1243.0" cy="547.5" r="3.1"/><circle cx="1307.6" cy="547.5" r="3.1"/><circle cx="1372.2" cy="547.5" r="3.1"/><circle cx="1113.8" cy="612.0" r="3.1"/><circle cx="1178.4" cy="612.0" r="3.1"/><circle cx="1243.0" cy="612.0" r="3.1"/><circle cx="1307.6" cy="612.0" r="3.1"/><circle cx="1372.2" cy="612.0" r="3.1"/><circle cx="1075.0" cy="676.5" r="3.1"/><circle cx="1113.8" cy="676.5" r="3.1"/><circle cx="1178.4" cy="676.5" r="3.1"/><circle cx="1243.0" cy="676.5" r="3.1"/><circle cx="1307.6" cy="676.5" r="3.1"/><circle cx="1372.2" cy="676.5" r="3.1"/><circle cx="1075.0" cy="741.0" r="3.1"/><circle cx="1113.8" cy="741.0" r="3.1"/><circle cx="1178.4" cy="741.0" r="3.1"/><circle cx="1243.0" cy="741.0" r="3.1"/><circle cx="1307.6" cy="741.0" r="3.1"/><circle cx="1372.2" cy="741.0" r="3.1"/><circle cx="1075.0" cy="805.5" r="3.1"/><circle cx="1113.8" cy="805.5" r="3.1"/><circle cx="1178.4" cy="805.5" r="3.1"/><circle cx="1243.0" cy="805.5" r="3.1"/><circle cx="1307.6" cy="805.5" r="3.1"/><circle cx="1372.2" cy="805.5" r="3.1"/><circle cx="1075.0" cy="870.0" r="3.1"/><circle cx="1113.8" cy="870.0" r="3.1"/><circle cx="1178.4" cy="870.0" r="3.1"/><circle cx="1243.0" cy="870.0" r="3.1"/><circle cx="1307.6" cy="870.0" r="3.1"/><circle cx="1372.2" cy="870.0" r="3.1"/><circle cx="1075.0" cy="934.5" r="3.1"/><circle cx="1113.8" cy="934.5" r="3.1"/><circle cx="1178.4" cy="934.5" r="3.1"/><circle cx="1243.0" cy="934.5" r="3.1"/><circle cx="1307.6" cy="934.5" r="3.1"/><circle cx="1372.2" cy="934.5" r="3.1"/><circle cx="1436.8" cy="676.5" r="3.1"/><circle cx="1436.8" cy="741.0" r="3.1"/><circle cx="1501.4" cy="741.0" r="3.1"/><circle cx="1436.8" cy="805.5" r="3.1"/><circle cx="1501.4" cy="805.5" r="3.1"/><circle cx="1436.8" cy="870.0" r="3.1"/><circle cx="1501.4" cy="870.0" r="3.1"/><circle cx="1436.8" cy="934.5" r="3.1"/><circle cx="1501.4" cy="934.5" r="3.1"/><circle cx="1566.0" cy="934.5" r="3.1"/><circle cx="1075.0" cy="999.0" r="3.1"/><circle cx="1075.0" cy="1006.7" r="3.1"/><circle cx="1113.8" cy="999.0" r="3.1"/><circle cx="1113.8" cy="1006.7" r="3.1"/><circle cx="1178.4" cy="999.0" r="3.1"/><circle cx="1178.4" cy="1006.7" r="3.1"/><circle cx="1243.0" cy="999.0" r="3.1"/><circle cx="1243.0" cy="1006.7" r="3.1"/><circle cx="1307.6" cy="999.0" r="3.1"/><circle cx="1307.6" cy="1006.7" r="3.1"/><circle cx="1372.2" cy="999.0" r="3.1"/><circle cx="1372.2" cy="1006.7" r="3.1"/><circle cx="1436.8" cy="999.0" r="3.1"/><circle cx="1436.8" cy="1006.7" r="3.1"/><circle cx="1501.4" cy="999.0" r="3.1"/><circle cx="1501.4" cy="1006.7" r="3.1"/><circle cx="1566.0" cy="999.0" r="3.1"/><circle cx="1566.0" cy="1006.7" r="3.1"/></g>
<g fill="none" stroke="#000" stroke-width="2.4"><circle cx="1436.8" cy="547.5" r="5.6"/><circle cx="1501.4" cy="547.5" r="5.6"/><circle cx="1436.8" cy="612.0" r="5.6"/><circle cx="1501.4" cy="612.0" r="5.6"/><circle cx="1501.4" cy="676.5" r="5.6"/><circle cx="1566.0" cy="805.5" r="5.6"/><circle cx="1630.6" cy="934.5" r="5.6"/></g>
<path d="M1561.4 542.9l9.2 9.2M1561.4 552.1l9.2 -9.2M1626.0 546.8l9.2 9.2M1626.0 556.0l9.2 -9.2M1690.6 542.9l9.2 9.2M1690.6 552.1l9.2 -9.2M1755.2 542.9l9.2 9.2M1755.2 552.1l9.2 -9.2M1561.4 607.4l9.2 9.2M1561.4 616.6l9.2 -9.2M1626.0 607.4l9.2 9.2M1626.0 616.6l9.2 -9.2M1561.4 671.9l9.2 9.2M1561.4 681.1l9.2 -9.2M1626.0 674.5l9.2 9.2M1626.0 683.7l9.2 -9.2M1690.6 679.6l9.2 9.2M1690.6 688.8l9.2 -9.2M1755.2 679.6l9.2 9.2M1755.2 688.8l9.2 -9.2M1561.4 736.4l9.2 9.2M1561.4 745.6l9.2 -9.2M1626.0 731.2l9.2 9.2M1626.0 740.4l9.2 -9.2M1626.0 800.9l9.2 9.2M1626.0 810.1l9.2 -9.2M1690.6 800.9l9.2 9.2M1690.6 810.1l9.2 -9.2M1755.2 800.9l9.2 9.2M1755.2 810.1l9.2 -9.2M1626.0 865.4l9.2 9.2M1626.0 874.6l9.2 -9.2M1690.6 927.3l9.2 9.2M1690.6 936.5l9.2 -9.2M1755.2 929.9l9.2 9.2M1755.2 939.1l9.2 -9.2M1690.6 994.4l9.2 9.2M1690.6 1003.6l9.2 -9.2" stroke="#000" stroke-width="2.2" fill="none"/>
<circle cx="1073.6" cy="610.8" r="15.5" fill="#fff" stroke="#000" stroke-width="2"/><text x="1073.6" y="618.3" text-anchor="middle" style="font-family:'Liberation Sans',Arial,sans-serif;font-size:21px">1</text>
<circle cx="1566" cy="871.6" r="15.5" fill="#fff" stroke="#000" stroke-width="2"/><text x="1566" y="879.1" text-anchor="middle" style="font-family:'Liberation Sans',Arial,sans-serif;font-size:21px">2</text>
<circle cx="1625" cy="1000" r="15.5" fill="#fff" stroke="#000" stroke-width="2"/><text x="1625" y="1007.5" text-anchor="middle" style="font-family:'Liberation Sans',Arial,sans-serif;font-size:21px">4</text>
<circle cx="1757" cy="1002" r="15.5" fill="#fff" stroke="#000" stroke-width="2"/><text x="1757" y="1009.5" text-anchor="middle" style="font-family:'Liberation Sans',Arial,sans-serif;font-size:21px">3</text>
<path d="M1049.7 546.9V1064.4H1773.5" fill="none" stroke="#000" stroke-width="2.4" stroke-linecap="square"/><path d="M1049.2 1063.5h8M1049.2 1011.9h8M1049.2 960.3h8M1049.2 908.7h8M1049.2 857.1h8M1049.2 805.5h8M1049.2 753.9h8M1049.2 702.3h8M1049.2 650.7h8M1049.2 599.1h8M1049.2 547.5h8M1049.2 1063.5v-7M1178.4 1063.5v-7M1307.6 1063.5v-7M1436.8 1063.5v-7M1566.0 1063.5v-7M1695.2 1063.5v-7" stroke="#000" stroke-width="2.2" fill="none"/><g style="font-family:'Liberation Sans',Arial,sans-serif;font-size:21px"><text x="1041.2" y="1070.1" text-anchor="end">0</text><text x="1041.2" y="1018.5" text-anchor="end">2</text><text x="1041.2" y="966.9" text-anchor="end">4</text><text x="1041.2" y="915.3" text-anchor="end">6</text><text x="1041.2" y="863.7" text-anchor="end">8</text><text x="1041.2" y="812.1" text-anchor="end">10</text><text x="1041.2" y="760.5" text-anchor="end">12</text><text x="1041.2" y="708.9" text-anchor="end">14</text><text x="1041.2" y="657.3" text-anchor="end">16</text><text x="1041.2" y="605.7" text-anchor="end">18</text><text x="1041.2" y="554.1" text-anchor="end">20</text><text x="1049.2" y="1088.5" text-anchor="middle">0</text><text x="1178.4" y="1088.5" text-anchor="middle">5</text><text x="1307.6" y="1088.5" text-anchor="middle">10</text><text x="1436.8" y="1088.5" text-anchor="middle">15</text><text x="1566.0" y="1088.5" text-anchor="middle">20</text><text x="1695.2" y="1088.5" text-anchor="middle">25</text></g><text transform="translate(998.6,805.2) rotate(-90)" text-anchor="middle" style="font-family:'Liberation Sans',Arial,sans-serif;font-size:21px">Water flow [µl/min]</text><text x="1411" y="1115.8" text-anchor="middle" style="font-family:'Liberation Sans',Arial,sans-serif;font-size:21px">Gas flow [mg/min]</text>
<linearGradient id="cbc" x1="0" y1="1" x2="0" y2="0"><stop offset="0.000" stop-color="#463a94"/><stop offset="0.025" stop-color="#433792"/><stop offset="0.050" stop-color="#464296"/><stop offset="0.075" stop-color="#494899"/><stop offset="0.100" stop-color="#4b4d9c"/><stop offset="0.125" stop-color="#4b52a0"/><stop offset="0.150" stop-color="#4b54a0"/><stop offset="0.175" stop-color="#4858a2"/><stop offset="0.200" stop-color="#485ca4"/><stop offset="0.225" stop-color="#4760a6"/><stop offset="0.250" stop-color="#4665aa"/><stop offset="0.275" stop-color="#466dae"/><stop offset="0.300" stop-color="#4675b6"/><stop offset="0.325" stop-color="#467fbe"/><stop offset="0.350" stop-color="#468bc6"/><stop offset="0.375" stop-color="#4497cd"/><stop offset="0.400" stop-color="#389fd1"/><stop offset="0.425" stop-color="#28a7d5"/><stop offset="0.450" stop-color="#20acd2"/><stop offset="0.475" stop-color="#22afc7"/><stop offset="0.500" stop-color="#2dafb7"/><stop offset="0.525" stop-color="#36b0ac"/><stop offset="0.550" stop-color="#3fb2a0"/><stop offset="0.575" stop-color="#49b393"/><stop offset="0.600" stop-color="#56b685"/><stop offset="0.625" stop-color="#65b976"/><stop offset="0.650" stop-color="#75bd66"/><stop offset="0.675" stop-color="#8bc156"/><stop offset="0.700" stop-color="#9fc146"/><stop offset="0.725" stop-color="#b0be35"/><stop offset="0.750" stop-color="#c4b72b"/><stop offset="0.775" stop-color="#d5b12a"/><stop offset="0.800" stop-color="#e4ad31"/><stop offset="0.825" stop-color="#f0aa41"/><stop offset="0.850" stop-color="#f3b044"/><stop offset="0.875" stop-color="#f6bb3e"/><stop offset="0.900" stop-color="#f6c835"/><stop offset="0.925" stop-color="#f4d232"/><stop offset="0.950" stop-color="#f0d737"/><stop offset="0.975" stop-color="#ecdc37"/><stop offset="1.000" stop-color="#e8de28"/></linearGradient>
<rect x="1787" y="547" width="30" height="516.3" fill="url(#cbc)" stroke="#000" stroke-width="1.8"/>
<path d="M1817.0 1001.3h-6M1817.0 936.4h-6M1817.0 871.5h-6M1817.0 806.6h-6M1817.0 741.7h-6M1817.0 676.8h-6M1817.0 611.9h-6M1817.0 547.0h-6" stroke="#000" stroke-width="2.2"/>
<g style="font-family:'Liberation Sans',Arial,sans-serif;font-size:21px"><text x="1828.0" y="1008.6">40</text><text x="1828.0" y="943.7">60</text><text x="1828.0" y="878.8">80</text><text x="1828.0" y="813.9">100</text><text x="1828.0" y="749.0">120</text><text x="1828.0" y="684.1">140</text><text x="1828.0" y="619.2">160</text><text x="1828.0" y="554.3">180</text></g>
<text transform="translate(1892.5,805) rotate(-90)" text-anchor="middle" style="font-family:'Liberation Sans',Arial,sans-serif;font-size:21px">Jet speed [m/s]</text>
<g><path fill="#f0e86c" d="M98.0 1659.4 105.9 1660.6 113.0 1662.4 98.0 1662.4 98.0 1659.4Z"/>
<path fill="#f2e774" d="M103.4 1649.4 113.7 1653.6 134.5 1657.6 136.6 1662.4 106.9 1662.4 98.0 1660.9 98.0 1648.7 103.4 1649.4ZM137.5 1660.4 139.0 1659.2 141.9 1658.7 153.6 1662.4 136.9 1662.4 137.5 1660.4Z"/>
<path fill="#f4e575" d="M133.5 1658.9 115.9 1655.7 102.9 1650.9 98.0 1650.3 98.0 1641.8 118.8 1648.2 142.4 1652.3 165.3 1659.2 179.8 1662.3 148.9 1662.4 141.8 1660.3 139.6 1660.7 138.5 1662.4 135.0 1662.4 133.5 1658.9Z"/>
<path fill="#f6e272" d="M98.0 1636.1 124.0 1644.4 183.3 1656.9 214.1 1659.8 278.7 1661.7 278.7 1662.4 172.1 1662.4 142.0 1653.9 118.5 1649.7 98.0 1643.4 98.0 1636.1Z"/>
<path fill="#f8e070" d="M98.0 1637.7 98.0 1630.8 118.9 1638.5 129.1 1641.4 172.9 1649.7 196.1 1652.4 229.6 1654.2 278.6 1655.3 356.0 1660.4 405.1 1661.3 412.4 1662.4 238.5 1662.4 203.7 1660.6 183.0 1658.4 167.5 1655.5 146.9 1650.4 121.0 1645.3 98.0 1637.7Z"/>
<path fill="#f9db71" d="M541.7 1657.5 572.7 1656.1 585.7 1656.9 597.5 1658.6 533.5 1658.8 541.7 1657.5ZM98.0 1625.5 121.5 1635.1 131.7 1638.2 178.1 1645.1 211.5 1647.3 276.1 1648.7 363.8 1655.6 405.1 1657.0 426.9 1660.3 426.9 1662.4 363.7 1662.3 283.7 1657.1 221.8 1655.5 185.6 1653.0 134.0 1644.0 121.0 1640.8 98.0 1632.4 98.0 1625.5Z"/>
<path fill="#fad673" d="M588.1 1658.8 570.1 1657.6 544.9 1658.8 495.7 1658.8 495.7 1658.2 515.9 1656.8 552.0 1651.3 580.5 1649.5 596.0 1650.8 632.2 1656.3 644.7 1656.8 645.0 1658.8 588.1 1658.8ZM98.0 1620.0 129.2 1633.8 136.8 1635.7 152.3 1637.7 190.9 1640.6 278.7 1642.4 366.4 1650.6 407.7 1653.0 438.6 1657.3 475.4 1658.1 475.4 1658.8 426.9 1658.8 426.9 1661.8 405.0 1658.5 363.7 1657.1 281.1 1650.6 211.5 1648.8 180.5 1646.9 139.2 1641.2 126.2 1638.3 98.0 1627.1 98.0 1620.0Z"/>
<path fill="#f9d078" d="M435.9 1658.6 407.5 1654.6 366.3 1652.2 281.1 1644.1 188.3 1642.1 141.8 1638.1 126.1 1634.4 98.0 1621.7 98.0 1614.1 113.8 1622.9 129.2 1630.0 136.8 1632.2 147.1 1633.4 183.2 1634.9 270.9 1635.3 443.7 1652.9 492.7 1653.2 513.3 1652.3 557.1 1645.3 580.4 1642.6 626.9 1645.6 643.2 1644.4 644.9 1658.3 632.0 1657.8 593.3 1652.0 577.9 1651.0 544.4 1653.7 511.3 1658.8 435.9 1658.6Z"/>
<path fill="#f8ca7d" d="M521.0 1646.9 580.4 1635.8 621.7 1635.7 630.7 1634.3 639.7 1631.6 642.4 1637.6 643.4 1645.9 626.9 1647.1 580.5 1644.1 557.4 1646.8 513.4 1653.8 492.7 1654.8 443.7 1654.5 270.8 1636.9 185.7 1636.5 149.5 1635.1 139.2 1634.1 131.3 1632.3 110.2 1622.8 98.0 1615.9 98.0 1607.9 113.9 1618.0 125.8 1624.0 134.4 1627.9 141.8 1629.1 178.0 1629.6 221.8 1628.5 242.5 1629.3 263.1 1628.1 317.4 1633.6 369.0 1640.5 438.6 1648.1 461.8 1647.6 495.3 1648.3 521.0 1646.9Z"/>
<path fill="#f6c77c" d="M640.3 1633.0 631.0 1635.8 621.8 1637.2 580.5 1637.3 518.6 1648.7 495.3 1649.9 461.8 1649.1 438.5 1649.6 368.8 1642.1 322.4 1635.7 265.7 1629.8 242.5 1630.9 221.8 1630.1 154.8 1631.3 139.2 1630.4 131.3 1628.4 118.3 1622.1 98.0 1609.7 98.0 1601.2 119.0 1615.6 134.4 1623.5 139.4 1624.7 154.7 1625.2 221.8 1622.0 242.5 1622.9 263.1 1621.3 327.7 1628.7 402.7 1639.4 438.6 1643.2 459.2 1642.4 495.3 1643.3 518.5 1642.5 580.3 1629.3 601.1 1628.7 619.0 1626.7 626.7 1624.7 635.1 1621.3 640.3 1633.0Z"/>
<path fill="#f5c47a" d="M635.8 1622.7 619.3 1628.2 601.1 1630.2 580.6 1630.9 518.6 1644.0 495.3 1644.9 461.8 1643.9 438.5 1644.8 402.5 1641.0 327.5 1630.2 263.1 1622.8 242.5 1624.4 221.9 1623.6 152.2 1626.9 136.5 1625.8 115.7 1615.4 98.0 1603.1 98.0 1594.2 121.7 1611.2 134.4 1617.9 142.0 1619.9 154.7 1620.2 219.2 1615.7 242.5 1615.9 265.7 1615.0 327.7 1622.6 402.5 1634.3 436.0 1637.8 461.8 1637.2 497.9 1638.3 521.0 1637.1 580.3 1623.5 601.0 1621.4 613.8 1619.1 631.4 1613.0 635.8 1622.7Z"/>
<path fill="#efc573" d="M632.0 1614.4 619.4 1619.2 611.6 1621.1 580.6 1625.1 541.9 1634.4 518.6 1639.0 497.9 1639.8 461.8 1638.7 435.9 1639.3 402.3 1635.9 327.5 1624.2 265.7 1616.5 242.5 1617.5 216.7 1617.3 152.2 1621.9 139.1 1621.1 133.8 1619.3 120.8 1612.5 98.0 1596.1 98.0 1586.6 126.8 1607.5 137.0 1612.5 144.5 1614.3 157.3 1614.4 216.6 1609.2 268.3 1608.7 327.7 1616.5 404.7 1629.1 433.4 1632.0 464.4 1631.9 497.9 1633.1 521.0 1632.0 541.6 1627.9 577.7 1618.4 606.1 1613.2 616.3 1610.2 628.0 1605.5 632.0 1614.4Z"/>
<path fill="#eac76c" d="M628.6 1606.9 616.8 1611.7 606.4 1614.7 578.1 1619.9 541.9 1629.4 521.2 1633.5 497.9 1634.6 464.3 1633.4 433.4 1633.5 404.5 1630.6 327.5 1618.0 268.2 1610.2 216.7 1610.7 157.4 1615.9 141.7 1615.5 133.8 1612.9 123.4 1607.3 98.0 1588.5 98.0 1578.5 126.8 1600.0 137.0 1605.3 144.6 1607.4 157.3 1607.8 216.6 1602.4 268.3 1602.2 304.5 1606.7 405.1 1623.2 433.4 1626.0 500.5 1627.8 522.5 1626.5 541.6 1622.7 575.1 1613.5 600.9 1607.4 613.6 1603.4 624.8 1598.6 628.6 1606.9Z"/>
<path fill="#e2c96a" d="M625.5 1600.0 601.3 1608.9 575.5 1615.0 541.9 1624.2 521.2 1628.3 497.9 1629.3 430.8 1627.4 402.3 1624.3 322.3 1611.0 286.2 1605.5 268.2 1603.7 216.7 1604.0 157.4 1609.4 144.3 1608.9 136.4 1606.7 126.0 1601.3 98.0 1580.4 98.0 1569.8 129.4 1593.1 139.5 1598.0 147.1 1599.8 159.9 1600.2 193.4 1596.8 216.7 1595.4 270.9 1595.7 294.2 1598.5 402.6 1616.3 433.4 1619.6 497.9 1622.3 518.5 1621.6 544.1 1616.6 593.1 1602.8 608.6 1597.8 621.8 1591.9 625.5 1600.0Z"/>
<path fill="#dacb69" d="M622.4 1593.3 609.1 1599.2 596.2 1603.6 547.1 1617.5 523.8 1622.5 510.8 1623.7 497.9 1623.8 430.8 1620.9 402.3 1617.8 294.0 1600.1 270.8 1597.2 219.3 1596.9 196.1 1598.1 160.0 1601.7 152.1 1601.8 144.3 1600.9 136.4 1598.4 126.0 1592.8 98.0 1571.7 98.0 1560.6 129.4 1583.8 139.5 1588.8 147.2 1590.9 159.9 1591.6 193.4 1589.1 219.2 1588.1 273.5 1589.1 400.0 1608.9 436.0 1612.8 495.3 1616.4 518.5 1616.0 536.4 1612.9 559.6 1606.7 598.3 1594.4 618.8 1585.4 622.4 1593.3Z"/>
<path fill="#d1cf6d" d="M619.4 1586.8 595.5 1597.1 560.0 1608.2 539.4 1613.8 523.8 1616.9 513.4 1617.9 497.9 1618.0 430.8 1614.0 397.2 1610.1 273.4 1590.7 219.3 1589.7 193.5 1590.6 159.9 1593.1 146.9 1592.4 139.0 1590.3 128.6 1585.1 98.0 1562.5 98.0 1551.1 129.4 1574.0 139.5 1579.0 149.7 1581.5 157.3 1582.0 224.4 1580.7 276.1 1582.4 330.3 1591.2 405.1 1602.2 487.6 1609.8 505.6 1610.5 518.5 1610.1 541.2 1605.9 557.0 1601.6 590.1 1590.5 603.4 1585.1 615.5 1579.0 619.4 1586.8Z"/>
<path fill="#c8d272" d="M616.3 1580.4 588.5 1592.7 557.5 1603.1 539.4 1607.9 526.4 1610.7 516.0 1611.8 487.5 1611.3 404.9 1603.7 330.1 1592.8 275.9 1583.9 224.4 1582.2 157.3 1583.5 146.9 1582.7 139.0 1580.5 128.6 1575.3 98.0 1553.0 98.0 1541.5 131.9 1565.3 139.5 1568.9 147.2 1571.0 154.8 1571.6 170.3 1571.1 276.1 1575.2 330.3 1584.5 389.6 1592.5 490.2 1603.2 521.0 1603.6 547.0 1598.2 585.3 1585.1 602.8 1577.6 612.1 1572.6 616.3 1580.4Z"/>
<path fill="#c0d37a" d="M612.8 1573.9 585.5 1586.7 547.1 1599.7 518.6 1605.3 487.5 1604.5 412.7 1596.8 363.6 1590.7 327.5 1585.6 276.0 1576.8 170.2 1572.7 154.8 1573.1 146.9 1572.5 139.0 1570.3 131.2 1566.7 98.0 1543.4 98.0 1532.1 134.5 1556.1 139.5 1558.3 149.7 1561.0 167.7 1560.6 204.4 1564.6 229.6 1565.6 252.8 1567.5 278.7 1568.2 335.5 1578.3 394.8 1585.4 459.3 1591.3 490.2 1595.5 521.0 1596.4 549.3 1590.5 584.9 1577.6 601.6 1569.8 608.5 1565.8 612.8 1573.9Z"/>
<path fill="#b8d582" d="M609.2 1567.2 583.3 1579.9 549.7 1592.0 521.2 1597.9 490.1 1597.1 459.1 1592.9 394.6 1586.9 335.3 1579.9 278.5 1569.8 252.8 1569.1 229.5 1567.1 204.2 1566.2 167.6 1562.1 149.5 1562.6 139.0 1559.8 133.7 1557.4 98.0 1534.0 98.0 1522.9 131.9 1543.7 142.1 1548.4 149.7 1550.3 170.3 1551.9 203.8 1556.3 278.7 1561.4 332.9 1570.9 394.8 1577.6 456.7 1582.0 492.8 1586.3 518.5 1587.3 541.6 1583.6 554.2 1580.1 582.0 1569.8 604.7 1558.6 609.2 1567.2Z"/>
<path fill="#aed489" d="M605.4 1560.0 582.6 1571.3 554.7 1581.6 541.9 1585.1 521.2 1588.7 492.7 1587.9 456.6 1583.6 389.5 1578.7 332.7 1572.4 278.5 1562.9 203.7 1557.8 170.2 1553.4 146.8 1551.3 139.0 1548.9 131.2 1545.1 98.0 1524.8 98.0 1513.9 129.3 1532.7 142.1 1538.3 152.3 1541.0 203.9 1548.0 281.3 1554.9 330.3 1563.3 369.0 1567.7 407.6 1570.6 459.2 1572.2 500.5 1575.4 518.5 1575.8 536.5 1573.8 554.4 1569.5 580.2 1560.5 600.6 1550.9 605.4 1560.0Z"/>
<path fill="#a3d291" d="M601.3 1552.3 578.2 1563.0 554.9 1570.9 539.3 1574.8 521.2 1577.2 505.6 1577.2 461.7 1573.9 407.6 1572.2 363.7 1568.8 330.1 1564.8 281.1 1556.4 201.1 1549.3 149.4 1542.0 139.0 1538.8 128.6 1534.1 98.0 1515.7 98.0 1504.8 113.9 1515.1 129.3 1523.6 142.1 1529.0 154.9 1532.6 201.3 1539.7 283.9 1548.4 330.3 1556.0 358.7 1559.3 389.6 1561.8 415.3 1562.9 472.1 1561.1 526.2 1561.2 544.2 1559.0 562.2 1555.0 580.2 1549.5 596.3 1542.8 601.3 1552.3Z"/>
<path fill="#9bd098" d="M597.0 1544.2 578.1 1551.9 560.0 1557.2 541.9 1561.0 526.3 1562.7 472.1 1562.7 415.3 1564.4 389.5 1563.4 355.9 1560.6 327.5 1557.1 281.1 1549.6 195.9 1540.5 152.0 1533.6 141.6 1530.5 128.6 1525.0 115.7 1517.9 98.0 1506.7 98.0 1495.7 113.9 1506.3 129.3 1514.8 142.1 1520.3 157.5 1524.7 193.6 1530.8 286.4 1541.8 327.7 1548.3 353.5 1551.5 397.3 1554.6 428.2 1554.2 490.1 1547.0 531.4 1545.5 552.0 1543.7 575.1 1539.6 592.0 1534.3 597.0 1544.2Z"/>
<path fill="#93cea0" d="M592.7 1535.7 570.3 1542.3 549.6 1545.5 531.5 1547.0 490.2 1548.6 425.7 1556.0 394.7 1556.0 350.8 1552.7 286.2 1543.4 193.4 1532.3 167.5 1528.3 152.0 1524.9 139.0 1520.8 126.0 1514.9 113.1 1507.6 98.0 1497.6 98.0 1486.6 116.5 1499.2 129.3 1506.4 144.7 1512.7 160.1 1517.1 196.1 1523.5 240.0 1528.6 265.8 1532.7 350.9 1543.9 392.2 1546.8 420.4 1546.6 438.4 1544.4 495.2 1533.8 562.3 1530.0 575.2 1528.4 587.7 1525.6 592.7 1535.7Z"/>
<path fill="#8dcda6" d="M588.4 1527.0 575.4 1530.0 562.5 1531.5 495.4 1535.3 438.7 1545.9 420.6 1548.2 392.1 1548.3 350.8 1545.4 265.6 1534.2 239.8 1530.1 193.3 1524.6 154.6 1517.3 141.6 1513.3 128.6 1507.8 117.4 1501.5 101.8 1491.2 98.0 1488.5 98.0 1477.4 116.5 1490.4 129.3 1498.1 144.7 1504.5 162.7 1509.7 191.0 1515.1 242.6 1521.7 268.4 1526.5 291.6 1528.7 350.9 1536.6 392.1 1539.3 417.9 1539.1 433.2 1536.9 495.2 1523.5 570.1 1518.8 583.4 1517.0 588.4 1527.0Z"/>
<path fill="#86ccad" d="M584.1 1518.5 495.4 1525.0 433.6 1538.4 418.0 1540.6 389.5 1540.7 348.2 1537.9 294.0 1530.6 268.2 1528.0 242.4 1523.2 195.9 1517.5 172.7 1513.4 154.6 1509.2 139.0 1504.1 128.6 1499.4 102.7 1482.7 98.0 1479.3 98.0 1468.2 113.9 1479.7 131.9 1491.2 144.7 1496.3 162.7 1501.7 193.6 1508.1 247.8 1515.5 268.4 1520.1 291.6 1521.9 350.9 1529.5 392.1 1531.9 417.9 1531.7 428.1 1530.1 495.2 1515.2 521.1 1513.9 549.4 1510.8 579.2 1508.7 584.1 1518.5Z"/>
<path fill="#80cab3" d="M580.0 1510.2 549.6 1512.3 521.2 1515.4 495.4 1516.8 428.4 1531.6 418.0 1533.2 392.1 1533.5 348.2 1530.7 291.4 1523.5 268.2 1521.7 244.9 1516.6 190.7 1509.2 157.1 1501.9 139.0 1496.0 131.2 1492.5 107.9 1477.4 98.0 1470.1 98.0 1459.2 113.9 1471.0 134.5 1484.1 157.6 1492.4 191.0 1500.3 219.4 1505.1 247.8 1508.9 271.0 1514.3 291.6 1515.3 320.0 1519.2 358.6 1523.2 397.3 1524.9 420.4 1524.2 459.0 1515.5 495.2 1508.6 521.0 1507.2 549.4 1503.3 575.4 1500.9 580.0 1510.2Z"/>
<path fill="#7bcaba" d="M576.1 1502.4 549.6 1504.9 521.2 1508.8 495.4 1510.1 418.0 1526.0 394.7 1526.4 361.1 1524.9 319.8 1520.7 291.4 1516.9 270.8 1515.8 247.5 1510.5 219.1 1506.7 188.1 1501.2 159.7 1494.6 139.0 1487.9 133.7 1485.5 115.6 1474.0 98.0 1461.1 98.0 1450.5 116.5 1464.0 131.9 1473.6 139.6 1477.8 152.4 1482.5 165.3 1486.4 193.6 1493.3 273.5 1508.2 294.1 1509.4 358.6 1516.2 402.4 1517.7 420.4 1516.8 492.6 1503.5 521.0 1501.4 572.2 1493.6 576.1 1502.4Z"/>
<path fill="#77c9c0" d="M572.9 1495.1 521.2 1502.9 492.8 1505.1 423.2 1517.9 412.8 1518.9 394.7 1519.3 361.1 1517.9 294.0 1510.9 270.8 1509.5 190.7 1494.2 162.3 1487.2 141.6 1480.3 120.8 1468.7 98.0 1452.4 98.0 1441.8 113.9 1453.8 126.8 1462.2 139.6 1469.1 152.4 1474.3 173.0 1480.5 206.5 1488.9 273.5 1502.1 361.2 1509.5 402.4 1510.7 420.4 1509.7 487.5 1499.3 523.6 1495.8 569.3 1487.1 572.9 1495.1Z"/>
<path fill="#73c8c5" d="M569.9 1488.5 523.8 1497.3 490.3 1500.5 425.8 1510.5 410.2 1512.0 392.1 1512.3 363.7 1511.2 270.8 1503.4 226.8 1495.0 195.9 1488.0 164.9 1479.8 144.1 1472.8 133.8 1467.9 120.8 1460.3 98.0 1443.8 98.0 1432.9 111.4 1443.7 124.2 1452.5 137.0 1459.5 152.4 1466.1 179.0 1474.3 222.0 1485.9 247.8 1491.9 271.0 1496.1 363.8 1502.9 405.0 1503.7 423.0 1502.6 484.9 1494.8 521.0 1491.2 546.7 1486.2 566.5 1481.0 569.9 1488.5Z"/>
<path fill="#6fc8ca" d="M567.2 1482.4 542.6 1488.7 521.2 1492.7 410.2 1505.1 366.3 1504.6 268.2 1497.3 239.7 1491.8 203.6 1482.8 164.9 1471.8 144.1 1464.5 131.2 1458.3 120.8 1452.2 98.0 1434.9 98.0 1423.6 111.4 1435.4 121.6 1442.9 134.5 1450.3 147.3 1456.0 173.1 1464.8 232.4 1482.6 250.4 1487.1 268.4 1490.2 366.4 1496.4 402.4 1496.9 428.2 1495.5 515.9 1487.1 541.6 1482.0 563.9 1475.0 567.2 1482.4Z"/>
<path fill="#6ac7d0" d="M564.5 1476.5 539.4 1484.2 516.1 1488.7 412.8 1498.1 368.9 1498.0 265.6 1491.4 242.3 1486.8 206.1 1476.6 159.7 1462.1 139.0 1454.1 128.6 1448.9 118.2 1442.5 98.0 1425.7 98.0 1413.9 113.0 1428.1 121.7 1435.0 131.9 1441.3 142.2 1446.1 165.3 1454.6 237.6 1478.3 250.4 1481.9 263.2 1484.3 276.1 1485.5 371.5 1489.9 397.3 1490.1 425.6 1489.2 513.3 1482.8 540.4 1476.9 561.2 1469.1 564.5 1476.5Z"/>
<path fill="#65c7d8" d="M561.9 1470.5 539.4 1478.8 513.5 1484.3 423.1 1490.9 371.5 1491.5 276.0 1487.1 263.0 1485.8 244.9 1482.1 206.1 1469.8 154.5 1452.5 133.8 1444.0 118.2 1434.4 98.0 1416.0 98.0 1403.8 121.7 1426.9 129.4 1432.3 137.0 1436.3 242.7 1474.4 253.0 1477.3 263.2 1479.1 276.1 1480.2 379.2 1483.3 446.3 1482.1 487.5 1480.3 510.7 1478.4 526.1 1475.3 545.7 1469.2 558.5 1462.9 561.9 1470.5Z"/>
<path fill="#62c6de" d="M544.0 1463.1 555.4 1456.2 559.1 1464.4 549.8 1469.2 526.5 1476.8 513.5 1479.5 500.4 1481.0 454.1 1483.4 379.2 1484.9 276.0 1481.7 263.0 1480.6 252.6 1478.8 242.1 1475.8 151.9 1443.8 131.2 1435.1 119.0 1426.6 98.0 1406.0 98.0 1393.7 124.3 1420.3 129.4 1424.6 134.5 1427.7 247.9 1470.7 263.2 1473.9 276.0 1474.9 371.5 1476.4 490.1 1475.2 510.7 1473.3 527.6 1469.2 544.0 1463.1Z"/>
<path fill="#64c4e1" d="M556.1 1457.6 544.7 1464.5 528.1 1470.7 510.9 1474.9 490.2 1476.7 368.9 1477.9 273.4 1476.4 257.8 1474.6 244.8 1471.2 141.6 1432.3 131.1 1427.6 123.3 1421.5 98.0 1395.9 98.0 1383.9 134.8 1420.2 209.2 1450.2 250.5 1466.2 255.5 1467.5 273.5 1469.7 356.0 1469.7 405.0 1468.1 459.2 1469.7 490.1 1469.7 510.6 1467.7 528.6 1462.2 543.9 1454.7 551.1 1448.2 556.1 1457.6Z"/>
<path fill="#69c1e2" d="M552.0 1449.7 542.1 1457.5 529.1 1463.7 511.0 1469.2 490.2 1471.2 459.2 1471.3 405.0 1469.6 356.0 1471.3 273.4 1471.3 255.2 1469.0 250.0 1467.6 208.7 1451.6 133.7 1421.4 98.0 1386.0 98.0 1375.5 134.6 1410.1 141.9 1415.1 211.8 1445.2 250.5 1460.4 260.7 1462.9 276.0 1464.6 317.3 1464.5 353.4 1463.3 407.6 1459.8 467.0 1462.8 487.6 1463.0 500.4 1462.0 514.6 1458.9 523.4 1455.3 530.9 1451.2 539.1 1443.7 541.5 1438.7 542.5 1432.8 552.0 1449.7Z"/>
<path fill="#71bee0" d="M543.0 1439.2 538.2 1447.2 527.4 1455.1 511.0 1461.6 495.4 1464.0 464.3 1464.3 423.0 1461.6 407.6 1461.4 353.5 1464.9 322.5 1465.9 276.0 1466.1 263.0 1464.9 250.0 1461.9 211.2 1446.6 138.9 1415.2 133.6 1411.2 98.0 1377.5 98.0 1367.7 112.0 1379.0 137.2 1402.3 148.4 1409.9 214.4 1440.4 250.5 1454.7 263.3 1458.0 283.8 1459.6 327.6 1458.8 348.2 1457.3 392.0 1451.7 407.6 1450.7 425.7 1451.0 474.7 1454.5 490.1 1454.1 500.3 1452.6 507.9 1450.3 516.0 1446.1 521.4 1441.1 524.2 1436.1 525.5 1428.6 523.8 1408.0 524.4 1397.6 543.8 1435.2 543.0 1439.2Z"/>
<path fill="#77bade" d="M525.6 1400.0 527.1 1428.7 526.5 1434.0 524.5 1439.3 520.2 1444.7 516.4 1447.7 508.5 1451.8 500.6 1454.1 490.2 1455.7 474.7 1456.0 425.6 1452.6 407.6 1452.2 392.2 1453.3 353.5 1458.3 332.8 1460.1 299.2 1461.2 270.8 1460.6 252.6 1457.1 216.4 1442.9 146.6 1410.7 136.2 1403.4 111.0 1380.2 98.0 1369.6 98.0 1359.9 116.0 1373.9 142.3 1396.8 158.7 1407.3 191.2 1423.9 219.6 1436.9 253.0 1449.9 270.9 1453.7 299.2 1454.6 332.7 1453.0 353.3 1450.0 389.4 1442.3 407.6 1440.2 425.7 1440.1 467.0 1443.0 477.2 1442.8 487.4 1441.5 495.0 1439.1 500.0 1436.1 502.9 1433.3 505.9 1428.3 508.0 1420.8 510.7 1397.5 515.2 1382.7 525.6 1400.0Z"/>
<path fill="#7cb6dc" d="M516.2 1384.3 512.2 1397.8 509.5 1421.0 507.3 1428.9 504.1 1434.3 501.4 1437.0 497.4 1439.6 490.4 1442.4 479.9 1444.2 469.5 1444.6 425.6 1441.7 407.6 1441.7 389.7 1443.9 351.0 1452.0 332.9 1454.5 301.8 1456.1 273.4 1455.5 263.0 1454.1 252.6 1451.4 219.0 1438.3 188.3 1424.2 153.3 1406.1 141.4 1398.0 115.0 1375.1 98.0 1361.8 98.0 1351.9 120.3 1368.7 151.6 1394.5 181.6 1412.5 211.8 1427.9 242.8 1440.6 260.7 1446.5 276.1 1448.9 304.4 1449.3 330.1 1447.7 348.1 1444.3 384.2 1432.6 402.3 1428.4 420.5 1426.7 456.6 1427.0 470.1 1425.3 479.4 1421.4 483.7 1417.8 486.9 1413.5 498.8 1384.5 506.7 1369.7 516.2 1384.3Z"/>
<path fill="#7eb1d9" d="M507.6 1371.1 500.2 1385.1 488.2 1414.3 482.0 1421.5 477.6 1424.3 472.3 1426.3 459.2 1428.4 420.5 1428.3 402.6 1429.9 384.6 1434.1 348.5 1445.8 330.3 1449.3 304.4 1450.9 276.0 1450.5 265.6 1449.1 255.2 1446.6 221.5 1433.8 195.5 1421.6 162.7 1403.5 146.5 1392.6 119.3 1369.9 98.0 1353.9 98.0 1343.5 128.5 1366.1 157.8 1389.9 176.3 1402.2 196.4 1414.1 217.0 1424.6 247.9 1437.0 263.3 1441.6 278.7 1443.8 312.1 1443.8 335.2 1441.1 351.5 1435.7 381.5 1420.9 397.1 1415.0 412.6 1411.3 443.6 1407.1 456.3 1403.5 463.9 1399.4 471.5 1392.7 498.4 1357.5 507.6 1371.1Z"/>
<path fill="#7eacd5" d="M499.3 1358.9 472.7 1393.8 464.8 1400.7 456.9 1404.9 443.9 1408.6 412.9 1412.9 397.5 1416.5 382.1 1422.4 352.1 1437.1 335.5 1442.6 312.2 1445.4 278.5 1445.4 268.1 1444.1 257.8 1441.8 231.9 1432.5 207.2 1421.6 179.7 1406.1 156.0 1390.6 125.9 1366.1 98.0 1345.5 98.0 1333.8 107.9 1342.9 132.0 1359.1 165.7 1386.7 187.9 1402.2 204.9 1412.5 222.1 1421.1 250.5 1432.2 265.9 1436.5 281.2 1438.7 317.2 1438.0 330.0 1436.2 340.2 1432.9 349.4 1428.0 376.2 1409.1 389.2 1401.8 404.8 1395.4 438.3 1385.5 451.1 1379.8 466.4 1368.7 490.3 1346.1 499.3 1358.9Z"/>
<path fill="#7ea6d2" d="M337.5 1426.5 345.7 1420.3 365.8 1401.5 381.4 1389.9 399.5 1380.2 433.1 1367.6 445.9 1361.6 458.7 1353.4 482.6 1335.3 491.2 1347.4 467.4 1369.9 451.8 1381.1 438.8 1387.0 405.3 1396.8 389.9 1403.2 374.5 1412.1 350.2 1429.3 340.8 1434.3 332.8 1437.1 320.0 1439.3 304.4 1440.2 281.1 1440.2 260.3 1436.8 239.6 1429.9 213.8 1419.0 191.1 1406.1 164.8 1388.0 131.1 1360.4 110.5 1346.7 102.6 1340.5 98.0 1336.1 98.0 1321.8 111.4 1336.4 116.5 1340.0 129.4 1346.7 134.6 1350.2 164.6 1376.4 188.0 1394.5 203.0 1404.8 222.1 1415.3 255.6 1428.1 278.7 1433.0 314.6 1432.3 330.0 1429.9 337.5 1426.5Z"/>
<path fill="#7ea0ce" d="M483.5 1336.6 459.7 1354.7 446.7 1362.9 433.7 1369.0 400.2 1381.6 382.2 1391.2 364.2 1404.8 343.6 1424.1 335.7 1429.4 327.8 1432.0 312.2 1434.1 278.5 1434.5 257.7 1430.4 237.0 1423.1 216.3 1414.3 194.1 1400.9 164.6 1378.5 133.7 1351.5 128.6 1348.0 115.7 1341.3 107.8 1335.2 98.0 1324.3 98.0 1306.9 117.1 1330.0 121.5 1332.8 131.8 1334.5 134.6 1335.9 170.3 1371.3 201.6 1396.8 219.6 1408.1 240.2 1416.6 260.7 1423.7 278.7 1427.2 309.5 1426.5 329.8 1422.7 338.3 1415.2 352.9 1398.8 371.0 1382.6 394.3 1367.8 440.8 1347.7 475.5 1325.0 483.5 1336.6Z"/>
<path fill="#7e9dca" d="M327.2 1413.5 333.6 1407.5 347.7 1391.5 363.2 1376.8 373.6 1368.7 389.1 1358.5 435.6 1335.7 468.6 1315.1 476.3 1326.3 441.5 1349.0 395.1 1369.1 374.5 1381.9 354.0 1399.9 339.5 1416.3 330.6 1424.1 309.6 1428.1 278.5 1428.8 257.7 1424.5 224.1 1411.8 217.5 1408.7 197.5 1395.7 167.1 1370.5 133.7 1337.2 131.3 1336.0 121.0 1334.2 115.5 1330.6 98.0 1309.4 98.0 1288.3 107.7 1301.7 119.2 1314.0 124.2 1317.9 137.1 1323.8 142.1 1327.4 159.7 1348.1 176.6 1366.2 202.7 1389.3 222.2 1402.5 240.2 1410.4 255.6 1415.9 263.3 1418.1 278.7 1420.8 288.9 1420.9 309.4 1419.4 319.6 1416.9 327.2 1413.5Z"/>
<path fill="#7e99c7" d="M469.5 1316.4 436.4 1337.1 392.5 1358.4 374.5 1370.0 366.8 1375.8 354.0 1387.6 333.3 1410.0 325.4 1416.4 317.5 1419.2 307.1 1421.3 278.5 1422.4 257.7 1418.2 232.2 1408.7 218.9 1402.3 200.7 1389.7 172.3 1364.0 141.3 1328.8 136.3 1325.2 126.0 1320.7 120.7 1317.4 107.7 1304.2 98.0 1291.1 98.0 1270.1 108.9 1285.0 116.6 1293.8 126.9 1303.3 148.3 1319.7 180.7 1358.5 207.5 1384.2 222.2 1394.8 236.4 1402.1 257.1 1409.8 273.5 1413.5 283.8 1414.3 296.6 1413.5 306.8 1412.0 317.0 1408.6 327.1 1401.6 346.1 1381.7 360.7 1368.0 373.6 1357.8 386.6 1349.2 433.0 1324.1 462.1 1305.7 469.5 1316.4Z"/>
<path fill="#7e95c5" d="M463.0 1307.0 436.4 1323.9 392.5 1347.5 374.5 1359.1 357.9 1372.5 328.1 1402.7 320.3 1408.6 312.4 1412.1 301.9 1414.4 286.4 1415.8 273.3 1415.0 252.6 1410.0 230.1 1401.0 216.2 1392.7 200.6 1380.2 177.2 1356.9 149.0 1322.7 141.4 1315.8 123.3 1302.4 107.7 1286.0 98.0 1272.8 98.0 1254.2 106.3 1265.7 116.6 1277.7 126.9 1287.9 155.3 1313.4 187.3 1353.3 199.2 1366.2 212.0 1378.4 224.8 1388.3 237.7 1395.5 255.6 1402.6 271.0 1406.2 281.2 1407.1 291.4 1406.7 302.6 1404.7 311.8 1401.3 318.8 1397.0 324.5 1392.4 347.7 1369.1 360.7 1357.5 373.6 1347.5 386.5 1338.8 430.4 1313.3 456.1 1296.5 463.0 1307.0Z"/>
<path fill="#7e92c3" d="M456.9 1297.9 429.3 1315.8 389.9 1338.5 373.8 1349.3 356.5 1363.1 325.6 1393.5 315.1 1401.3 304.6 1405.7 294.2 1407.9 281.2 1408.6 268.1 1407.3 250.0 1402.3 231.8 1394.2 218.1 1385.4 203.3 1372.4 183.9 1351.7 154.2 1314.5 120.7 1284.1 105.1 1266.6 98.0 1256.9 98.0 1239.7 107.0 1252.7 116.6 1264.1 160.5 1305.9 193.9 1348.2 215.5 1371.3 228.0 1381.6 240.3 1389.0 253.1 1394.5 268.4 1398.5 278.6 1399.6 288.8 1399.1 299.0 1397.0 309.2 1392.9 321.3 1384.2 350.3 1356.3 371.0 1339.3 389.1 1326.8 433.0 1299.5 450.6 1287.2 456.9 1297.9Z"/>
<path fill="#7e90c1" d="M451.4 1288.6 428.7 1304.1 387.4 1329.8 371.9 1340.5 353.9 1355.1 323.0 1384.8 312.5 1392.7 302.1 1397.7 291.6 1400.3 281.2 1401.1 268.2 1400.0 252.5 1395.9 236.9 1389.0 223.6 1380.2 209.1 1367.3 190.3 1346.2 157.9 1305.3 120.7 1270.4 107.7 1256.2 98.0 1242.6 98.0 1226.2 106.8 1239.9 116.6 1252.5 163.2 1296.5 196.6 1338.4 219.8 1364.4 230.6 1373.8 242.1 1381.5 253.1 1386.7 265.9 1390.4 276.1 1391.7 286.2 1391.2 296.4 1388.9 306.6 1384.4 319.4 1375.1 347.7 1348.4 368.4 1331.2 445.1 1277.9 451.4 1288.6Z"/>
<path fill="#7f8ec0" d="M445.9 1279.3 369.4 1332.4 348.8 1349.5 320.4 1376.3 310.0 1384.2 299.5 1389.5 289.1 1392.3 278.6 1393.3 265.5 1391.9 252.4 1388.1 237.0 1380.3 223.9 1370.3 212.9 1359.5 192.9 1336.3 162.1 1297.6 141.3 1277.5 120.7 1258.9 111.3 1248.5 98.0 1229.2 98.0 1213.4 109.0 1231.1 121.6 1247.5 126.9 1252.9 142.4 1265.7 168.9 1291.4 194.1 1322.8 225.0 1357.9 235.2 1367.1 245.5 1374.3 255.7 1379.3 265.9 1382.3 276.0 1383.4 286.2 1382.5 296.4 1379.6 304.0 1375.9 316.8 1366.7 345.4 1340.3 368.4 1321.1 439.3 1268.5 445.9 1279.3Z"/>
<path fill="#7f8cbf" d="M440.1 1269.8 366.8 1324.3 346.2 1341.7 317.8 1367.8 307.4 1375.7 296.9 1381.0 286.5 1384.1 276.0 1385.0 265.5 1383.8 255.1 1380.8 247.3 1377.1 236.9 1370.3 227.1 1362.1 217.1 1351.8 195.5 1326.9 167.8 1292.4 141.3 1266.8 120.7 1248.8 108.4 1233.0 98.0 1216.6 98.0 1201.6 98.7 1201.6 101.9 1209.0 109.0 1220.2 127.0 1244.0 132.0 1248.9 145.0 1258.6 173.7 1286.2 196.6 1314.5 229.8 1350.7 237.8 1358.1 248.4 1366.1 258.0 1371.2 265.9 1373.6 276.0 1374.6 283.9 1373.7 296.4 1369.7 306.5 1364.2 365.8 1312.8 422.1 1268.1 432.7 1258.9 440.1 1269.8Z"/>
<path fill="#7f8bbe" d="M433.6 1260.2 366.8 1314.0 307.4 1365.5 297.0 1371.1 286.5 1374.7 276.0 1376.2 268.2 1375.6 257.7 1372.7 249.8 1368.8 239.4 1361.4 228.7 1351.8 195.5 1315.5 172.6 1287.3 143.9 1259.8 131.1 1250.1 124.3 1243.4 103.7 1214.9 98.1 1204.5 98.0 1201.6 103.6 1201.6 117.2 1221.8 132.1 1241.0 147.5 1252.7 163.0 1268.7 178.5 1282.0 199.2 1307.0 237.8 1346.5 258.3 1361.3 271.0 1364.7 276.0 1365.1 281.0 1364.2 298.9 1358.4 303.9 1355.3 331.3 1332.6 389.9 1281.0 418.7 1255.2 425.3 1248.0 433.6 1260.2Z"/>
<path fill="#8189bd" d="M144.0 1251.9 133.6 1244.7 129.9 1240.8 115.4 1221.9 105.1 1207.4 101.9 1201.6 109.7 1201.6 124.2 1221.8 137.2 1238.1 150.1 1248.2 165.6 1263.8 182.7 1278.4 204.3 1302.5 240.4 1336.7 248.1 1342.8 260.9 1350.4 268.4 1352.9 276.0 1353.5 290.1 1350.5 298.8 1346.9 329.7 1323.8 354.1 1301.7 382.8 1273.3 406.0 1247.5 416.1 1233.6 426.2 1249.3 419.8 1256.3 390.9 1282.2 332.3 1333.8 304.9 1356.5 296.9 1360.8 276.1 1366.7 265.5 1365.2 257.6 1362.7 238.7 1349.2 198.0 1308.0 179.0 1284.7 162.0 1269.8 144.0 1251.9Z"/>
<path fill="#8187bc" d="M417.0 1235.0 407.2 1248.5 381.4 1277.0 349.7 1307.9 326.3 1328.6 304.9 1344.7 297.0 1349.6 281.3 1354.3 270.8 1354.9 262.8 1353.0 255.0 1348.9 244.6 1342.2 234.2 1333.1 203.2 1303.6 181.7 1279.6 164.5 1265.0 149.1 1249.4 136.2 1239.2 123.0 1222.7 107.9 1201.6 117.0 1201.6 131.1 1221.8 141.4 1234.6 170.8 1261.8 187.4 1275.9 209.5 1298.2 235.2 1321.4 253.2 1334.8 263.4 1339.7 271.0 1341.6 283.6 1341.2 291.2 1339.1 298.9 1335.6 319.4 1322.1 340.1 1304.2 362.2 1281.1 378.4 1260.5 393.0 1237.4 403.9 1214.0 417.0 1235.0Z"/>
<path fill="#8186bc" d="M404.9 1215.5 392.9 1240.7 377.9 1264.0 361.1 1284.7 341.2 1305.4 320.3 1323.3 302.2 1335.5 289.1 1341.4 281.3 1343.1 273.4 1343.4 262.9 1341.2 249.8 1334.5 239.4 1326.9 221.3 1311.2 208.4 1299.3 186.4 1277.0 169.7 1263.0 140.3 1235.7 129.8 1222.7 115.2 1201.6 124.6 1201.6 137.7 1221.8 148.5 1234.6 170.8 1255.5 192.0 1273.3 232.7 1309.6 245.5 1319.4 255.7 1325.6 265.9 1329.5 273.5 1330.9 281.1 1330.7 288.7 1329.2 296.3 1326.3 306.6 1320.9 316.8 1314.0 327.1 1305.6 346.1 1286.2 359.6 1268.3 370.7 1247.7 377.2 1229.8 384.3 1201.6 396.0 1201.6 404.9 1215.5Z"/>
<path fill="#8184bb" d="M351.4 1260.6 356.1 1247.8 358.9 1235.0 361.1 1201.6 385.9 1201.6 378.0 1232.8 369.7 1253.5 357.3 1274.3 340.4 1295.0 320.4 1313.2 310.0 1320.6 299.6 1326.5 289.1 1330.7 281.3 1332.3 273.4 1332.4 265.5 1331.0 252.4 1325.6 236.8 1315.0 218.7 1299.8 191.0 1274.4 169.7 1256.7 142.5 1230.5 132.9 1217.5 122.7 1201.6 132.2 1201.6 140.9 1216.7 150.4 1229.5 163.0 1242.2 178.5 1256.0 240.3 1306.4 253.2 1314.4 265.9 1319.3 276.0 1320.7 288.7 1318.9 298.9 1315.0 311.7 1307.5 324.5 1297.3 335.0 1286.2 344.4 1273.4 351.4 1260.6Z"/>
<path fill="#8181b9" d="M311.7 1297.2 321.9 1288.2 331.6 1276.0 337.2 1265.8 341.4 1253.0 342.8 1242.8 342.3 1230.1 339.8 1217.9 334.3 1201.6 362.6 1201.6 361.4 1227.5 358.3 1245.7 351.5 1263.9 342.3 1279.4 328.2 1295.9 320.4 1302.9 310.0 1310.6 299.6 1316.4 291.7 1319.6 283.9 1321.6 276.0 1322.2 268.1 1321.4 260.3 1319.2 244.6 1311.2 231.7 1301.8 177.5 1257.2 162.0 1243.3 149.2 1230.5 139.6 1217.5 130.4 1201.6 139.9 1201.6 146.2 1214.1 152.7 1224.4 159.1 1232.0 168.2 1240.9 183.6 1254.0 235.5 1293.9 250.6 1303.9 258.2 1307.4 265.9 1309.7 273.5 1310.7 281.1 1310.5 288.7 1308.9 296.3 1306.2 311.7 1297.2Z"/>
<path fill="#807fb8" d="M336.0 1201.6 343.0 1224.7 344.5 1240.3 342.3 1256.0 336.0 1271.6 331.2 1279.4 324.9 1287.3 317.8 1294.2 310.0 1300.3 301.3 1305.5 291.7 1309.6 283.9 1311.6 276.0 1312.4 268.2 1311.7 260.3 1309.8 244.7 1302.2 180.1 1253.2 164.5 1239.6 153.5 1227.9 146.3 1217.5 138.2 1201.6 148.0 1201.6 154.5 1216.7 163.1 1229.2 175.9 1241.3 193.9 1255.4 223.7 1275.8 240.4 1288.7 248.0 1293.7 260.8 1299.3 273.4 1301.2 283.6 1300.2 293.8 1297.0 304.0 1291.7 311.6 1285.9 319.3 1277.5 324.7 1268.4 327.4 1260.7 328.8 1250.6 328.1 1243.0 325.9 1235.4 321.8 1228.1 316.8 1222.3 306.6 1215.3 299.0 1212.1 283.5 1207.4 278.3 1204.8 274.3 1201.6 336.0 1201.6Z"/>
<path fill="#7f7eb7" d="M276.6 1201.6 284.3 1206.0 304.7 1212.7 312.6 1217.0 317.8 1221.2 323.1 1227.2 327.3 1234.8 329.6 1242.7 330.2 1253.3 328.2 1263.8 324.8 1271.6 319.7 1279.5 312.3 1287.3 304.8 1293.0 294.4 1298.4 283.9 1301.7 273.4 1302.8 260.3 1300.7 252.5 1297.8 244.7 1293.5 224.0 1277.9 200.8 1262.2 182.4 1248.6 167.3 1235.7 159.3 1227.0 151.8 1214.8 146.4 1201.6 157.1 1201.6 160.6 1214.2 166.1 1224.4 175.9 1234.1 196.3 1250.0 211.5 1260.3 230.0 1271.4 248.0 1285.2 260.7 1290.5 270.9 1291.8 278.5 1291.0 287.7 1288.6 296.3 1284.9 302.5 1281.0 308.0 1275.9 311.8 1270.9 314.2 1265.8 315.9 1258.3 315.7 1253.3 314.0 1247.2 311.5 1242.9 306.5 1237.8 296.4 1232.6 270.7 1226.8 260.9 1222.9 251.0 1215.0 246.3 1209.8 240.7 1201.6 276.6 1201.6Z"/>
<path fill="#7d78b4" d="M242.5 1201.6 252.1 1214.0 261.7 1221.6 271.1 1225.3 289.1 1229.0 299.5 1232.1 307.4 1236.5 312.8 1241.9 315.9 1247.8 317.3 1253.1 317.4 1258.4 316.5 1263.7 314.6 1269.0 311.3 1274.3 303.4 1282.2 297.0 1286.2 289.2 1289.7 281.4 1292.0 273.5 1293.2 265.6 1293.0 260.3 1292.0 247.3 1286.5 229.1 1272.7 210.6 1261.6 195.6 1251.4 172.3 1233.1 167.0 1227.9 161.6 1220.0 158.2 1212.2 155.5 1201.6 170.1 1201.6 169.4 1209.3 170.3 1216.9 172.8 1221.8 175.3 1224.3 201.6 1244.8 216.6 1255.1 234.5 1265.5 246.6 1275.8 250.6 1278.3 263.3 1282.2 268.2 1282.5 283.5 1278.3 296.2 1271.8 301.2 1266.2 302.8 1260.9 301.1 1253.8 296.2 1248.7 278.3 1239.5 260.3 1233.9 247.7 1228.1 219.8 1212.6 212.5 1207.3 206.9 1201.6 242.5 1201.6Z"/>
<path fill="#7b71b2" d="M209.0 1201.6 220.6 1211.3 248.4 1226.7 260.8 1232.5 278.9 1238.1 297.1 1247.4 302.3 1252.8 304.3 1258.3 303.9 1263.7 301.1 1269.1 297.1 1273.0 291.9 1276.1 281.4 1280.7 273.6 1283.0 265.7 1284.1 252.5 1280.7 245.7 1277.0 233.6 1266.7 215.7 1256.4 193.6 1240.9 174.2 1225.4 171.6 1222.7 168.8 1217.3 167.9 1209.3 168.6 1201.6 209.0 1201.6ZM258.1 1272.3 263.1 1273.0 268.1 1272.5 275.6 1269.3 280.4 1265.6 282.3 1263.1 283.2 1258.5 281.0 1253.6 276.7 1248.6 270.5 1244.1 263.6 1241.0 242.3 1235.7 234.7 1234.7 227.1 1235.0 223.5 1235.9 220.3 1238.1 219.9 1240.2 221.8 1245.0 228.7 1252.6 250.6 1269.7 258.1 1272.3Z"/>
<path fill="#786caf" d="M247.3 1269.3 230.7 1256.4 222.5 1248.5 219.1 1243.2 218.3 1240.4 218.9 1237.3 221.4 1235.2 226.9 1233.5 237.4 1233.4 247.8 1235.2 263.4 1239.3 274.7 1244.8 280.3 1250.1 283.9 1255.5 284.7 1261.1 283.7 1263.9 278.4 1269.3 271.1 1273.1 265.8 1274.5 260.4 1274.3 252.5 1272.4 247.3 1269.3Z"/></g>
<path d="M201.2 1717.6V1201.6M330.2 1717.6V1201.6M459.2 1717.6V1201.6M588.2 1717.6V1201.6M717.2 1717.6V1201.6M72.2 1666.0H795.4M72.2 1614.4H795.4M72.2 1562.8H795.4M72.2 1511.2H795.4M72.2 1459.6H795.4M72.2 1408.0H795.4M72.2 1356.4H795.4M72.2 1304.8H795.4M72.2 1253.2H795.4M72.2 1201.6H795.4" stroke="#000" stroke-opacity="0.065" stroke-width="1" fill="none"/>
<rect x="96" y="1667" width="693" height="50.6" fill="url(#hatch)"/>
<rect x="382" y="1679.4" width="90.6" height="25.3" fill="#fff"/>
<text x="427" y="1696.7" text-anchor="middle" style="font-family:'Liberation Sans',Arial,sans-serif;font-size:21px">Dripping</text>
<mask id="md" maskUnits="userSpaceOnUse" x="0" y="0" width="1898" height="1779"><rect x="0" y="0" width="1898" height="1779" fill="#fff"/><rect x="-22.8" y="-10" width="45.5" height="20" fill="#000" transform="translate(198,1240) rotate(40)"/><rect x="-22.8" y="-10" width="45.5" height="20" fill="#000" transform="translate(163,1268) rotate(45)"/><rect x="-22.8" y="-10" width="45.5" height="20" fill="#000" transform="translate(418.5,1252) rotate(-50)"/><rect x="-22.8" y="-10" width="45.5" height="20" fill="#000" transform="translate(220,1408) rotate(25)"/><rect x="-22.8" y="-10" width="45.5" height="20" fill="#000" transform="translate(514,1289) rotate(-50)"/><rect x="-22.8" y="-10" width="45.5" height="20" fill="#000" transform="translate(354,1470) rotate(0)"/><rect x="-22.8" y="-10" width="45.5" height="20" fill="#000" transform="translate(607,1334) rotate(-55)"/><rect x="-22.8" y="-10" width="45.5" height="20" fill="#000" transform="translate(270,1515) rotate(8)"/><rect x="-22.8" y="-10" width="45.5" height="20" fill="#000" transform="translate(617,1478) rotate(-55)"/><rect x="-22.8" y="-10" width="45.5" height="20" fill="#000" transform="translate(252,1569) rotate(3)"/><rect x="-22.8" y="-10" width="45.5" height="20" fill="#000" transform="translate(604,1570) rotate(-38)"/><rect x="-16.5" y="-10" width="33.0" height="20" fill="#000" transform="translate(243,1625) rotate(0)"/><rect x="-16.5" y="-10" width="33.0" height="20" fill="#000" transform="translate(601,1631) rotate(-12)"/></mask>
<g mask="url(#md)" fill="none" stroke="#000" stroke-width="4.2" stroke-linejoin="round" stroke-linecap="round"><path d="M174.9 1219.1C175.7 1218.5 175.9 1215.5 180.0 1215.0C184.2 1214.5 191.6 1214.5 199.9 1216.0C208.3 1217.6 220.1 1220.7 230.1 1224.0C240.1 1227.4 252.4 1233.1 260.0 1235.9C267.7 1238.8 271.0 1238.7 276.0 1241.1C281.0 1243.4 286.3 1247.0 290.0 1250.1C293.6 1253.2 297.3 1256.9 297.9 1259.9C298.6 1262.9 297.1 1265.2 294.1 1267.9C291.1 1270.6 284.6 1273.9 279.9 1275.9C275.2 1277.9 270.9 1280.0 266.0 1280.0C261.0 1280.0 254.9 1278.6 250.0 1275.9C245.0 1273.2 241.4 1267.8 236.0 1264.0C230.7 1260.3 224.4 1257.6 218.0 1253.2C211.5 1248.8 203.7 1242.9 197.3 1237.7C191.0 1232.5 183.8 1225.1 180.0 1222.0C176.3 1218.9 175.7 1219.6 174.9 1219.1"/><path d="M104.2 1202.1C106.8 1205.8 114.9 1217.4 119.9 1224.0C124.9 1230.7 129.4 1237.5 134.1 1242.1C138.8 1246.7 143.2 1247.6 148.1 1251.9C152.9 1256.2 157.9 1262.9 163.3 1267.9C168.6 1272.9 173.9 1275.7 180.0 1282.1C186.1 1288.5 193.2 1298.8 199.9 1306.1C206.6 1313.4 213.4 1319.3 220.0 1326.0C226.7 1332.6 233.2 1340.4 239.9 1346.1C246.6 1351.8 254.0 1357.2 260.0 1360.0C266.0 1362.8 269.4 1363.8 276.0 1363.1C282.7 1362.4 292.7 1359.8 300.0 1355.9C307.3 1352.0 314.9 1343.9 319.9 1339.9C324.9 1335.9 324.9 1336.2 329.9 1331.9C335.0 1327.6 343.4 1320.1 350.1 1314.1C356.7 1308.1 363.3 1302.0 369.9 1296.0C376.6 1290.0 384.7 1283.0 390.1 1278.0C395.4 1273.0 397.3 1270.4 401.9 1266.1C406.6 1261.8 412.9 1257.2 417.9 1251.9C422.9 1246.6 428.2 1238.8 431.9 1234.1C435.5 1229.5 436.5 1226.9 439.6 1224.0C442.6 1221.2 448.4 1218.2 450.2 1217.1"/><path d="M98.0 1305.1C100.0 1307.6 106.5 1315.7 110.1 1320.0C113.8 1324.4 115.9 1329.0 119.9 1331.1C123.9 1333.3 129.1 1329.7 134.1 1332.9C139.2 1336.1 144.1 1344.0 150.1 1350.2C156.1 1356.4 161.7 1362.6 170.0 1370.1C178.3 1377.6 191.6 1388.8 199.9 1395.1C208.3 1401.4 213.0 1404.3 220.0 1408.0C227.0 1411.7 235.3 1414.5 242.0 1417.0C248.6 1419.6 253.7 1421.5 260.0 1423.2C266.3 1424.9 271.5 1426.6 279.9 1427.1C288.2 1427.6 301.7 1426.9 310.1 1426.1C318.4 1425.2 325.0 1424.5 329.9 1422.2C334.9 1419.9 336.3 1416.1 340.0 1412.1C343.7 1408.1 346.5 1403.5 351.9 1398.2C357.2 1392.9 365.0 1385.5 372.0 1380.1C379.0 1374.8 385.9 1370.4 393.9 1366.2C401.9 1362.0 412.3 1358.5 420.0 1355.1C427.7 1351.8 433.4 1349.7 440.1 1346.1C446.8 1342.4 453.3 1337.5 460.0 1333.2C466.6 1328.8 473.8 1324.9 480.1 1320.0C486.4 1315.2 492.4 1309.1 497.9 1304.0C503.4 1298.9 508.2 1294.7 513.4 1289.3C518.6 1283.9 524.7 1277.0 529.1 1271.8C533.5 1266.5 536.0 1262.7 540.0 1257.8C543.9 1252.9 550.7 1244.9 552.9 1242.4"/><path d="M98.0 1384.0C100.7 1386.7 108.0 1394.0 114.0 1400.0C120.0 1406.0 126.5 1415.1 134.1 1420.1C141.8 1425.2 149.0 1425.8 159.9 1430.2C170.9 1434.5 191.9 1442.9 199.9 1446.2C208.0 1449.5 203.1 1448.1 208.2 1450.1C213.2 1452.0 222.8 1455.2 230.1 1458.1C237.4 1460.9 245.4 1465.1 252.0 1467.1C258.7 1469.1 262.1 1469.4 270.1 1469.9C278.1 1470.4 290.0 1470.2 300.0 1470.2C310.0 1470.2 321.0 1470.0 329.9 1469.9C338.8 1469.9 345.4 1470.0 353.4 1469.9C361.4 1469.8 370.2 1469.7 377.9 1469.4C385.7 1469.1 392.9 1468.3 399.9 1468.1C406.9 1467.9 410.0 1467.8 420.0 1468.1C430.0 1468.4 448.3 1469.6 460.0 1469.9C471.6 1470.2 481.6 1470.2 489.9 1469.9C498.2 1469.6 503.4 1469.4 510.0 1468.1C516.7 1466.8 524.2 1464.2 529.9 1461.9C535.6 1459.6 540.6 1457.0 544.3 1454.4C548.0 1451.9 549.8 1450.1 552.1 1446.7C554.4 1443.3 557.4 1437.6 558.0 1433.8C558.7 1430.0 557.3 1428.3 556.0 1424.0C554.6 1419.7 551.0 1412.3 550.0 1408.0C549.0 1403.7 548.3 1401.6 550.0 1397.9C551.7 1394.3 555.7 1391.1 560.1 1386.1C564.4 1381.1 570.7 1373.9 576.1 1368.0C581.4 1362.2 586.9 1356.6 592.1 1351.0C597.2 1345.3 602.7 1340.1 607.0 1334.2C611.4 1328.4 613.6 1322.9 618.1 1315.9C622.6 1308.8 628.8 1300.0 634.1 1291.9C639.5 1283.8 647.5 1271.3 650.1 1267.1"/><path d="M98.0 1460.1C100.7 1462.1 107.7 1467.7 114.0 1472.0C120.3 1476.3 128.3 1482.3 135.9 1485.9C143.6 1489.6 150.9 1491.4 159.9 1493.9C169.0 1496.4 180.1 1498.9 190.1 1500.9C200.1 1502.9 210.4 1504.6 220.0 1506.0C229.7 1507.5 239.6 1508.1 247.9 1509.7C256.2 1511.2 262.7 1514.0 270.1 1515.1C277.4 1516.1 283.7 1515.3 292.0 1516.1C300.3 1516.9 308.6 1518.6 319.9 1520.0C331.2 1521.3 347.2 1523.2 359.9 1524.1C372.6 1525.0 386.0 1525.5 396.0 1525.6C406.0 1525.8 409.3 1526.7 420.0 1525.1C430.6 1523.5 447.3 1518.8 460.0 1516.1C472.7 1513.4 486.1 1510.5 496.1 1509.1C506.1 1507.8 511.1 1509.0 520.1 1508.1C529.1 1507.2 540.0 1505.1 550.0 1504.0C560.0 1502.8 572.6 1502.3 579.9 1501.1C587.3 1500.0 590.2 1498.5 593.9 1497.0C597.6 1495.5 598.3 1495.3 602.1 1492.1C605.9 1488.9 611.9 1483.0 616.6 1477.7C621.2 1472.3 626.1 1465.0 630.0 1459.9C633.9 1454.7 636.2 1452.2 640.1 1446.7C643.9 1441.2 650.8 1430.4 653.0 1427.1"/><path d="M98.0 1533.9C101.0 1535.9 109.7 1541.9 116.1 1546.0C122.4 1550.2 130.3 1556.1 135.9 1558.9C141.6 1561.8 145.1 1562.5 150.1 1563.1C155.1 1563.6 159.4 1561.7 166.1 1562.0C172.8 1562.4 183.1 1564.4 190.1 1565.1C197.1 1565.9 201.8 1566.1 208.2 1566.4C214.5 1566.7 220.7 1566.5 228.0 1566.9C235.3 1567.4 243.7 1568.6 252.0 1569.0C260.4 1569.4 270.1 1568.7 278.1 1569.5C286.1 1570.3 291.4 1572.3 300.0 1573.9C308.7 1575.5 320.0 1577.5 329.9 1579.1C339.9 1580.6 348.9 1581.6 359.9 1582.9C370.9 1584.3 386.0 1586.0 396.0 1587.1C406.0 1588.1 409.3 1588.4 420.0 1589.4C430.6 1590.4 448.3 1591.7 460.0 1593.0C471.6 1594.3 479.9 1596.3 489.9 1597.1C499.9 1598.0 510.1 1599.0 520.1 1598.1C530.1 1597.3 541.4 1594.3 550.0 1592.0C558.7 1589.6 566.3 1586.0 571.9 1584.0C577.6 1581.9 578.8 1581.8 584.1 1579.6C589.4 1577.3 597.0 1574.2 603.7 1570.5C610.3 1566.9 615.7 1563.8 624.1 1557.9C632.4 1552.0 649.0 1538.8 654.0 1534.9"/><path d="M99.0 1604.1C101.9 1606.1 109.9 1612.3 116.1 1615.9C122.2 1619.6 130.3 1624.2 135.9 1626.0C141.6 1627.9 142.8 1627.0 150.1 1627.0C157.5 1627.0 171.7 1626.4 180.0 1626.0C188.3 1625.7 192.6 1625.3 199.9 1625.0C207.2 1624.6 216.7 1623.9 223.9 1623.9C231.1 1623.9 236.6 1625.1 243.0 1625.0C249.4 1624.8 254.3 1623.0 262.1 1623.2C269.9 1623.3 278.6 1624.7 290.0 1626.0C301.3 1627.3 316.6 1629.1 329.9 1630.9C343.3 1632.8 356.6 1635.3 369.9 1637.1C383.3 1639.0 398.3 1640.7 409.9 1642.0C421.5 1643.3 431.2 1644.8 439.6 1645.1C447.9 1645.4 450.6 1644.1 460.0 1644.1C469.4 1644.1 486.1 1645.1 496.1 1645.1C506.1 1645.1 511.1 1645.3 520.1 1644.1C529.1 1642.9 539.7 1640.1 550.0 1637.9C560.3 1635.7 573.5 1632.1 582.0 1630.9C590.5 1629.8 594.8 1631.2 601.1 1630.9C607.4 1630.6 614.8 1630.0 619.9 1629.1C625.1 1628.2 626.4 1627.7 632.1 1625.5C637.7 1623.3 650.3 1617.5 654.0 1615.9"/><path d="M97.0 1653.9C97.5 1653.4 98.2 1650.8 100.1 1651.0C101.9 1651.3 104.8 1654.0 108.1 1655.2C111.4 1656.3 114.6 1657.0 119.9 1658.0C125.3 1659.0 136.7 1660.6 140.1 1661.1"/></g>
<g style="font-family:'Liberation Sans',Arial,sans-serif;font-size:21px"><text transform="translate(198,1240) rotate(40)" y="7.5" text-anchor="middle">225</text><text transform="translate(163,1268) rotate(45)" y="7.5" text-anchor="middle">200</text><text transform="translate(418.5,1252) rotate(-50)" y="7.5" text-anchor="middle">200</text><text transform="translate(220,1408) rotate(25)" y="7.5" text-anchor="middle">175</text><text transform="translate(514,1289) rotate(-50)" y="7.5" text-anchor="middle">175</text><text transform="translate(354,1470) rotate(0)" y="7.5" text-anchor="middle">150</text><text transform="translate(607,1334) rotate(-55)" y="7.5" text-anchor="middle">150</text><text transform="translate(270,1515) rotate(8)" y="7.5" text-anchor="middle">125</text><text transform="translate(617,1478) rotate(-55)" y="7.5" text-anchor="middle">125</text><text transform="translate(252,1569) rotate(3)" y="7.5" text-anchor="middle">100</text><text transform="translate(604,1570) rotate(-38)" y="7.5" text-anchor="middle">100</text><text transform="translate(243,1625) rotate(0)" y="7.5" text-anchor="middle">75</text><text transform="translate(601,1631) rotate(-12)" y="7.5" text-anchor="middle">75</text></g>
<g fill="#000"><circle cx="98.0" cy="1201.6" r="3.1"/><circle cx="136.7" cy="1201.6" r="3.1"/><circle cx="201.2" cy="1201.6" r="3.1"/><circle cx="265.7" cy="1201.6" r="3.1"/><circle cx="330.2" cy="1201.6" r="3.1"/><circle cx="394.7" cy="1201.6" r="3.1"/><circle cx="136.7" cy="1266.1" r="3.1"/><circle cx="201.2" cy="1266.1" r="3.1"/><circle cx="265.7" cy="1266.1" r="3.1"/><circle cx="330.2" cy="1266.1" r="3.1"/><circle cx="394.7" cy="1266.1" r="3.1"/><circle cx="98.0" cy="1330.6" r="3.1"/><circle cx="136.7" cy="1330.6" r="3.1"/><circle cx="201.2" cy="1330.6" r="3.1"/><circle cx="265.7" cy="1330.6" r="3.1"/><circle cx="330.2" cy="1330.6" r="3.1"/><circle cx="394.7" cy="1330.6" r="3.1"/><circle cx="98.0" cy="1395.1" r="3.1"/><circle cx="136.7" cy="1395.1" r="3.1"/><circle cx="201.2" cy="1395.1" r="3.1"/><circle cx="265.7" cy="1395.1" r="3.1"/><circle cx="330.2" cy="1395.1" r="3.1"/><circle cx="394.7" cy="1395.1" r="3.1"/><circle cx="98.0" cy="1459.6" r="3.1"/><circle cx="136.7" cy="1459.6" r="3.1"/><circle cx="201.2" cy="1459.6" r="3.1"/><circle cx="265.7" cy="1459.6" r="3.1"/><circle cx="330.2" cy="1459.6" r="3.1"/><circle cx="394.7" cy="1459.6" r="3.1"/><circle cx="98.0" cy="1524.1" r="3.1"/><circle cx="136.7" cy="1524.1" r="3.1"/><circle cx="201.2" cy="1524.1" r="3.1"/><circle cx="265.7" cy="1524.1" r="3.1"/><circle cx="330.2" cy="1524.1" r="3.1"/><circle cx="394.7" cy="1524.1" r="3.1"/><circle cx="98.0" cy="1588.6" r="3.1"/><circle cx="136.7" cy="1588.6" r="3.1"/><circle cx="201.2" cy="1588.6" r="3.1"/><circle cx="265.7" cy="1588.6" r="3.1"/><circle cx="330.2" cy="1588.6" r="3.1"/><circle cx="394.7" cy="1588.6" r="3.1"/><circle cx="459.2" cy="1330.6" r="3.1"/><circle cx="459.2" cy="1395.1" r="3.1"/><circle cx="523.7" cy="1395.1" r="3.1"/><circle cx="459.2" cy="1459.6" r="3.1"/><circle cx="523.7" cy="1459.6" r="3.1"/><circle cx="459.2" cy="1524.1" r="3.1"/><circle cx="523.7" cy="1524.1" r="3.1"/><circle cx="459.2" cy="1588.6" r="3.1"/><circle cx="523.7" cy="1588.6" r="3.1"/><circle cx="588.2" cy="1588.6" r="3.1"/><circle cx="98.0" cy="1653.1" r="3.1"/><circle cx="98.0" cy="1660.8" r="3.1"/><circle cx="136.7" cy="1653.1" r="3.1"/><circle cx="136.7" cy="1660.8" r="3.1"/><circle cx="201.2" cy="1653.1" r="3.1"/><circle cx="201.2" cy="1660.8" r="3.1"/><circle cx="265.7" cy="1653.1" r="3.1"/><circle cx="265.7" cy="1660.8" r="3.1"/><circle cx="330.2" cy="1653.1" r="3.1"/><circle cx="330.2" cy="1660.8" r="3.1"/><circle cx="394.7" cy="1653.1" r="3.1"/><circle cx="394.7" cy="1660.8" r="3.1"/><circle cx="459.2" cy="1653.1" r="3.1"/><circle cx="459.2" cy="1660.8" r="3.1"/><circle cx="523.7" cy="1653.1" r="3.1"/><circle cx="523.7" cy="1660.8" r="3.1"/><circle cx="588.2" cy="1653.1" r="3.1"/><circle cx="588.2" cy="1660.8" r="3.1"/></g>
<g fill="none" stroke="#000" stroke-width="2.4"><circle cx="459.2" cy="1201.6" r="5.6"/><circle cx="523.7" cy="1201.6" r="5.6"/><circle cx="459.2" cy="1266.1" r="5.6"/><circle cx="523.7" cy="1266.1" r="5.6"/><circle cx="523.7" cy="1330.6" r="5.6"/><circle cx="588.2" cy="1459.6" r="5.6"/><circle cx="652.7" cy="1588.6" r="5.6"/></g>
<path d="M583.6 1197.0l9.2 9.2M583.6 1206.2l9.2 -9.2M648.1 1200.9l9.2 9.2M648.1 1210.1l9.2 -9.2M712.6 1197.0l9.2 9.2M712.6 1206.2l9.2 -9.2M777.1 1197.0l9.2 9.2M777.1 1206.2l9.2 -9.2M583.6 1261.5l9.2 9.2M583.6 1270.7l9.2 -9.2M648.1 1261.5l9.2 9.2M648.1 1270.7l9.2 -9.2M583.6 1326.0l9.2 9.2M583.6 1335.2l9.2 -9.2M648.1 1328.6l9.2 9.2M648.1 1337.8l9.2 -9.2M712.6 1333.7l9.2 9.2M712.6 1342.9l9.2 -9.2M777.1 1333.7l9.2 9.2M777.1 1342.9l9.2 -9.2M583.6 1390.5l9.2 9.2M583.6 1399.7l9.2 -9.2M648.1 1385.3l9.2 9.2M648.1 1394.5l9.2 -9.2M648.1 1455.0l9.2 9.2M648.1 1464.2l9.2 -9.2M712.6 1455.0l9.2 9.2M712.6 1464.2l9.2 -9.2M777.1 1455.0l9.2 9.2M777.1 1464.2l9.2 -9.2M648.1 1519.5l9.2 9.2M648.1 1528.7l9.2 -9.2M712.6 1581.4l9.2 9.2M712.6 1590.6l9.2 -9.2M777.1 1584.0l9.2 9.2M777.1 1593.2l9.2 -9.2M712.6 1648.5l9.2 9.2M712.6 1657.7l9.2 -9.2" stroke="#000" stroke-width="2.2" fill="none"/>
<circle cx="98" cy="1265" r="15.5" fill="#fff" stroke="#000" stroke-width="2"/><text x="98" y="1272.5" text-anchor="middle" style="font-family:'Liberation Sans',Arial,sans-serif;font-size:21px">1</text>
<circle cx="590" cy="1525.6" r="15.5" fill="#fff" stroke="#000" stroke-width="2"/><text x="590" y="1533.1" text-anchor="middle" style="font-family:'Liberation Sans',Arial,sans-serif;font-size:21px">2</text>
<circle cx="650" cy="1653" r="15.5" fill="#fff" stroke="#000" stroke-width="2"/><text x="650" y="1660.5" text-anchor="middle" style="font-family:'Liberation Sans',Arial,sans-serif;font-size:21px">4</text>
<circle cx="781" cy="1656" r="15.5" fill="#fff" stroke="#000" stroke-width="2"/><text x="781" y="1663.5" text-anchor="middle" style="font-family:'Liberation Sans',Arial,sans-serif;font-size:21px">3</text>
<path d="M72.7 1201.0V1718.5H795.4" fill="none" stroke="#000" stroke-width="2.4" stroke-linecap="square"/><path d="M72.2 1717.6h8M72.2 1666.0h8M72.2 1614.4h8M72.2 1562.8h8M72.2 1511.2h8M72.2 1459.6h8M72.2 1408.0h8M72.2 1356.4h8M72.2 1304.8h8M72.2 1253.2h8M72.2 1201.6h8M72.2 1717.6v-7M201.2 1717.6v-7M330.2 1717.6v-7M459.2 1717.6v-7M588.2 1717.6v-7M717.2 1717.6v-7" stroke="#000" stroke-width="2.2" fill="none"/><g style="font-family:'Liberation Sans',Arial,sans-serif;font-size:21px"><text x="64.2" y="1724.2" text-anchor="end">0</text><text x="64.2" y="1672.6" text-anchor="end">2</text><text x="64.2" y="1621.0" text-anchor="end">4</text><text x="64.2" y="1569.4" text-anchor="end">6</text><text x="64.2" y="1517.8" text-anchor="end">8</text><text x="64.2" y="1466.2" text-anchor="end">10</text><text x="64.2" y="1414.6" text-anchor="end">12</text><text x="64.2" y="1363.0" text-anchor="end">14</text><text x="64.2" y="1311.4" text-anchor="end">16</text><text x="64.2" y="1259.8" text-anchor="end">18</text><text x="64.2" y="1208.2" text-anchor="end">20</text><text x="72.2" y="1742.6" text-anchor="middle">0</text><text x="201.2" y="1742.6" text-anchor="middle">5</text><text x="330.2" y="1742.6" text-anchor="middle">10</text><text x="459.2" y="1742.6" text-anchor="middle">15</text><text x="588.2" y="1742.6" text-anchor="middle">20</text><text x="717.2" y="1742.6" text-anchor="middle">25</text></g><text transform="translate(21.4,1460.8) rotate(-90)" text-anchor="middle" style="font-family:'Liberation Sans',Arial,sans-serif;font-size:21px">Water flow [µl/min]</text><text x="457.7" y="1772" text-anchor="middle" style="font-family:'Liberation Sans',Arial,sans-serif;font-size:21px">Gas flow [mg/min]</text>
<linearGradient id="cbd" x1="0" y1="0" x2="0" y2="1"><stop offset="0.000" stop-color="#463a94"/><stop offset="0.025" stop-color="#433792"/><stop offset="0.050" stop-color="#464296"/><stop offset="0.075" stop-color="#494899"/><stop offset="0.100" stop-color="#4b4d9c"/><stop offset="0.125" stop-color="#4b52a0"/><stop offset="0.150" stop-color="#4b54a0"/><stop offset="0.175" stop-color="#4858a2"/><stop offset="0.200" stop-color="#485ca4"/><stop offset="0.225" stop-color="#4760a6"/><stop offset="0.250" stop-color="#4665aa"/><stop offset="0.275" stop-color="#466dae"/><stop offset="0.300" stop-color="#4675b6"/><stop offset="0.325" stop-color="#467fbe"/><stop offset="0.350" stop-color="#468bc6"/><stop offset="0.375" stop-color="#4497cd"/><stop offset="0.400" stop-color="#389fd1"/><stop offset="0.425" stop-color="#28a7d5"/><stop offset="0.450" stop-color="#20acd2"/><stop offset="0.475" stop-color="#22afc7"/><stop offset="0.500" stop-color="#2dafb7"/><stop offset="0.525" stop-color="#36b0ac"/><stop offset="0.550" stop-color="#3fb2a0"/><stop offset="0.575" stop-color="#49b393"/><stop offset="0.600" stop-color="#56b685"/><stop offset="0.625" stop-color="#65b976"/><stop offset="0.650" stop-color="#75bd66"/><stop offset="0.675" stop-color="#8bc156"/><stop offset="0.700" stop-color="#9fc146"/><stop offset="0.725" stop-color="#b0be35"/><stop offset="0.750" stop-color="#c4b72b"/><stop offset="0.775" stop-color="#d5b12a"/><stop offset="0.800" stop-color="#e4ad31"/><stop offset="0.825" stop-color="#f0aa41"/><stop offset="0.850" stop-color="#f3b044"/><stop offset="0.875" stop-color="#f6bb3e"/><stop offset="0.900" stop-color="#f6c835"/><stop offset="0.925" stop-color="#f4d232"/><stop offset="0.950" stop-color="#f0d737"/><stop offset="0.975" stop-color="#ecdc37"/><stop offset="1.000" stop-color="#e8de28"/></linearGradient>
<rect x="814.7" y="1199.5" width="29.699999999999932" height="517.5" fill="url(#cbd)" stroke="#000" stroke-width="1.8"/>
<path d="M844.4 1702.2h-6M844.4 1632.4h-6M844.4 1562.6h-6M844.4 1492.7h-6M844.4 1422.9h-6M844.4 1353.1h-6M844.4 1283.3h-6M844.4 1213.5h-6" stroke="#000" stroke-width="2.2"/>
<g style="font-family:'Liberation Sans',Arial,sans-serif;font-size:21px"><text x="855.4" y="1709.5">50</text><text x="855.4" y="1639.7">75</text><text x="855.4" y="1569.9">100</text><text x="855.4" y="1500.0">125</text><text x="855.4" y="1430.2">150</text><text x="855.4" y="1360.4">175</text><text x="855.4" y="1290.6">200</text><text x="855.4" y="1220.8">225</text></g>
<text transform="translate(919,1459.5) rotate(-90)" text-anchor="middle" style="font-family:'Liberation Sans',Arial,sans-serif;font-size:21px">Jet length [µm]</text>
<g><path fill="#f0e86c" d="M1253.5 1658.8 1336.2 1655.7 1364.6 1653.7 1442.1 1645.6 1499.0 1643.0 1561.0 1637.8 1618.0 1635.9 1620.4 1656.2 1402.1 1656.2 1402.1 1659.8 1245.7 1659.8 1253.5 1658.8Z"/>
<path fill="#f2e774" d="M1618.2 1637.5 1561.1 1639.3 1499.0 1644.5 1442.2 1647.1 1364.7 1655.3 1333.7 1657.4 1262.4 1659.8 1165.6 1659.6 1199.2 1655.1 1245.7 1650.4 1320.7 1645.7 1349.0 1643.2 1372.3 1640.1 1431.7 1630.3 1501.5 1629.2 1610.8 1619.2 1617.9 1635.0 1618.2 1637.5Z"/>
<path fill="#f4e575" d="M1611.5 1620.7 1501.6 1630.7 1431.9 1631.9 1372.5 1641.7 1349.2 1644.7 1320.8 1647.3 1251.0 1651.5 1174.9 1659.8 1128.0 1659.8 1157.8 1653.5 1194.0 1647.7 1256.0 1640.3 1336.1 1633.2 1364.5 1629.1 1411.0 1620.6 1429.2 1618.3 1504.1 1616.5 1605.0 1606.3 1611.5 1620.7Z"/>
<path fill="#f6e272" d="M1605.7 1607.8 1506.8 1617.8 1483.5 1618.9 1442.2 1619.2 1424.1 1620.4 1362.2 1631.0 1333.7 1635.1 1258.8 1641.6 1212.3 1646.9 1173.5 1652.4 1134.6 1659.8 1107.7 1659.8 1121.5 1654.9 1137.1 1650.7 1186.2 1640.9 1256.0 1631.0 1323.2 1623.9 1398.1 1610.9 1418.8 1608.0 1437.0 1606.7 1504.1 1604.6 1599.6 1594.6 1605.7 1607.8Z"/>
<path fill="#f8e070" d="M1600.3 1596.0 1504.2 1606.1 1437.0 1608.3 1413.8 1610.1 1323.4 1625.4 1258.8 1632.3 1194.2 1641.2 1142.6 1651.0 1124.5 1655.6 1112.1 1659.8 1092.9 1659.8 1116.3 1650.0 1129.3 1645.8 1181.0 1633.7 1261.2 1620.8 1312.8 1614.6 1405.9 1598.3 1426.6 1596.4 1501.5 1593.2 1594.4 1583.2 1600.3 1596.0Z"/>
<path fill="#f9db71" d="M1595.1 1584.6 1501.6 1594.8 1424.1 1598.1 1398.3 1600.9 1313.1 1616.1 1261.4 1622.3 1186.5 1634.3 1152.9 1641.4 1129.7 1647.3 1116.8 1651.4 1097.4 1659.8 1076.4 1659.8 1093.0 1654.7 1113.7 1644.2 1129.2 1638.7 1178.4 1626.0 1266.3 1610.1 1307.7 1604.7 1392.9 1588.5 1418.8 1585.7 1496.4 1582.0 1588.5 1571.7 1595.1 1584.6Z"/>
<path fill="#fad673" d="M1589.3 1573.2 1499.1 1583.4 1418.9 1587.3 1388.0 1590.9 1307.9 1606.3 1266.6 1611.6 1181.3 1627.0 1150.4 1634.5 1127.1 1641.1 1114.3 1645.7 1096.2 1655.0 1083.4 1659.8 1072.6 1659.8 1072.6 1656.8 1080.2 1654.9 1092.4 1649.8 1113.7 1637.5 1131.8 1630.5 1175.8 1618.2 1268.9 1599.2 1305.1 1594.3 1323.1 1589.7 1387.8 1577.4 1418.8 1574.0 1442.1 1573.8 1496.3 1570.0 1582.1 1559.8 1589.3 1573.2Z"/>
<path fill="#f9d078" d="M1582.9 1561.2 1496.5 1571.5 1442.2 1575.3 1418.9 1575.6 1390.6 1578.5 1323.5 1591.2 1305.3 1595.9 1269.2 1600.7 1181.3 1618.4 1147.8 1627.4 1129.8 1632.8 1114.3 1638.9 1093.0 1651.2 1080.7 1656.4 1072.6 1658.3 1072.6 1652.9 1080.1 1650.4 1090.4 1645.3 1108.4 1633.4 1126.6 1624.8 1149.9 1616.8 1181.0 1608.2 1261.1 1590.4 1302.5 1583.1 1328.3 1576.9 1372.2 1568.1 1390.4 1565.0 1411.1 1562.6 1447.3 1560.9 1493.7 1556.9 1575.1 1546.7 1582.9 1561.2Z"/>
<path fill="#f8ca7d" d="M1575.9 1548.2 1488.7 1559.0 1444.8 1562.6 1416.4 1563.7 1390.6 1566.5 1336.4 1576.8 1300.2 1585.2 1264.0 1591.4 1178.8 1610.4 1140.1 1621.6 1127.2 1626.2 1114.3 1632.1 1106.6 1636.2 1091.1 1646.7 1080.7 1651.8 1072.6 1654.5 1072.6 1648.5 1086.2 1642.1 1105.8 1628.2 1116.2 1622.0 1129.2 1615.7 1142.2 1610.8 1170.6 1602.1 1199.1 1594.8 1258.5 1580.5 1297.3 1572.4 1351.6 1559.7 1398.1 1551.3 1480.8 1543.9 1567.7 1532.3 1575.9 1548.2Z"/>
<path fill="#f6c77c" d="M1467.9 1530.0 1559.8 1516.6 1568.4 1533.8 1481.0 1545.4 1411.2 1551.4 1388.0 1554.3 1349.3 1561.8 1297.7 1573.9 1256.3 1582.6 1178.8 1601.5 1137.5 1614.0 1116.9 1623.4 1106.7 1629.5 1087.0 1643.4 1072.6 1650.1 1072.6 1643.8 1085.2 1637.0 1105.8 1621.1 1118.8 1612.6 1129.2 1607.2 1139.6 1603.0 1175.8 1591.6 1255.9 1570.3 1369.6 1543.1 1403.3 1537.3 1467.9 1530.0Z"/>
<path fill="#f5c47a" d="M1560.6 1518.0 1479.8 1530.0 1408.7 1538.2 1380.3 1542.6 1339.0 1551.5 1225.3 1579.8 1168.5 1595.4 1132.4 1607.5 1114.4 1617.1 1086.0 1638.2 1072.6 1645.5 1072.6 1638.8 1083.9 1631.8 1113.5 1607.6 1124.0 1601.2 1134.4 1596.4 1160.3 1587.4 1209.4 1572.3 1336.0 1537.7 1367.0 1530.2 1395.5 1524.6 1471.9 1513.0 1551.4 1499.6 1560.6 1518.0Z"/>
<path fill="#efc573" d="M1552.1 1501.0 1470.7 1514.8 1403.5 1524.8 1372.5 1530.6 1333.8 1539.9 1207.2 1574.5 1150.4 1592.2 1127.2 1601.2 1111.9 1610.7 1084.8 1633.1 1072.6 1640.5 1072.6 1633.5 1082.4 1626.7 1110.9 1601.1 1118.7 1595.6 1129.2 1590.2 1149.9 1582.2 1206.8 1562.8 1330.8 1526.0 1359.3 1518.3 1390.3 1511.3 1543.3 1481.5 1552.1 1501.0Z"/>
<path fill="#eac76c" d="M1544.0 1483.0 1401.0 1510.7 1362.2 1519.2 1331.3 1527.5 1202.1 1565.9 1145.3 1585.5 1124.0 1594.4 1111.9 1602.3 1083.4 1627.9 1072.6 1635.3 1072.6 1628.0 1080.7 1621.6 1108.3 1594.9 1117.9 1587.9 1129.2 1582.1 1144.7 1575.7 1186.1 1559.8 1214.5 1549.9 1330.8 1512.4 1351.5 1506.4 1395.5 1495.4 1535.1 1463.3 1544.0 1483.0Z"/>
<path fill="#e2c96a" d="M1535.8 1464.7 1393.2 1497.5 1346.8 1509.3 1196.9 1557.5 1140.1 1579.2 1119.5 1588.7 1109.3 1596.0 1081.7 1622.7 1072.6 1629.9 1072.6 1622.1 1105.7 1589.0 1111.0 1584.6 1123.9 1576.9 1142.1 1568.4 1204.2 1542.9 1333.4 1497.6 1385.1 1483.0 1526.6 1445.8 1535.8 1464.7Z"/>
<path fill="#dacb69" d="M1527.4 1447.2 1382.9 1485.2 1333.9 1499.1 1197.0 1547.2 1142.7 1569.8 1127.3 1576.9 1114.4 1584.2 1106.8 1590.1 1072.6 1624.1 1072.6 1615.3 1101.6 1585.5 1108.4 1579.5 1123.9 1569.3 1142.1 1559.7 1173.1 1545.4 1199.0 1534.5 1328.2 1485.3 1517.6 1429.8 1527.4 1447.2Z"/>
<path fill="#d1cf6d" d="M1518.4 1431.2 1328.7 1486.8 1189.2 1540.2 1142.8 1561.1 1124.7 1570.7 1111.8 1579.0 1104.2 1585.0 1072.6 1617.5 1072.6 1608.0 1099.8 1580.3 1113.5 1569.2 1129.1 1558.3 1144.6 1549.2 1193.8 1526.6 1328.2 1471.4 1509.9 1414.8 1518.4 1431.2Z"/>
<path fill="#c8d272" d="M1510.6 1416.2 1442.4 1437.8 1367.4 1460.3 1326.1 1473.8 1176.3 1535.9 1142.8 1551.9 1119.6 1566.6 1101.6 1580.8 1072.6 1610.3 1072.6 1601.0 1100.5 1573.4 1123.8 1553.4 1136.8 1544.2 1165.3 1529.5 1292.0 1472.0 1317.8 1461.1 1343.7 1451.8 1447.1 1419.3 1502.5 1400.5 1510.6 1416.2Z"/>
<path fill="#c0d37a" d="M1503.2 1401.9 1445.0 1421.6 1357.1 1449.0 1321.0 1461.6 1290.0 1474.6 1163.4 1532.1 1142.8 1542.5 1127.4 1552.6 1099.0 1576.9 1072.6 1603.2 1072.6 1594.2 1121.2 1546.5 1134.2 1536.3 1152.4 1526.3 1229.9 1488.9 1289.4 1459.0 1312.7 1448.9 1341.1 1438.2 1441.9 1405.7 1494.7 1386.6 1503.2 1401.9Z"/>
<path fill="#b8d582" d="M1122.3 1547.6 1072.6 1596.4 1072.6 1587.6 1101.6 1559.7 1118.6 1539.2 1129.0 1530.4 1144.6 1521.1 1229.9 1476.9 1284.2 1447.0 1307.5 1436.5 1338.5 1424.4 1372.1 1412.7 1437.3 1391.8 1485.8 1373.0 1495.5 1387.9 1442.4 1407.1 1346.8 1437.9 1305.5 1453.5 1282.3 1464.1 1233.8 1488.7 1148.6 1529.9 1132.5 1539.3 1122.3 1547.6Z"/>
<path fill="#aed489" d="M1097.7 1557.1 1114.1 1533.9 1121.2 1526.9 1129.1 1521.3 1229.9 1464.6 1271.2 1439.1 1289.4 1429.7 1341.1 1408.4 1372.1 1397.3 1431.6 1378.0 1454.8 1369.0 1476.7 1359.3 1486.7 1374.3 1439.8 1392.5 1370.0 1415.1 1333.9 1427.8 1302.9 1440.1 1279.7 1451.0 1233.2 1476.9 1145.8 1522.2 1132.5 1529.9 1119.7 1540.3 1102.7 1560.7 1072.6 1589.8 1072.6 1581.2 1097.7 1557.1Z"/>
<path fill="#a3d291" d="M1477.6 1360.6 1432.1 1379.4 1370.1 1399.7 1333.9 1412.8 1297.8 1427.6 1274.6 1439.0 1230.7 1465.9 1177.2 1496.4 1140.2 1516.3 1126.8 1524.7 1119.7 1530.3 1114.6 1535.7 1103.0 1552.9 1096.5 1560.7 1072.6 1583.4 1072.6 1575.0 1086.8 1562.2 1095.3 1552.8 1106.0 1534.0 1112.1 1526.1 1117.7 1520.9 1134.2 1509.2 1180.4 1482.1 1206.6 1464.9 1224.7 1455.2 1245.3 1440.6 1273.8 1422.5 1294.6 1412.6 1335.9 1395.0 1374.7 1380.4 1425.8 1363.4 1447.0 1354.7 1466.7 1345.2 1477.6 1360.6Z"/>
<path fill="#9bd098" d="M1467.6 1346.4 1447.6 1356.1 1426.3 1364.8 1375.2 1381.9 1333.9 1397.5 1290.0 1416.3 1272.0 1425.3 1246.2 1441.8 1225.5 1456.5 1207.4 1466.2 1181.2 1483.5 1135.1 1510.6 1118.7 1522.1 1113.2 1527.2 1107.3 1534.8 1096.5 1553.8 1087.9 1563.3 1072.6 1577.2 1072.6 1569.0 1083.1 1559.7 1092.0 1549.4 1100.4 1532.3 1110.9 1518.3 1129.0 1504.0 1178.9 1471.8 1201.4 1454.8 1216.9 1447.4 1229.8 1436.7 1268.6 1410.0 1323.0 1384.5 1348.8 1373.6 1377.3 1362.3 1400.5 1355.1 1418.6 1347.9 1439.2 1338.6 1455.7 1329.7 1467.6 1346.4Z"/>
<path fill="#93cea0" d="M1456.6 1331.0 1439.9 1340.0 1419.1 1349.4 1401.1 1356.6 1377.8 1363.7 1328.8 1383.6 1269.4 1411.3 1230.7 1438.0 1217.7 1448.7 1203.8 1455.1 1179.8 1473.1 1131.6 1504.1 1114.5 1517.3 1109.4 1522.2 1101.7 1533.1 1093.3 1550.4 1084.2 1560.7 1072.6 1571.1 1072.6 1563.1 1079.8 1556.4 1087.8 1546.9 1097.8 1527.3 1105.6 1516.1 1110.9 1510.8 1134.2 1491.4 1173.0 1463.8 1193.6 1447.9 1211.7 1436.5 1263.4 1398.7 1286.8 1386.0 1323.0 1368.0 1361.7 1350.8 1405.7 1332.5 1425.2 1322.2 1442.8 1311.0 1456.6 1331.0Z"/>
<path fill="#8dcda6" d="M1081.8 1546.8 1100.4 1514.9 1108.3 1505.6 1123.8 1490.7 1149.7 1468.7 1209.1 1424.9 1250.5 1393.2 1271.2 1379.2 1299.7 1362.8 1391.4 1317.0 1410.7 1304.5 1429.1 1290.2 1443.7 1312.3 1426.0 1323.5 1408.9 1332.6 1359.8 1353.3 1321.0 1370.6 1282.3 1390.0 1261.7 1401.7 1212.6 1437.8 1194.5 1449.2 1122.2 1502.8 1106.8 1517.1 1098.2 1529.6 1089.1 1547.7 1081.0 1557.5 1072.6 1565.1 1072.6 1557.0 1081.8 1546.8Z"/>
<path fill="#86ccad" d="M1429.9 1291.5 1409.0 1307.6 1392.2 1318.3 1300.4 1364.2 1269.4 1382.2 1248.8 1396.3 1210.1 1426.1 1150.6 1470.0 1122.3 1494.2 1109.4 1506.7 1102.9 1514.2 1094.6 1527.0 1084.9 1545.1 1078.7 1553.0 1072.6 1559.1 1072.6 1550.4 1081.3 1539.2 1097.8 1510.6 1108.2 1497.6 1134.1 1470.4 1147.1 1459.0 1201.6 1417.7 1255.6 1374.6 1276.3 1360.1 1297.1 1347.3 1356.5 1315.6 1375.8 1304.1 1395.1 1289.5 1416.7 1269.2 1429.9 1291.5Z"/>
<path fill="#80cab3" d="M1392.2 1265.6 1404.6 1251.5 1417.5 1270.6 1394.0 1292.5 1375.4 1306.2 1357.3 1317.0 1300.4 1347.1 1266.9 1368.4 1246.2 1383.8 1202.6 1418.9 1145.5 1462.3 1132.6 1474.1 1104.2 1504.6 1095.7 1516.7 1081.0 1542.4 1072.6 1552.7 1072.6 1543.3 1079.7 1533.2 1095.2 1506.3 1103.0 1495.5 1128.9 1464.0 1136.7 1456.0 1192.3 1412.5 1247.9 1365.4 1268.6 1349.0 1297.0 1329.9 1343.6 1304.0 1360.2 1293.8 1376.9 1281.0 1392.2 1265.6Z"/>
<path fill="#7bcaba" d="M1405.5 1252.8 1386.1 1274.4 1370.3 1288.5 1349.5 1302.3 1297.9 1331.2 1272.1 1348.4 1251.4 1364.5 1193.2 1413.7 1137.8 1457.1 1130.1 1465.0 1101.7 1499.8 1094.0 1511.2 1080.5 1534.8 1072.6 1545.8 1072.6 1535.9 1078.9 1526.3 1092.7 1501.9 1098.8 1492.7 1112.8 1474.6 1123.7 1457.8 1132.0 1448.7 1186.4 1404.8 1253.0 1344.9 1271.1 1330.1 1294.5 1313.9 1343.6 1285.9 1361.6 1273.3 1377.0 1258.4 1394.4 1236.1 1405.5 1252.8Z"/>
<path fill="#77c9c0" d="M1395.2 1237.5 1376.3 1261.4 1362.5 1274.5 1344.4 1287.2 1295.3 1315.2 1272.1 1331.3 1254.0 1346.1 1187.4 1406.0 1132.6 1450.3 1124.9 1458.7 1114.1 1475.5 1098.2 1496.1 1078.7 1529.6 1072.6 1538.5 1072.6 1528.3 1092.7 1492.9 1107.8 1472.1 1118.8 1451.4 1125.9 1443.5 1183.4 1394.5 1214.4 1366.1 1250.4 1330.4 1271.1 1312.7 1290.4 1299.0 1338.4 1271.9 1356.4 1259.3 1368.3 1247.5 1386.4 1223.1 1395.2 1237.5Z"/>
<path fill="#73c8c5" d="M1088.8 1490.2 1104.6 1467.0 1112.3 1448.9 1115.7 1443.6 1207.6 1358.4 1246.5 1317.1 1271.1 1295.0 1278.9 1289.1 1307.4 1272.0 1335.5 1257.7 1353.8 1244.8 1359.2 1239.8 1374.4 1219.8 1380.2 1213.2 1387.2 1224.5 1371.6 1245.9 1362.1 1256.3 1344.4 1270.0 1292.7 1299.4 1269.5 1316.0 1251.5 1331.5 1215.5 1367.3 1187.3 1393.1 1124.3 1447.2 1119.8 1452.7 1109.1 1472.9 1094.0 1493.7 1078.5 1521.9 1072.6 1531.0 1072.6 1520.5 1088.8 1490.2Z"/>
<path fill="#6fc8ca" d="M1104.6 1470.3 1090.1 1490.9 1072.6 1523.4 1072.6 1511.6 1085.1 1487.6 1098.8 1466.9 1108.6 1443.7 1113.4 1437.4 1141.8 1406.4 1200.7 1350.7 1235.3 1312.0 1265.9 1281.8 1273.8 1276.0 1299.1 1260.3 1328.1 1246.3 1346.1 1235.0 1351.2 1231.1 1375.7 1206.2 1381.1 1214.5 1357.8 1243.4 1336.6 1258.8 1308.2 1273.4 1279.8 1290.4 1272.1 1296.2 1251.5 1314.6 1241.2 1324.6 1208.7 1359.5 1116.9 1444.6 1113.7 1449.6 1104.6 1470.3Z"/>
<path fill="#6ac7d0" d="M1376.6 1207.5 1352.2 1232.2 1347.0 1236.3 1328.8 1247.6 1299.9 1261.6 1274.6 1277.3 1266.9 1283.0 1236.4 1313.1 1201.8 1351.8 1145.5 1404.8 1111.5 1442.0 1100.2 1467.7 1086.4 1488.3 1072.6 1515.0 1072.6 1502.1 1081.6 1485.0 1094.5 1464.4 1104.8 1441.2 1131.5 1404.1 1139.2 1394.4 1149.0 1384.2 1196.1 1340.6 1229.7 1302.2 1253.0 1277.0 1266.0 1265.3 1278.9 1256.0 1294.5 1246.9 1322.9 1233.6 1338.4 1225.3 1371.9 1200.2 1376.6 1207.5Z"/>
<path fill="#65c7d8" d="M1372.7 1201.5 1347.0 1221.4 1336.6 1228.1 1323.6 1235.0 1297.8 1247.0 1281.2 1256.4 1266.9 1266.5 1254.1 1278.1 1230.8 1303.3 1197.2 1341.6 1184.2 1354.4 1150.7 1384.7 1135.3 1401.7 1106.9 1440.5 1095.9 1465.1 1082.9 1485.8 1072.6 1505.5 1072.6 1492.6 1090.6 1461.8 1103.0 1435.5 1131.4 1388.4 1144.5 1374.0 1174.1 1348.1 1189.9 1332.6 1250.4 1262.2 1266.0 1248.2 1281.6 1237.8 1294.5 1231.2 1330.7 1215.2 1358.9 1199.0 1371.1 1199.0 1372.7 1201.5Z"/>
<path fill="#62c6de" d="M1140.4 1380.1 1133.8 1387.8 1127.6 1396.9 1104.3 1436.3 1091.9 1462.5 1072.6 1496.0 1072.6 1483.6 1086.9 1459.2 1118.5 1393.7 1126.3 1380.1 1136.7 1368.2 1168.5 1340.3 1183.8 1324.9 1212.0 1291.4 1240.0 1255.2 1250.4 1243.6 1263.4 1232.2 1279.0 1222.6 1292.0 1216.6 1335.3 1199.0 1361.7 1199.0 1334.0 1215.3 1284.9 1237.7 1274.6 1243.9 1264.3 1251.4 1246.3 1268.8 1188.5 1336.3 1175.2 1349.2 1140.4 1380.1Z"/>
<path fill="#64c4e1" d="M1338.9 1199.0 1292.6 1218.0 1277.1 1225.3 1261.8 1235.5 1247.8 1248.5 1211.1 1294.9 1185.0 1325.9 1169.6 1341.5 1137.8 1369.3 1128.2 1380.1 1119.8 1394.4 1088.3 1459.9 1072.6 1486.8 1072.6 1475.3 1082.3 1458.8 1096.2 1430.9 1113.3 1388.3 1120.7 1374.0 1131.5 1361.4 1162.5 1333.5 1178.0 1317.2 1209.0 1278.8 1232.2 1244.8 1242.6 1231.6 1253.0 1221.5 1263.9 1213.8 1279.0 1206.1 1297.1 1199.0 1338.9 1199.0Z"/>
<path fill="#69c1e2" d="M1301.7 1199.0 1279.7 1207.5 1266.8 1213.9 1256.6 1220.7 1248.2 1227.9 1236.1 1242.2 1208.5 1282.0 1179.2 1318.2 1164.6 1333.7 1135.2 1360.0 1124.9 1371.0 1120.4 1377.4 1116.4 1385.1 1097.6 1431.5 1083.7 1459.5 1072.6 1478.3 1072.6 1467.2 1080.1 1454.1 1093.0 1428.3 1108.1 1384.9 1114.2 1371.5 1126.3 1356.0 1158.8 1324.9 1174.2 1306.9 1202.2 1270.8 1224.4 1233.4 1234.4 1219.2 1245.3 1208.2 1259.3 1199.0 1301.7 1199.0Z"/>
<path fill="#71bee0" d="M1256.7 1202.3 1243.7 1211.6 1233.6 1222.7 1223.2 1238.4 1203.5 1271.7 1169.2 1315.6 1157.4 1328.5 1127.5 1357.1 1117.2 1369.6 1114.1 1374.8 1109.7 1385.0 1094.4 1428.9 1081.5 1454.8 1072.6 1470.2 1072.6 1459.0 1089.8 1425.8 1105.5 1376.5 1110.8 1365.6 1121.2 1351.8 1156.4 1314.6 1180.5 1281.8 1193.4 1265.6 1216.7 1221.2 1222.5 1211.5 1228.3 1203.6 1233.1 1199.0 1262.5 1199.0 1256.7 1202.3Z"/>
<path fill="#77bade" d="M1112.6 1353.4 1147.2 1312.0 1174.8 1270.8 1185.7 1258.0 1190.8 1243.2 1214.5 1199.0 1235.4 1199.0 1228.3 1206.1 1222.2 1214.9 1207.7 1240.8 1197.9 1261.3 1192.8 1269.1 1181.8 1282.7 1157.6 1315.6 1122.3 1352.8 1111.7 1367.1 1108.9 1372.2 1104.4 1384.4 1091.3 1426.3 1072.6 1462.1 1072.6 1450.6 1085.6 1425.8 1102.9 1369.5 1112.6 1353.4Z"/>
<path fill="#7cb6dc" d="M1148.5 1313.0 1113.9 1354.2 1104.5 1369.6 1087.0 1426.3 1072.6 1453.8 1072.6 1441.9 1082.1 1423.2 1097.8 1371.6 1103.0 1360.0 1113.4 1343.0 1141.2 1304.4 1172.0 1255.4 1183.1 1232.6 1201.3 1199.0 1216.4 1199.0 1192.2 1243.9 1187.0 1258.9 1176.1 1271.7 1148.5 1313.0Z"/>
<path fill="#7eb1d9" d="M1203.1 1199.0 1184.4 1233.3 1173.3 1256.2 1142.5 1305.2 1112.0 1347.7 1102.3 1364.5 1099.2 1372.3 1083.5 1423.7 1072.6 1445.2 1072.6 1433.1 1079.4 1418.0 1095.7 1366.4 1103.0 1351.0 1153.7 1265.7 1189.1 1199.0 1203.1 1199.0Z"/>
<path fill="#7eacd5" d="M1190.9 1199.0 1155.0 1266.5 1112.1 1338.0 1101.8 1356.8 1096.2 1369.5 1080.0 1421.1 1072.6 1436.4 1072.6 1423.7 1077.1 1412.2 1092.8 1363.8 1105.5 1336.0 1128.8 1290.9 1145.1 1263.1 1165.0 1222.5 1177.8 1199.0 1190.9 1199.0Z"/>
<path fill="#7ea6d2" d="M1179.6 1199.0 1166.4 1223.2 1146.5 1263.9 1130.2 1291.7 1101.8 1347.4 1094.0 1365.0 1078.3 1413.4 1072.6 1427.4 1072.6 1412.6 1089.1 1363.9 1100.4 1335.9 1121.0 1289.8 1138.0 1260.6 1152.0 1228.9 1167.5 1199.0 1179.6 1199.0Z"/>
<path fill="#7ea0ce" d="M1169.2 1199.0 1153.4 1229.6 1139.3 1261.3 1122.9 1289.6 1103.1 1333.5 1091.5 1361.8 1072.6 1417.0 1072.6 1401.3 1096.7 1332.9 1115.9 1285.5 1130.7 1260.6 1142.0 1232.2 1158.0 1199.0 1169.2 1199.0Z"/>
<path fill="#7e9dca" d="M1159.8 1199.0 1143.4 1232.9 1132.0 1261.3 1120.7 1279.4 1116.9 1287.0 1098.1 1333.4 1072.6 1405.8 1072.6 1391.0 1093.7 1327.7 1102.2 1307.1 1111.4 1281.2 1125.6 1258.0 1134.5 1232.2 1149.4 1199.0 1159.8 1199.0Z"/>
<path fill="#7e99c7" d="M1151.2 1199.0 1136.0 1232.8 1127.0 1258.7 1115.4 1276.8 1112.1 1283.5 1103.7 1307.6 1095.1 1328.3 1078.5 1379.8 1072.6 1395.3 1072.6 1381.1 1084.9 1343.3 1089.0 1327.8 1097.3 1307.1 1106.9 1278.7 1121.1 1255.5 1128.8 1230.2 1141.6 1199.0 1151.2 1199.0Z"/>
<path fill="#7e95c5" d="M1108.4 1279.3 1097.8 1310.2 1091.3 1325.7 1086.4 1343.7 1072.6 1385.5 1072.6 1369.6 1080.9 1343.3 1085.4 1325.2 1096.5 1296.8 1102.9 1277.3 1116.8 1252.9 1123.6 1228.8 1134.3 1199.0 1143.2 1199.0 1130.2 1230.7 1122.6 1256.1 1108.4 1279.3Z"/>
<path fill="#7e92c3" d="M1136.0 1199.0 1125.1 1229.3 1118.3 1253.4 1104.8 1276.7 1098.0 1297.3 1086.9 1325.7 1082.3 1343.7 1072.6 1374.9 1072.6 1356.8 1082.2 1322.2 1100.4 1273.9 1112.8 1250.3 1127.5 1199.0 1136.0 1199.0Z"/>
<path fill="#7e90c1" d="M1129.2 1199.0 1114.2 1250.9 1100.9 1276.7 1083.6 1323.1 1072.6 1362.2 1072.6 1343.0 1078.9 1320.0 1096.8 1273.5 1109.1 1247.8 1121.1 1199.0 1129.2 1199.0Z"/>
<path fill="#7f8ec0" d="M1122.7 1199.0 1110.5 1248.3 1098.2 1274.1 1081.3 1318.0 1072.6 1348.7 1073.2 1325.2 1093.2 1273.5 1105.6 1245.2 1109.1 1232.4 1115.0 1199.0 1122.7 1199.0Z"/>
<path fill="#7f8cbf" d="M1116.6 1199.0 1111.1 1230.1 1107.0 1245.7 1095.6 1271.5 1079.1 1312.8 1072.6 1333.0 1072.6 1314.5 1102.9 1240.2 1105.8 1227.3 1107.4 1209.2 1109.2 1199.0 1116.6 1199.0Z"/>
<path fill="#7f8bbe" d="M1110.8 1199.0 1107.0 1230.1 1103.6 1243.1 1072.6 1319.0 1072.6 1304.0 1084.8 1276.3 1096.0 1247.8 1100.2 1234.9 1101.7 1227.3 1102.2 1209.3 1103.7 1199.0 1110.8 1199.0Z"/>
<path fill="#8189bd" d="M1105.2 1199.0 1103.2 1227.5 1100.9 1237.9 1086.3 1276.9 1072.6 1308.0 1072.6 1294.3 1082.3 1273.3 1097.1 1229.8 1097.2 1209.3 1098.4 1199.0 1105.2 1199.0Z"/>
<path fill="#8187bc" d="M1100.0 1199.0 1098.7 1211.9 1099.2 1224.8 1098.0 1232.7 1083.6 1274.1 1072.6 1298.1 1072.6 1285.4 1077.2 1276.1 1081.9 1263.2 1092.6 1229.7 1093.1 1224.8 1092.3 1211.9 1093.5 1199.0 1100.0 1199.0Z"/>
<path fill="#8186bc" d="M1095.1 1199.0 1094.0 1230.2 1081.1 1270.1 1072.6 1288.9 1072.6 1276.2 1077.4 1263.3 1087.5 1227.3 1087.8 1211.9 1089.2 1199.0 1095.1 1199.0Z"/>
<path fill="#8184bb" d="M1090.8 1199.0 1089.3 1224.8 1088.4 1230.2 1078.9 1263.7 1072.6 1279.9 1072.6 1262.9 1077.7 1240.1 1082.1 1224.7 1085.2 1199.0 1090.8 1199.0Z"/>
<path fill="#8181b9" d="M1086.7 1199.0 1083.6 1224.9 1072.6 1268.3 1072.6 1236.3 1077.1 1222.0 1081.2 1199.0 1086.7 1199.0Z"/>
<path fill="#807fb8" d="M1082.8 1199.0 1078.6 1222.4 1072.6 1243.0 1072.6 1219.0 1077.2 1199.0 1082.8 1199.0Z"/>
<path fill="#7f7eb7" d="M1078.8 1199.0 1075.4 1214.7 1072.6 1224.6 1073.1 1199.0 1078.8 1199.0Z"/>
<path fill="#7d78b4" d="M1072.6 1207.4 1072.6 1199.0 1074.6 1199.0 1074.0 1201.8 1072.6 1207.4Z"/></g>
<path d="M1176.0 1715.0V1199.0M1305.2 1715.0V1199.0M1434.4 1715.0V1199.0M1563.6 1715.0V1199.0M1692.8 1715.0V1199.0M1046.8 1663.4H1771.1M1046.8 1611.8H1771.1M1046.8 1560.2H1771.1M1046.8 1508.6H1771.1M1046.8 1457.0H1771.1M1046.8 1405.4H1771.1M1046.8 1353.8H1771.1M1046.8 1302.2H1771.1M1046.8 1250.6H1771.1M1046.8 1199.0H1771.1" stroke="#000" stroke-opacity="0.065" stroke-width="1" fill="none"/>
<rect x="1077" y="1666.3" width="687" height="48.7" fill="url(#hatch)"/>
<rect x="1363.5" y="1678.8" width="90.6" height="25.3" fill="#fff"/>
<text x="1408.5" y="1696.1" text-anchor="middle" style="font-family:'Liberation Sans',Arial,sans-serif;font-size:21px">Dripping</text>
<mask id="me" maskUnits="userSpaceOnUse" x="0" y="0" width="1898" height="1779"><rect x="0" y="0" width="1898" height="1779" fill="#fff"/><rect x="-10.2" y="-10" width="20.5" height="20" fill="#000" transform="translate(1094,1227) rotate(-80)"/><rect x="-19.0" y="-10" width="38.0" height="20" fill="#000" transform="translate(1119,1254) rotate(-70)"/><rect x="-10.2" y="-10" width="20.5" height="20" fill="#000" transform="translate(1186,1259) rotate(-60)"/><rect x="-19.0" y="-10" width="38.0" height="20" fill="#000" transform="translate(1354,1238) rotate(-45)"/><rect x="-19.0" y="-10" width="38.0" height="20" fill="#000" transform="translate(1102,1468) rotate(-65)"/><rect x="-10.2" y="-10" width="20.5" height="20" fill="#000" transform="translate(1542,1287) rotate(-28)"/><rect x="-10.2" y="-10" width="20.5" height="20" fill="#000" transform="translate(1218,1448) rotate(-40)"/><rect x="-19.0" y="-10" width="38.0" height="20" fill="#000" transform="translate(1664,1409) rotate(-10)"/><rect x="-19.0" y="-10" width="38.0" height="20" fill="#000" transform="translate(1302,1505) rotate(-25)"/><rect x="-10.2" y="-10" width="20.5" height="20" fill="#000" transform="translate(1684,1555) rotate(-8)"/><rect x="-10.2" y="-10" width="20.5" height="20" fill="#000" transform="translate(1307,1596) rotate(-18)"/><rect x="-19.0" y="-10" width="38.0" height="20" fill="#000" transform="translate(1713,1641) rotate(-3)"/><rect x="-19.0" y="-10" width="38.0" height="20" fill="#000" transform="translate(1333,1660) rotate(-3)"/></mask>
<g mask="url(#me)" fill="none" stroke="#000" stroke-width="4.2" stroke-linejoin="round" stroke-linecap="round"><path d="M1093.8 1200.0C1093.7 1202.4 1092.8 1209.4 1092.8 1214.0C1092.8 1218.5 1095.0 1220.9 1093.8 1227.4C1092.7 1233.9 1087.7 1247.0 1085.8 1252.9C1084.0 1258.9 1084.1 1259.1 1082.7 1263.0C1081.4 1266.9 1079.5 1272.4 1077.8 1276.4C1076.1 1280.4 1073.5 1285.0 1072.6 1286.7"/><path d="M1138.0 1200.0C1136.0 1205.2 1129.3 1221.7 1126.1 1231.0C1123.0 1240.3 1122.5 1248.2 1119.2 1255.8C1115.8 1263.3 1109.2 1269.9 1106.0 1276.4C1102.8 1282.9 1102.1 1289.0 1100.0 1295.0C1098.0 1300.9 1095.9 1306.8 1093.8 1312.0C1091.8 1317.2 1089.5 1320.9 1087.9 1325.9C1086.2 1330.9 1085.5 1336.6 1084.0 1341.9C1082.5 1347.3 1080.7 1351.9 1078.8 1357.9C1076.9 1363.9 1073.7 1374.7 1072.6 1378.1"/><path d="M1215.0 1199.0C1210.8 1206.8 1194.7 1236.1 1190.0 1246.0C1185.2 1255.8 1188.7 1254.3 1186.3 1258.3C1184.0 1262.3 1180.3 1264.0 1176.0 1270.0C1171.7 1275.9 1164.9 1286.9 1160.2 1293.9C1155.6 1301.0 1153.1 1305.6 1148.1 1312.0C1143.1 1318.4 1135.9 1325.5 1130.3 1332.1C1124.6 1338.8 1118.6 1346.0 1114.2 1352.0C1109.9 1358.0 1106.8 1362.4 1104.2 1368.0C1101.5 1373.6 1100.2 1379.5 1098.2 1385.8C1096.2 1392.1 1094.3 1399.2 1092.3 1405.9C1090.3 1412.6 1089.6 1418.3 1086.3 1426.0C1083.1 1433.7 1074.9 1447.8 1072.6 1452.1"/><path d="M1384.3 1203.9C1382.2 1205.9 1377.1 1210.4 1372.1 1216.0C1367.1 1221.7 1361.0 1231.6 1354.3 1237.7C1347.6 1243.8 1339.9 1248.4 1331.8 1252.9C1323.8 1257.5 1316.0 1259.5 1306.0 1265.0C1296.0 1270.6 1282.8 1277.5 1271.9 1285.9C1260.9 1294.4 1251.1 1304.6 1240.1 1315.9C1229.1 1327.2 1216.7 1342.8 1206.0 1353.8C1195.3 1364.8 1186.1 1372.2 1175.7 1381.9C1165.4 1391.6 1154.6 1401.5 1144.0 1411.8C1133.3 1422.2 1118.9 1434.7 1111.9 1444.1C1104.9 1453.5 1106.1 1460.8 1102.1 1468.1C1098.1 1475.4 1093.1 1479.7 1088.1 1488.0C1083.2 1496.3 1075.2 1512.9 1072.6 1517.9"/><path d="M1595.9 1257.0C1588.8 1260.5 1561.8 1272.7 1553.0 1277.7C1544.2 1282.6 1547.1 1284.5 1542.9 1286.7C1538.8 1289.0 1536.0 1288.2 1528.2 1291.1C1520.4 1294.0 1504.2 1300.2 1496.2 1304.0C1488.1 1307.8 1486.1 1310.1 1480.1 1314.1C1474.2 1318.1 1466.9 1323.8 1460.2 1328.0C1453.6 1332.2 1446.8 1335.7 1440.1 1339.1C1433.4 1342.4 1426.6 1345.3 1419.9 1348.1C1413.3 1351.0 1406.7 1353.8 1400.0 1356.1C1393.4 1358.4 1388.2 1359.1 1379.9 1362.1C1371.5 1365.0 1358.9 1370.3 1349.9 1373.9C1340.9 1377.6 1333.5 1380.6 1325.9 1384.0C1318.2 1387.3 1313.3 1389.7 1303.9 1394.0C1294.6 1398.4 1282.5 1402.6 1269.8 1410.0C1257.1 1417.5 1236.6 1432.6 1227.9 1438.9C1219.3 1445.3 1221.9 1445.5 1217.9 1448.0C1213.9 1450.5 1210.2 1449.9 1203.9 1453.9C1197.6 1457.9 1188.7 1465.9 1180.1 1472.0C1171.5 1478.0 1160.5 1484.7 1152.2 1490.0C1143.9 1495.4 1137.3 1499.0 1130.3 1504.0C1123.2 1508.9 1115.1 1514.9 1110.1 1520.0C1105.1 1525.0 1102.7 1529.5 1100.0 1534.1C1097.4 1538.8 1096.8 1543.8 1094.1 1548.1C1091.4 1552.4 1087.6 1556.3 1084.0 1559.9C1080.4 1563.6 1074.5 1568.3 1072.6 1570.0"/><path d="M1757.1 1393.5C1746.3 1395.0 1707.5 1399.9 1692.0 1402.0C1676.6 1404.2 1674.0 1404.9 1664.4 1406.7C1654.7 1408.5 1644.9 1411.0 1634.1 1412.9C1623.4 1414.8 1612.4 1415.4 1600.0 1418.0C1587.7 1420.7 1573.5 1425.4 1560.2 1428.9C1546.9 1432.4 1533.5 1435.4 1520.2 1438.9C1506.8 1442.5 1492.5 1446.6 1480.1 1450.0C1467.8 1453.5 1456.1 1457.0 1446.0 1459.8C1435.9 1462.7 1430.4 1464.1 1419.4 1467.1C1408.4 1470.1 1395.1 1473.6 1379.9 1477.9C1364.6 1482.2 1340.9 1488.9 1327.9 1493.1C1314.9 1497.4 1310.8 1500.1 1301.8 1503.4C1292.8 1506.8 1284.2 1509.2 1273.9 1513.0C1263.6 1516.7 1252.4 1521.4 1240.1 1525.9C1227.8 1530.4 1210.7 1536.1 1200.0 1540.1C1189.4 1544.1 1185.3 1545.9 1176.0 1549.9C1166.7 1553.9 1152.6 1560.1 1144.0 1564.1C1135.3 1568.1 1130.0 1570.6 1124.1 1573.9C1118.1 1577.2 1113.7 1579.2 1108.0 1583.9C1102.4 1588.6 1095.9 1596.0 1090.0 1602.0C1084.1 1608.0 1075.5 1617.0 1072.6 1620.1"/><path d="M1757.1 1547.0C1747.6 1548.0 1712.1 1551.9 1700.0 1553.0C1688.0 1554.1 1690.0 1553.7 1685.0 1553.8C1680.1 1553.8 1677.6 1553.1 1670.1 1553.5C1662.6 1553.9 1651.8 1555.2 1640.1 1556.1C1628.4 1557.0 1613.3 1557.7 1600.0 1558.9C1586.7 1560.1 1573.5 1561.5 1560.2 1563.0C1546.9 1564.5 1530.9 1566.6 1520.2 1567.9C1509.5 1569.3 1509.5 1569.9 1496.2 1571.0C1482.8 1572.2 1452.9 1574.3 1440.1 1574.9C1427.3 1575.6 1427.8 1574.4 1419.4 1574.9C1411.1 1575.4 1399.2 1576.7 1390.0 1578.0C1380.7 1579.3 1375.2 1580.8 1363.9 1582.9C1352.5 1585.1 1331.5 1588.9 1322.0 1590.9C1312.5 1592.9 1312.0 1594.0 1307.0 1595.0C1302.0 1596.1 1298.2 1596.3 1292.0 1597.1C1285.9 1597.9 1278.7 1598.4 1270.1 1599.9C1261.4 1601.4 1250.1 1604.1 1240.1 1606.1C1230.1 1608.1 1220.1 1610.1 1210.1 1612.1C1200.1 1614.0 1190.1 1615.7 1180.1 1618.0C1170.1 1620.3 1158.5 1623.7 1150.2 1626.0C1141.8 1628.3 1136.9 1629.6 1130.3 1631.9C1123.6 1634.2 1116.1 1636.9 1110.1 1639.9C1104.1 1642.9 1099.1 1647.3 1094.1 1650.0C1089.1 1652.6 1083.7 1654.6 1080.1 1655.9C1076.6 1657.3 1073.9 1657.6 1072.6 1658.0"/><path d="M1757.1 1633.5C1754.3 1633.5 1747.4 1633.2 1740.1 1633.5C1732.8 1633.7 1722.9 1634.7 1713.5 1635.0C1704.0 1635.3 1698.8 1634.9 1683.2 1635.3C1667.7 1635.6 1640.7 1636.5 1620.2 1637.1C1599.7 1637.7 1580.3 1637.7 1560.2 1638.9C1540.2 1640.1 1520.1 1642.7 1500.0 1644.0C1480.0 1645.4 1456.8 1645.7 1440.1 1646.9C1423.4 1648.0 1412.7 1649.7 1400.0 1651.0C1387.3 1652.3 1375.1 1653.9 1363.9 1654.9C1352.7 1655.9 1342.8 1656.4 1332.8 1657.0C1322.9 1657.5 1314.9 1657.6 1303.9 1658.0C1292.9 1658.3 1273.1 1658.8 1267.0 1659.0"/></g>
<g style="font-family:'Liberation Sans',Arial,sans-serif;font-size:21px"><text transform="translate(1094,1227) rotate(-80)" y="7.5" text-anchor="middle">4</text><text transform="translate(1119,1254) rotate(-70)" y="7.5" text-anchor="middle">3.5</text><text transform="translate(1186,1259) rotate(-60)" y="7.5" text-anchor="middle">3</text><text transform="translate(1354,1238) rotate(-45)" y="7.5" text-anchor="middle">2.5</text><text transform="translate(1102,1468) rotate(-65)" y="7.5" text-anchor="middle">2.5</text><text transform="translate(1542,1287) rotate(-28)" y="7.5" text-anchor="middle">2</text><text transform="translate(1218,1448) rotate(-40)" y="7.5" text-anchor="middle">2</text><text transform="translate(1664,1409) rotate(-10)" y="7.5" text-anchor="middle">1.5</text><text transform="translate(1302,1505) rotate(-25)" y="7.5" text-anchor="middle">1.5</text><text transform="translate(1684,1555) rotate(-8)" y="7.5" text-anchor="middle">1</text><text transform="translate(1307,1596) rotate(-18)" y="7.5" text-anchor="middle">1</text><text transform="translate(1713,1641) rotate(-3)" y="7.5" text-anchor="middle">0.6</text><text transform="translate(1333,1660) rotate(-3)" y="7.5" text-anchor="middle">0.6</text></g>
<g fill="#000"><circle cx="1072.6" cy="1199.0" r="3.1"/><circle cx="1111.4" cy="1199.0" r="3.1"/><circle cx="1176.0" cy="1199.0" r="3.1"/><circle cx="1240.6" cy="1199.0" r="3.1"/><circle cx="1305.2" cy="1199.0" r="3.1"/><circle cx="1369.8" cy="1199.0" r="3.1"/><circle cx="1111.4" cy="1263.5" r="3.1"/><circle cx="1176.0" cy="1263.5" r="3.1"/><circle cx="1240.6" cy="1263.5" r="3.1"/><circle cx="1305.2" cy="1263.5" r="3.1"/><circle cx="1369.8" cy="1263.5" r="3.1"/><circle cx="1072.6" cy="1328.0" r="3.1"/><circle cx="1111.4" cy="1328.0" r="3.1"/><circle cx="1176.0" cy="1328.0" r="3.1"/><circle cx="1240.6" cy="1328.0" r="3.1"/><circle cx="1305.2" cy="1328.0" r="3.1"/><circle cx="1369.8" cy="1328.0" r="3.1"/><circle cx="1072.6" cy="1392.5" r="3.1"/><circle cx="1111.4" cy="1392.5" r="3.1"/><circle cx="1176.0" cy="1392.5" r="3.1"/><circle cx="1240.6" cy="1392.5" r="3.1"/><circle cx="1305.2" cy="1392.5" r="3.1"/><circle cx="1369.8" cy="1392.5" r="3.1"/><circle cx="1072.6" cy="1457.0" r="3.1"/><circle cx="1111.4" cy="1457.0" r="3.1"/><circle cx="1176.0" cy="1457.0" r="3.1"/><circle cx="1240.6" cy="1457.0" r="3.1"/><circle cx="1305.2" cy="1457.0" r="3.1"/><circle cx="1369.8" cy="1457.0" r="3.1"/><circle cx="1072.6" cy="1521.5" r="3.1"/><circle cx="1111.4" cy="1521.5" r="3.1"/><circle cx="1176.0" cy="1521.5" r="3.1"/><circle cx="1240.6" cy="1521.5" r="3.1"/><circle cx="1305.2" cy="1521.5" r="3.1"/><circle cx="1369.8" cy="1521.5" r="3.1"/><circle cx="1072.6" cy="1586.0" r="3.1"/><circle cx="1111.4" cy="1586.0" r="3.1"/><circle cx="1176.0" cy="1586.0" r="3.1"/><circle cx="1240.6" cy="1586.0" r="3.1"/><circle cx="1305.2" cy="1586.0" r="3.1"/><circle cx="1369.8" cy="1586.0" r="3.1"/><circle cx="1434.4" cy="1328.0" r="3.1"/><circle cx="1434.4" cy="1392.5" r="3.1"/><circle cx="1499.0" cy="1392.5" r="3.1"/><circle cx="1434.4" cy="1457.0" r="3.1"/><circle cx="1499.0" cy="1457.0" r="3.1"/><circle cx="1434.4" cy="1521.5" r="3.1"/><circle cx="1499.0" cy="1521.5" r="3.1"/><circle cx="1434.4" cy="1586.0" r="3.1"/><circle cx="1499.0" cy="1586.0" r="3.1"/><circle cx="1563.6" cy="1586.0" r="3.1"/><circle cx="1072.6" cy="1650.5" r="3.1"/><circle cx="1072.6" cy="1658.2" r="3.1"/><circle cx="1111.4" cy="1650.5" r="3.1"/><circle cx="1111.4" cy="1658.2" r="3.1"/><circle cx="1176.0" cy="1650.5" r="3.1"/><circle cx="1176.0" cy="1658.2" r="3.1"/><circle cx="1240.6" cy="1650.5" r="3.1"/><circle cx="1240.6" cy="1658.2" r="3.1"/><circle cx="1305.2" cy="1650.5" r="3.1"/><circle cx="1305.2" cy="1658.2" r="3.1"/><circle cx="1369.8" cy="1650.5" r="3.1"/><circle cx="1369.8" cy="1658.2" r="3.1"/><circle cx="1434.4" cy="1650.5" r="3.1"/><circle cx="1434.4" cy="1658.2" r="3.1"/><circle cx="1499.0" cy="1650.5" r="3.1"/><circle cx="1499.0" cy="1658.2" r="3.1"/><circle cx="1563.6" cy="1650.5" r="3.1"/><circle cx="1563.6" cy="1658.2" r="3.1"/></g>
<g fill="none" stroke="#000" stroke-width="2.4"><circle cx="1434.4" cy="1199.0" r="5.6"/><circle cx="1499.0" cy="1199.0" r="5.6"/><circle cx="1434.4" cy="1263.5" r="5.6"/><circle cx="1499.0" cy="1263.5" r="5.6"/><circle cx="1499.0" cy="1328.0" r="5.6"/><circle cx="1563.6" cy="1457.0" r="5.6"/><circle cx="1628.2" cy="1586.0" r="5.6"/></g>
<path d="M1559.0 1194.4l9.2 9.2M1559.0 1203.6l9.2 -9.2M1623.6 1198.3l9.2 9.2M1623.6 1207.5l9.2 -9.2M1688.2 1194.4l9.2 9.2M1688.2 1203.6l9.2 -9.2M1752.8 1194.4l9.2 9.2M1752.8 1203.6l9.2 -9.2M1559.0 1258.9l9.2 9.2M1559.0 1268.1l9.2 -9.2M1623.6 1258.9l9.2 9.2M1623.6 1268.1l9.2 -9.2M1559.0 1323.4l9.2 9.2M1559.0 1332.6l9.2 -9.2M1623.6 1326.0l9.2 9.2M1623.6 1335.2l9.2 -9.2M1688.2 1331.1l9.2 9.2M1688.2 1340.3l9.2 -9.2M1752.8 1331.1l9.2 9.2M1752.8 1340.3l9.2 -9.2M1559.0 1387.9l9.2 9.2M1559.0 1397.1l9.2 -9.2M1623.6 1382.7l9.2 9.2M1623.6 1391.9l9.2 -9.2M1623.6 1452.4l9.2 9.2M1623.6 1461.6l9.2 -9.2M1688.2 1452.4l9.2 9.2M1688.2 1461.6l9.2 -9.2M1752.8 1452.4l9.2 9.2M1752.8 1461.6l9.2 -9.2M1623.6 1516.9l9.2 9.2M1623.6 1526.1l9.2 -9.2M1688.2 1578.8l9.2 9.2M1688.2 1588.0l9.2 -9.2M1752.8 1581.4l9.2 9.2M1752.8 1590.6l9.2 -9.2M1688.2 1645.9l9.2 9.2M1688.2 1655.1l9.2 -9.2" stroke="#000" stroke-width="2.2" fill="none"/>
<circle cx="1079" cy="1266.6" r="15.5" fill="#fff" stroke="#000" stroke-width="2"/><text x="1079" y="1274.1" text-anchor="middle" style="font-family:'Liberation Sans',Arial,sans-serif;font-size:21px">1</text>
<circle cx="1572.4" cy="1527.6" r="15.5" fill="#fff" stroke="#000" stroke-width="2"/><text x="1572.4" y="1535.1" text-anchor="middle" style="font-family:'Liberation Sans',Arial,sans-serif;font-size:21px">2</text>
<circle cx="1632" cy="1655" r="15.5" fill="#fff" stroke="#000" stroke-width="2"/><text x="1632" y="1662.5" text-anchor="middle" style="font-family:'Liberation Sans',Arial,sans-serif;font-size:21px">4</text>
<circle cx="1763" cy="1658" r="15.5" fill="#fff" stroke="#000" stroke-width="2"/><text x="1763" y="1665.5" text-anchor="middle" style="font-family:'Liberation Sans',Arial,sans-serif;font-size:21px">3</text>
<path d="M1047.3 1198.4V1715.9H1771.1" fill="none" stroke="#000" stroke-width="2.4" stroke-linecap="square"/><path d="M1046.8 1715.0h8M1046.8 1663.4h8M1046.8 1611.8h8M1046.8 1560.2h8M1046.8 1508.6h8M1046.8 1457.0h8M1046.8 1405.4h8M1046.8 1353.8h8M1046.8 1302.2h8M1046.8 1250.6h8M1046.8 1199.0h8M1046.8 1715.0v-7M1176.0 1715.0v-7M1305.2 1715.0v-7M1434.4 1715.0v-7M1563.6 1715.0v-7M1692.8 1715.0v-7" stroke="#000" stroke-width="2.2" fill="none"/><g style="font-family:'Liberation Sans',Arial,sans-serif;font-size:21px"><text x="1038.8" y="1721.6" text-anchor="end">0</text><text x="1038.8" y="1670.0" text-anchor="end">2</text><text x="1038.8" y="1618.4" text-anchor="end">4</text><text x="1038.8" y="1566.8" text-anchor="end">6</text><text x="1038.8" y="1515.2" text-anchor="end">8</text><text x="1038.8" y="1463.6" text-anchor="end">10</text><text x="1038.8" y="1412.0" text-anchor="end">12</text><text x="1038.8" y="1360.4" text-anchor="end">14</text><text x="1038.8" y="1308.8" text-anchor="end">16</text><text x="1038.8" y="1257.2" text-anchor="end">18</text><text x="1038.8" y="1205.6" text-anchor="end">20</text><text x="1046.8" y="1740.0" text-anchor="middle">0</text><text x="1176.0" y="1740.0" text-anchor="middle">5</text><text x="1305.2" y="1740.0" text-anchor="middle">10</text><text x="1434.4" y="1740.0" text-anchor="middle">15</text><text x="1563.6" y="1740.0" text-anchor="middle">20</text><text x="1692.8" y="1740.0" text-anchor="middle">25</text></g><text transform="translate(995,1459) rotate(-90)" text-anchor="middle" style="font-family:'Liberation Sans',Arial,sans-serif;font-size:21px">Water flow [µl/min]</text><text x="1408.7" y="1769.5" text-anchor="middle" style="font-family:'Liberation Sans',Arial,sans-serif;font-size:21px">Gas flow [mg/min]</text>
<linearGradient id="cbe" x1="0" y1="0" x2="0" y2="1"><stop offset="0.000" stop-color="#463a94"/><stop offset="0.025" stop-color="#433792"/><stop offset="0.050" stop-color="#464296"/><stop offset="0.075" stop-color="#494899"/><stop offset="0.100" stop-color="#4b4d9c"/><stop offset="0.125" stop-color="#4b52a0"/><stop offset="0.150" stop-color="#4b54a0"/><stop offset="0.175" stop-color="#4858a2"/><stop offset="0.200" stop-color="#485ca4"/><stop offset="0.225" stop-color="#4760a6"/><stop offset="0.250" stop-color="#4665aa"/><stop offset="0.275" stop-color="#466dae"/><stop offset="0.300" stop-color="#4675b6"/><stop offset="0.325" stop-color="#467fbe"/><stop offset="0.350" stop-color="#468bc6"/><stop offset="0.375" stop-color="#4497cd"/><stop offset="0.400" stop-color="#389fd1"/><stop offset="0.425" stop-color="#28a7d5"/><stop offset="0.450" stop-color="#20acd2"/><stop offset="0.475" stop-color="#22afc7"/><stop offset="0.500" stop-color="#2dafb7"/><stop offset="0.525" stop-color="#36b0ac"/><stop offset="0.550" stop-color="#3fb2a0"/><stop offset="0.575" stop-color="#49b393"/><stop offset="0.600" stop-color="#56b685"/><stop offset="0.625" stop-color="#65b976"/><stop offset="0.650" stop-color="#75bd66"/><stop offset="0.675" stop-color="#8bc156"/><stop offset="0.700" stop-color="#9fc146"/><stop offset="0.725" stop-color="#b0be35"/><stop offset="0.750" stop-color="#c4b72b"/><stop offset="0.775" stop-color="#d5b12a"/><stop offset="0.800" stop-color="#e4ad31"/><stop offset="0.825" stop-color="#f0aa41"/><stop offset="0.850" stop-color="#f3b044"/><stop offset="0.875" stop-color="#f6bb3e"/><stop offset="0.900" stop-color="#f6c835"/><stop offset="0.925" stop-color="#f4d232"/><stop offset="0.950" stop-color="#f0d737"/><stop offset="0.975" stop-color="#ecdc37"/><stop offset="1.000" stop-color="#e8de28"/></linearGradient>
<rect x="1784.3" y="1198.4" width="29.700000000000045" height="517.5" fill="url(#cbe)" stroke="#000" stroke-width="1.8"/>
<path d="M1814.0 1707.5h-6M1814.0 1655.7h-6M1814.0 1590.9h-6M1814.0 1526.1h-6M1814.0 1461.4h-6M1814.0 1396.6h-6M1814.0 1331.8h-6M1814.0 1267.1h-6" stroke="#000" stroke-width="2.2"/>
<g style="font-family:'Liberation Sans',Arial,sans-serif;font-size:21px"><text x="1825.0" y="1714.8">0.6</text><text x="1825.0" y="1663.0">1</text><text x="1825.0" y="1598.2">1.5</text><text x="1825.0" y="1533.4">2</text><text x="1825.0" y="1468.7">2.5</text><text x="1825.0" y="1403.9">3</text><text x="1825.0" y="1339.1">3.5</text><text x="1825.0" y="1274.4">4</text></g>
<text transform="translate(1879,1459) rotate(-90)" text-anchor="middle" style="font-family:'Liberation Sans',Arial,sans-serif;font-size:21px">Jet diameter [µm]</text></svg></body></html>
